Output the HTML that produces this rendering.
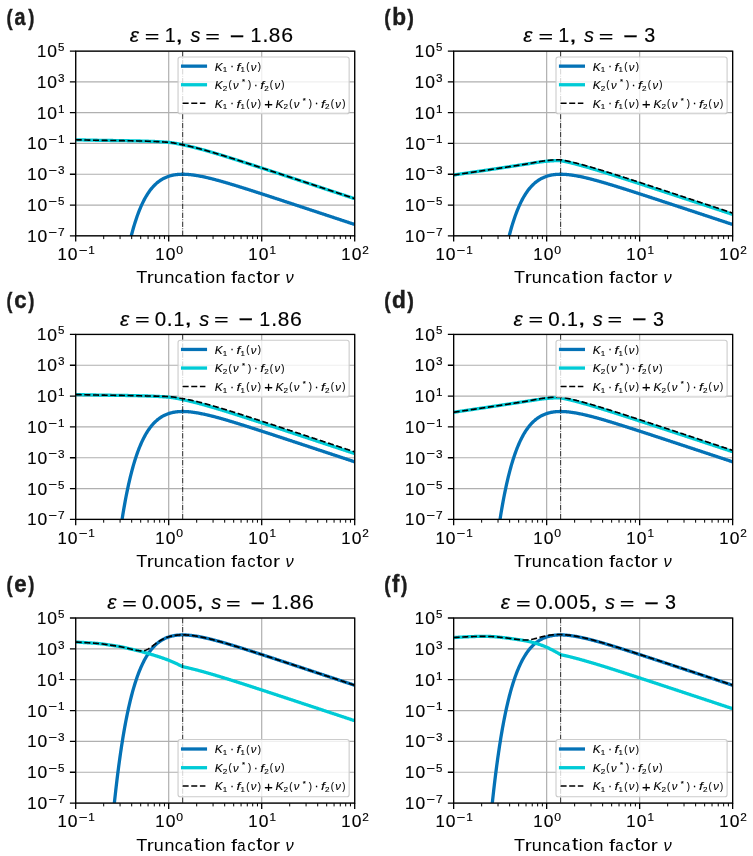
<!DOCTYPE html><html><head><meta charset="utf-8"><title>Truncation factor plots</title><style>html,body{margin:0;padding:0;background:#fff;}svg{display:block;will-change:transform;}text{font-family:"Liberation Sans",sans-serif;font-kerning:none;}</style></head><body>
<svg width="753" height="856" viewBox="0 0 753 856" font-family="Liberation Sans, sans-serif">
<rect width="753" height="856" fill="#fff"/>
<clipPath id="clipa"><rect x="75.7" y="51.15" width="279.0" height="184.65"/></clipPath>
<path d="M75.70,51.15V235.80 M168.70,51.15V235.80 M261.70,51.15V235.80 M354.70,51.15V235.80 M75.70,235.80H354.70 M75.70,205.03H354.70 M75.70,174.25H354.70 M75.70,143.47H354.70 M75.70,112.70H354.70 M75.70,81.92H354.70 M75.70,51.15H354.70" stroke="#b0b0b0" stroke-width="1.2" fill="none"/>
<g clip-path="url(#clipa)" fill="none">
<path d="M126.27,258.16 L126.85,255.25 L127.43,252.43 L128.01,249.70 L128.59,247.05 L129.18,244.48 L129.76,241.98 L130.34,239.57 L130.92,237.23 L131.50,234.96 L132.08,232.75 L132.66,230.62 L133.24,228.56 L133.82,226.55 L134.41,224.61 L134.99,222.73 L135.57,220.91 L136.15,219.15 L136.73,217.44 L137.31,215.79 L137.89,214.19 L138.47,212.63 L139.06,211.13 L139.64,209.68 L140.22,208.27 L140.80,206.91 L141.38,205.59 L141.96,204.32 L142.54,203.09 L143.12,201.89 L143.71,200.74 L144.29,199.63 L144.87,198.55 L145.45,197.51 L146.03,196.50 L146.61,195.53 L147.19,194.59 L147.78,193.68 L148.36,192.80 L148.94,191.96 L149.52,191.14 L150.10,190.35 L150.68,189.59 L151.26,188.86 L151.84,188.15 L152.43,187.47 L153.01,186.81 L153.59,186.18 L154.17,185.57 L154.75,184.99 L155.33,184.42 L155.91,183.88 L156.49,183.36 L157.07,182.86 L157.66,182.37 L158.24,181.91 L158.82,181.47 L159.40,181.04 L159.98,180.63 L160.56,180.24 L161.14,179.87 L161.73,179.51 L162.31,179.16 L162.89,178.83 L163.47,178.52 L164.05,178.22 L164.63,177.94 L165.21,177.67 L165.79,177.41 L166.38,177.16 L166.96,176.93 L167.54,176.71 L168.12,176.50 L168.70,176.30 L169.28,176.11 L169.86,175.94 L170.44,175.77 L171.03,175.62 L171.61,175.47 L172.19,175.33 L172.77,175.21 L173.35,175.09 L173.93,174.98 L174.51,174.88 L175.09,174.79 L175.68,174.71 L176.26,174.63 L176.84,174.56 L177.42,174.50 L178.00,174.45 L178.58,174.40 L179.16,174.36 L179.74,174.33 L180.32,174.30 L180.91,174.28 L181.49,174.26 L182.07,174.25 L182.65,174.25 L182.70,174.25 L183.23,174.25 L183.81,174.26 L184.39,174.27 L184.98,174.29 L185.56,174.31 L186.14,174.34 L186.72,174.37 L187.30,174.41 L187.88,174.45 L188.46,174.50 L189.04,174.55 L189.62,174.60 L190.21,174.66 L190.79,174.72 L191.37,174.79 L191.95,174.86 L192.53,174.93 L193.11,175.00 L193.69,175.08 L194.28,175.17 L194.86,175.25 L195.44,175.34 L196.02,175.43 L196.60,175.52 L197.18,175.62 L197.76,175.72 L198.34,175.82 L198.93,175.93 L199.51,176.04 L200.09,176.15 L200.67,176.26 L201.25,176.37 L201.83,176.49 L202.41,176.61 L202.99,176.73 L203.57,176.85 L204.16,176.98 L204.74,177.10 L205.32,177.23 L205.90,177.36 L206.48,177.50 L207.06,177.63 L207.64,177.77 L208.23,177.90 L208.81,178.04 L209.39,178.18 L209.97,178.32 L210.55,178.47 L211.13,178.61 L211.71,178.76 L212.29,178.90 L212.88,179.05 L213.46,179.20 L214.04,179.35 L214.62,179.51 L215.20,179.66 L215.78,179.81 L216.36,179.97 L216.94,180.13 L217.53,180.28 L218.11,180.44 L218.69,180.60 L219.27,180.76 L219.85,180.92 L220.43,181.09 L221.01,181.25 L221.59,181.41 L222.18,181.58 L222.76,181.74 L223.34,181.91 L223.92,182.08 L224.50,182.24 L225.08,182.41 L225.66,182.58 L226.24,182.75 L226.82,182.92 L227.41,183.09 L227.99,183.26 L228.57,183.44 L229.15,183.61 L229.73,183.78 L230.31,183.96 L230.89,184.13 L231.48,184.31 L232.06,184.48 L232.64,184.66 L233.22,184.83 L233.80,185.01 L234.38,185.19 L234.96,185.36 L235.54,185.54 L236.12,185.72 L236.71,185.90 L237.29,186.08 L237.87,186.26 L238.45,186.44 L239.03,186.62 L239.61,186.80 L240.19,186.98 L240.77,187.16 L241.36,187.34 L241.94,187.53 L242.52,187.71 L243.10,187.89 L243.68,188.07 L244.26,188.26 L244.84,188.44 L245.43,188.62 L246.01,188.81 L246.59,188.99 L247.17,189.18 L247.75,189.36 L248.33,189.55 L248.91,189.73 L249.49,189.92 L250.07,190.10 L250.66,190.29 L251.24,190.47 L251.82,190.66 L252.40,190.84 L252.98,191.03 L253.56,191.22 L254.14,191.40 L254.73,191.59 L255.31,191.78 L255.89,191.96 L256.47,192.15 L257.05,192.34 L257.63,192.53 L258.21,192.71 L258.79,192.90 L259.38,193.09 L259.96,193.28 L260.54,193.47 L261.12,193.66 L261.70,193.84 L262.28,194.03 L262.86,194.22 L263.44,194.41 L264.02,194.60 L264.61,194.79 L265.19,194.98 L265.77,195.17 L266.35,195.36 L266.93,195.54 L267.51,195.73 L268.09,195.92 L268.68,196.11 L269.26,196.30 L269.84,196.49 L270.42,196.68 L271.00,196.87 L271.58,197.06 L272.16,197.25 L272.74,197.44 L273.32,197.63 L273.91,197.82 L274.49,198.01 L275.07,198.20 L275.65,198.39 L276.23,198.58 L276.81,198.77 L277.39,198.96 L277.98,199.16 L278.56,199.35 L279.14,199.54 L279.72,199.73 L280.30,199.92 L280.88,200.11 L281.46,200.30 L282.04,200.49 L282.62,200.68 L283.21,200.87 L283.79,201.06 L284.37,201.26 L284.95,201.45 L285.53,201.64 L286.11,201.83 L286.69,202.02 L287.27,202.21 L287.86,202.40 L288.44,202.59 L289.02,202.78 L289.60,202.98 L290.18,203.17 L290.76,203.36 L291.34,203.55 L291.93,203.74 L292.51,203.93 L293.09,204.13 L293.67,204.32 L294.25,204.51 L294.83,204.70 L295.41,204.89 L295.99,205.08 L296.57,205.27 L297.16,205.47 L297.74,205.66 L298.32,205.85 L298.90,206.04 L299.48,206.23 L300.06,206.42 L300.64,206.62 L301.23,206.81 L301.81,207.00 L302.39,207.19 L302.97,207.38 L303.55,207.58 L304.13,207.77 L304.71,207.96 L305.29,208.15 L305.88,208.34 L306.46,208.54 L307.04,208.73 L307.62,208.92 L308.20,209.11 L308.78,209.30 L309.36,209.49 L309.94,209.69 L310.53,209.88 L311.11,210.07 L311.69,210.26 L312.27,210.46 L312.85,210.65 L313.43,210.84 L314.01,211.03 L314.59,211.22 L315.18,211.42 L315.76,211.61 L316.34,211.80 L316.92,211.99 L317.50,212.18 L318.08,212.38 L318.66,212.57 L319.24,212.76 L319.82,212.95 L320.41,213.14 L320.99,213.34 L321.57,213.53 L322.15,213.72 L322.73,213.91 L323.31,214.10 L323.89,214.30 L324.48,214.49 L325.06,214.68 L325.64,214.87 L326.22,215.07 L326.80,215.26 L327.38,215.45 L327.96,215.64 L328.54,215.83 L329.12,216.03 L329.71,216.22 L330.29,216.41 L330.87,216.60 L331.45,216.80 L332.03,216.99 L332.61,217.18 L333.19,217.37 L333.78,217.56 L334.36,217.76 L334.94,217.95 L335.52,218.14 L336.10,218.33 L336.68,218.53 L337.26,218.72 L337.84,218.91 L338.43,219.10 L339.01,219.29 L339.59,219.49 L340.17,219.68 L340.75,219.87 L341.33,220.06 L341.91,220.26 L342.49,220.45 L343.07,220.64 L343.66,220.83 L344.24,221.03 L344.82,221.22 L345.40,221.41 L345.98,221.60 L346.56,221.79 L347.14,221.99 L347.73,222.18 L348.31,222.37 L348.89,222.56 L349.47,222.76 L350.05,222.95 L350.63,223.14 L351.21,223.33 L351.79,223.53 L352.38,223.72 L352.96,223.91 L353.54,224.10 L354.12,224.29 L354.70,224.49" stroke="#0472b6" stroke-width="3.3" stroke-linejoin="round"/>
<path d="M75.70,139.78 L76.28,139.80 L76.86,139.81 L77.44,139.83 L78.03,139.84 L78.61,139.85 L79.19,139.87 L79.77,139.88 L80.35,139.90 L80.93,139.91 L81.51,139.93 L82.09,139.94 L82.67,139.95 L83.26,139.97 L83.84,139.98 L84.42,140.00 L85.00,140.01 L85.58,140.02 L86.16,140.04 L86.74,140.05 L87.33,140.06 L87.91,140.08 L88.49,140.09 L89.07,140.10 L89.65,140.11 L90.23,140.13 L90.81,140.14 L91.39,140.15 L91.98,140.16 L92.56,140.18 L93.14,140.19 L93.72,140.20 L94.30,140.21 L94.88,140.22 L95.46,140.24 L96.04,140.25 L96.62,140.26 L97.21,140.27 L97.79,140.28 L98.37,140.29 L98.95,140.30 L99.53,140.31 L100.11,140.32 L100.69,140.34 L101.28,140.35 L101.86,140.36 L102.44,140.37 L103.02,140.37 L103.60,140.38 L104.18,140.39 L104.76,140.40 L105.34,140.41 L105.92,140.42 L106.51,140.43 L107.09,140.44 L107.67,140.45 L108.25,140.45 L108.83,140.46 L109.41,140.47 L109.99,140.48 L110.58,140.49 L111.16,140.49 L111.74,140.50 L112.32,140.51 L112.90,140.52 L113.48,140.53 L114.06,140.53 L114.64,140.54 L115.23,140.55 L115.81,140.56 L116.39,140.57 L116.97,140.57 L117.55,140.58 L118.13,140.59 L118.71,140.60 L119.29,140.61 L119.88,140.61 L120.46,140.62 L121.04,140.63 L121.62,140.64 L122.20,140.65 L122.78,140.66 L123.36,140.67 L123.94,140.68 L124.53,140.69 L125.11,140.69 L125.69,140.70 L126.27,140.71 L126.85,140.72 L127.43,140.74 L128.01,140.75 L128.59,140.76 L129.18,140.77 L129.76,140.78 L130.34,140.79 L130.92,140.80 L131.50,140.81 L132.08,140.83 L132.66,140.84 L133.24,140.85 L133.82,140.86 L134.41,140.88 L134.99,140.89 L135.57,140.90 L136.15,140.91 L136.73,140.93 L137.31,140.94 L137.89,140.96 L138.47,140.97 L139.06,140.98 L139.64,141.00 L140.22,141.01 L140.80,141.03 L141.38,141.05 L141.96,141.06 L142.54,141.08 L143.12,141.09 L143.71,141.11 L144.29,141.13 L144.87,141.15 L145.45,141.16 L146.03,141.18 L146.61,141.20 L147.19,141.22 L147.78,141.24 L148.36,141.26 L148.94,141.28 L149.52,141.30 L150.10,141.32 L150.68,141.34 L151.26,141.36 L151.84,141.39 L152.43,141.41 L153.01,141.43 L153.59,141.46 L154.17,141.48 L154.75,141.51 L155.33,141.53 L155.91,141.56 L156.49,141.59 L157.07,141.62 L157.66,141.64 L158.24,141.67 L158.82,141.71 L159.40,141.74 L159.98,141.77 L160.56,141.80 L161.14,141.84 L161.73,141.87 L162.31,141.91 L162.89,141.95 L163.47,141.99 L164.05,142.03 L164.63,142.07 L165.21,142.11 L165.79,142.16 L166.38,142.20 L166.96,142.25 L167.54,142.30 L168.12,142.35 L168.70,142.40 L169.28,142.45 L169.86,142.51 L170.44,142.58 L171.03,142.65 L171.61,142.73 L172.19,142.81 L172.77,142.89 L173.35,142.98 L173.93,143.08 L174.51,143.18 L175.09,143.28 L175.68,143.38 L176.26,143.49 L176.84,143.61 L177.42,143.72 L178.00,143.84 L178.58,143.96 L179.16,144.08 L179.74,144.20 L180.32,144.33 L180.91,144.46 L181.49,144.59 L182.07,144.72 L182.65,144.85 L182.70,144.86 L183.23,144.97 L183.81,145.08 L184.39,145.20 L184.98,145.33 L185.56,145.45 L186.14,145.57 L186.72,145.70 L187.30,145.83 L187.88,145.96 L188.46,146.09 L189.04,146.22 L189.62,146.36 L190.21,146.50 L190.79,146.63 L191.37,146.77 L191.95,146.91 L192.53,147.05 L193.11,147.20 L193.69,147.34 L194.28,147.48 L194.86,147.63 L195.44,147.78 L196.02,147.93 L196.60,148.08 L197.18,148.23 L197.76,148.38 L198.34,148.53 L198.93,148.68 L199.51,148.84 L200.09,148.99 L200.67,149.15 L201.25,149.31 L201.83,149.47 L202.41,149.62 L202.99,149.78 L203.57,149.94 L204.16,150.11 L204.74,150.27 L205.32,150.43 L205.90,150.59 L206.48,150.76 L207.06,150.92 L207.64,151.09 L208.23,151.26 L208.81,151.42 L209.39,151.59 L209.97,151.76 L210.55,151.93 L211.13,152.10 L211.71,152.27 L212.29,152.44 L212.88,152.61 L213.46,152.78 L214.04,152.95 L214.62,153.13 L215.20,153.30 L215.78,153.47 L216.36,153.65 L216.94,153.82 L217.53,154.00 L218.11,154.17 L218.69,154.35 L219.27,154.52 L219.85,154.70 L220.43,154.88 L221.01,155.05 L221.59,155.23 L222.18,155.41 L222.76,155.59 L223.34,155.77 L223.92,155.95 L224.50,156.13 L225.08,156.30 L225.66,156.48 L226.24,156.67 L226.82,156.85 L227.41,157.03 L227.99,157.21 L228.57,157.39 L229.15,157.57 L229.73,157.75 L230.31,157.94 L230.89,158.12 L231.48,158.30 L232.06,158.48 L232.64,158.67 L233.22,158.85 L233.80,159.03 L234.38,159.22 L234.96,159.40 L235.54,159.59 L236.12,159.77 L236.71,159.96 L237.29,160.14 L237.87,160.33 L238.45,160.51 L239.03,160.70 L239.61,160.88 L240.19,161.07 L240.77,161.25 L241.36,161.44 L241.94,161.63 L242.52,161.81 L243.10,162.00 L243.68,162.19 L244.26,162.37 L244.84,162.56 L245.43,162.75 L246.01,162.93 L246.59,163.12 L247.17,163.31 L247.75,163.50 L248.33,163.68 L248.91,163.87 L249.49,164.06 L250.07,164.25 L250.66,164.44 L251.24,164.62 L251.82,164.81 L252.40,165.00 L252.98,165.19 L253.56,165.38 L254.14,165.57 L254.73,165.76 L255.31,165.94 L255.89,166.13 L256.47,166.32 L257.05,166.51 L257.63,166.70 L258.21,166.89 L258.79,167.08 L259.38,167.27 L259.96,167.46 L260.54,167.65 L261.12,167.84 L261.70,168.03 L262.28,168.22 L262.86,168.41 L263.44,168.60 L264.02,168.79 L264.61,168.98 L265.19,169.17 L265.77,169.36 L266.35,169.55 L266.93,169.74 L267.51,169.93 L268.09,170.12 L268.68,170.31 L269.26,170.50 L269.84,170.69 L270.42,170.88 L271.00,171.07 L271.58,171.26 L272.16,171.45 L272.74,171.64 L273.32,171.83 L273.91,172.03 L274.49,172.22 L275.07,172.41 L275.65,172.60 L276.23,172.79 L276.81,172.98 L277.39,173.17 L277.98,173.36 L278.56,173.55 L279.14,173.74 L279.72,173.94 L280.30,174.13 L280.88,174.32 L281.46,174.51 L282.04,174.70 L282.62,174.89 L283.21,175.08 L283.79,175.27 L284.37,175.47 L284.95,175.66 L285.53,175.85 L286.11,176.04 L286.69,176.23 L287.27,176.42 L287.86,176.61 L288.44,176.81 L289.02,177.00 L289.60,177.19 L290.18,177.38 L290.76,177.57 L291.34,177.76 L291.93,177.96 L292.51,178.15 L293.09,178.34 L293.67,178.53 L294.25,178.72 L294.83,178.91 L295.41,179.11 L295.99,179.30 L296.57,179.49 L297.16,179.68 L297.74,179.87 L298.32,180.06 L298.90,180.26 L299.48,180.45 L300.06,180.64 L300.64,180.83 L301.23,181.02 L301.81,181.22 L302.39,181.41 L302.97,181.60 L303.55,181.79 L304.13,181.98 L304.71,182.17 L305.29,182.37 L305.88,182.56 L306.46,182.75 L307.04,182.94 L307.62,183.13 L308.20,183.33 L308.78,183.52 L309.36,183.71 L309.94,183.90 L310.53,184.09 L311.11,184.29 L311.69,184.48 L312.27,184.67 L312.85,184.86 L313.43,185.05 L314.01,185.25 L314.59,185.44 L315.18,185.63 L315.76,185.82 L316.34,186.02 L316.92,186.21 L317.50,186.40 L318.08,186.59 L318.66,186.78 L319.24,186.98 L319.82,187.17 L320.41,187.36 L320.99,187.55 L321.57,187.74 L322.15,187.94 L322.73,188.13 L323.31,188.32 L323.89,188.51 L324.48,188.71 L325.06,188.90 L325.64,189.09 L326.22,189.28 L326.80,189.47 L327.38,189.67 L327.96,189.86 L328.54,190.05 L329.12,190.24 L329.71,190.44 L330.29,190.63 L330.87,190.82 L331.45,191.01 L332.03,191.20 L332.61,191.40 L333.19,191.59 L333.78,191.78 L334.36,191.97 L334.94,192.16 L335.52,192.36 L336.10,192.55 L336.68,192.74 L337.26,192.93 L337.84,193.13 L338.43,193.32 L339.01,193.51 L339.59,193.70 L340.17,193.90 L340.75,194.09 L341.33,194.28 L341.91,194.47 L342.49,194.66 L343.07,194.86 L343.66,195.05 L344.24,195.24 L344.82,195.43 L345.40,195.63 L345.98,195.82 L346.56,196.01 L347.14,196.20 L347.73,196.39 L348.31,196.59 L348.89,196.78 L349.47,196.97 L350.05,197.16 L350.63,197.36 L351.21,197.55 L351.79,197.74 L352.38,197.93 L352.96,198.13 L353.54,198.32 L354.12,198.51 L354.70,198.70" stroke="#00cbd6" stroke-width="3.3" stroke-linejoin="round"/>
<path d="M75.70,139.78 L76.28,139.80 L76.86,139.81 L77.44,139.83 L78.03,139.84 L78.61,139.85 L79.19,139.87 L79.77,139.88 L80.35,139.90 L80.93,139.91 L81.51,139.93 L82.09,139.94 L82.67,139.95 L83.26,139.97 L83.84,139.98 L84.42,140.00 L85.00,140.01 L85.58,140.02 L86.16,140.04 L86.74,140.05 L87.33,140.06 L87.91,140.08 L88.49,140.09 L89.07,140.10 L89.65,140.11 L90.23,140.13 L90.81,140.14 L91.39,140.15 L91.98,140.16 L92.56,140.18 L93.14,140.19 L93.72,140.20 L94.30,140.21 L94.88,140.22 L95.46,140.24 L96.04,140.25 L96.62,140.26 L97.21,140.27 L97.79,140.28 L98.37,140.29 L98.95,140.30 L99.53,140.31 L100.11,140.32 L100.69,140.34 L101.28,140.35 L101.86,140.36 L102.44,140.37 L103.02,140.37 L103.60,140.38 L104.18,140.39 L104.76,140.40 L105.34,140.41 L105.92,140.42 L106.51,140.43 L107.09,140.44 L107.67,140.45 L108.25,140.45 L108.83,140.46 L109.41,140.47 L109.99,140.48 L110.58,140.49 L111.16,140.49 L111.74,140.50 L112.32,140.51 L112.90,140.52 L113.48,140.53 L114.06,140.53 L114.64,140.54 L115.23,140.55 L115.81,140.56 L116.39,140.57 L116.97,140.57 L117.55,140.58 L118.13,140.59 L118.71,140.60 L119.29,140.61 L119.88,140.61 L120.46,140.62 L121.04,140.63 L121.62,140.64 L122.20,140.65 L122.78,140.66 L123.36,140.67 L123.94,140.68 L124.53,140.69 L125.11,140.69 L125.69,140.70 L126.27,140.71 L126.85,140.72 L127.43,140.74 L128.01,140.75 L128.59,140.76 L129.18,140.77 L129.76,140.78 L130.34,140.79 L130.92,140.80 L131.50,140.81 L132.08,140.83 L132.66,140.84 L133.24,140.85 L133.82,140.86 L134.41,140.88 L134.99,140.89 L135.57,140.90 L136.15,140.91 L136.73,140.93 L137.31,140.94 L137.89,140.96 L138.47,140.97 L139.06,140.98 L139.64,141.00 L140.22,141.01 L140.80,141.03 L141.38,141.04 L141.96,141.06 L142.54,141.08 L143.12,141.09 L143.71,141.11 L144.29,141.13 L144.87,141.14 L145.45,141.16 L146.03,141.18 L146.61,141.20 L147.19,141.22 L147.78,141.24 L148.36,141.26 L148.94,141.28 L149.52,141.30 L150.10,141.32 L150.68,141.34 L151.26,141.36 L151.84,141.38 L152.43,141.40 L153.01,141.43 L153.59,141.45 L154.17,141.47 L154.75,141.50 L155.33,141.52 L155.91,141.55 L156.49,141.57 L157.07,141.60 L157.66,141.63 L158.24,141.66 L158.82,141.69 L159.40,141.72 L159.98,141.75 L160.56,141.78 L161.14,141.82 L161.73,141.85 L162.31,141.89 L162.89,141.92 L163.47,141.96 L164.05,142.00 L164.63,142.04 L165.21,142.08 L165.79,142.12 L166.38,142.17 L166.96,142.21 L167.54,142.26 L168.12,142.31 L168.70,142.36 L169.28,142.41 L169.86,142.47 L170.44,142.53 L171.03,142.60 L171.61,142.68 L172.19,142.76 L172.77,142.84 L173.35,142.93 L173.93,143.02 L174.51,143.12 L175.09,143.22 L175.68,143.32 L176.26,143.43 L176.84,143.54 L177.42,143.65 L178.00,143.77 L178.58,143.89 L179.16,144.01 L179.74,144.13 L180.32,144.26 L180.91,144.38 L181.49,144.51 L182.07,144.64 L182.65,144.77 L182.70,144.78 L183.23,144.88 L183.81,145.00 L184.39,145.12 L184.98,145.24 L185.56,145.36 L186.14,145.49 L186.72,145.61 L187.30,145.74 L187.88,145.87 L188.46,146.00 L189.04,146.13 L189.62,146.26 L190.21,146.40 L190.79,146.53 L191.37,146.67 L191.95,146.81 L192.53,146.95 L193.11,147.09 L193.69,147.23 L194.28,147.38 L194.86,147.52 L195.44,147.67 L196.02,147.82 L196.60,147.97 L197.18,148.12 L197.76,148.27 L198.34,148.42 L198.93,148.57 L199.51,148.72 L200.09,148.88 L200.67,149.04 L201.25,149.19 L201.83,149.35 L202.41,149.51 L202.99,149.67 L203.57,149.83 L204.16,149.99 L204.74,150.15 L205.32,150.31 L205.90,150.47 L206.48,150.64 L207.06,150.80 L207.64,150.97 L208.23,151.13 L208.81,151.30 L209.39,151.47 L209.97,151.63 L210.55,151.80 L211.13,151.97 L211.71,152.14 L212.29,152.31 L212.88,152.48 L213.46,152.65 L214.04,152.83 L214.62,153.00 L215.20,153.17 L215.78,153.34 L216.36,153.52 L216.94,153.69 L217.53,153.87 L218.11,154.04 L218.69,154.22 L219.27,154.39 L219.85,154.57 L220.43,154.75 L221.01,154.92 L221.59,155.10 L222.18,155.28 L222.76,155.46 L223.34,155.63 L223.92,155.81 L224.50,155.99 L225.08,156.17 L225.66,156.35 L226.24,156.53 L226.82,156.71 L227.41,156.89 L227.99,157.07 L228.57,157.26 L229.15,157.44 L229.73,157.62 L230.31,157.80 L230.89,157.98 L231.48,158.17 L232.06,158.35 L232.64,158.53 L233.22,158.72 L233.80,158.90 L234.38,159.08 L234.96,159.27 L235.54,159.45 L236.12,159.64 L236.71,159.82 L237.29,160.00 L237.87,160.19 L238.45,160.37 L239.03,160.56 L239.61,160.75 L240.19,160.93 L240.77,161.12 L241.36,161.30 L241.94,161.49 L242.52,161.68 L243.10,161.86 L243.68,162.05 L244.26,162.24 L244.84,162.42 L245.43,162.61 L246.01,162.80 L246.59,162.98 L247.17,163.17 L247.75,163.36 L248.33,163.55 L248.91,163.73 L249.49,163.92 L250.07,164.11 L250.66,164.30 L251.24,164.49 L251.82,164.67 L252.40,164.86 L252.98,165.05 L253.56,165.24 L254.14,165.43 L254.73,165.62 L255.31,165.81 L255.89,166.00 L256.47,166.18 L257.05,166.37 L257.63,166.56 L258.21,166.75 L258.79,166.94 L259.38,167.13 L259.96,167.32 L260.54,167.51 L261.12,167.70 L261.70,167.89 L262.28,168.08 L262.86,168.27 L263.44,168.46 L264.02,168.65 L264.61,168.84 L265.19,169.03 L265.77,169.22 L266.35,169.41 L266.93,169.60 L267.51,169.79 L268.09,169.98 L268.68,170.17 L269.26,170.36 L269.84,170.55 L270.42,170.74 L271.00,170.93 L271.58,171.12 L272.16,171.31 L272.74,171.50 L273.32,171.70 L273.91,171.89 L274.49,172.08 L275.07,172.27 L275.65,172.46 L276.23,172.65 L276.81,172.84 L277.39,173.03 L277.98,173.22 L278.56,173.41 L279.14,173.60 L279.72,173.80 L280.30,173.99 L280.88,174.18 L281.46,174.37 L282.04,174.56 L282.62,174.75 L283.21,174.94 L283.79,175.13 L284.37,175.33 L284.95,175.52 L285.53,175.71 L286.11,175.90 L286.69,176.09 L287.27,176.28 L287.86,176.47 L288.44,176.67 L289.02,176.86 L289.60,177.05 L290.18,177.24 L290.76,177.43 L291.34,177.62 L291.93,177.82 L292.51,178.01 L293.09,178.20 L293.67,178.39 L294.25,178.58 L294.83,178.77 L295.41,178.97 L295.99,179.16 L296.57,179.35 L297.16,179.54 L297.74,179.73 L298.32,179.92 L298.90,180.12 L299.48,180.31 L300.06,180.50 L300.64,180.69 L301.23,180.88 L301.81,181.08 L302.39,181.27 L302.97,181.46 L303.55,181.65 L304.13,181.84 L304.71,182.04 L305.29,182.23 L305.88,182.42 L306.46,182.61 L307.04,182.80 L307.62,183.00 L308.20,183.19 L308.78,183.38 L309.36,183.57 L309.94,183.76 L310.53,183.96 L311.11,184.15 L311.69,184.34 L312.27,184.53 L312.85,184.72 L313.43,184.92 L314.01,185.11 L314.59,185.30 L315.18,185.49 L315.76,185.68 L316.34,185.88 L316.92,186.07 L317.50,186.26 L318.08,186.45 L318.66,186.64 L319.24,186.84 L319.82,187.03 L320.41,187.22 L320.99,187.41 L321.57,187.60 L322.15,187.80 L322.73,187.99 L323.31,188.18 L323.89,188.37 L324.48,188.57 L325.06,188.76 L325.64,188.95 L326.22,189.14 L326.80,189.33 L327.38,189.53 L327.96,189.72 L328.54,189.91 L329.12,190.10 L329.71,190.30 L330.29,190.49 L330.87,190.68 L331.45,190.87 L332.03,191.06 L332.61,191.26 L333.19,191.45 L333.78,191.64 L334.36,191.83 L334.94,192.03 L335.52,192.22 L336.10,192.41 L336.68,192.60 L337.26,192.79 L337.84,192.99 L338.43,193.18 L339.01,193.37 L339.59,193.56 L340.17,193.76 L340.75,193.95 L341.33,194.14 L341.91,194.33 L342.49,194.52 L343.07,194.72 L343.66,194.91 L344.24,195.10 L344.82,195.29 L345.40,195.49 L345.98,195.68 L346.56,195.87 L347.14,196.06 L347.73,196.26 L348.31,196.45 L348.89,196.64 L349.47,196.83 L350.05,197.02 L350.63,197.22 L351.21,197.41 L351.79,197.60 L352.38,197.79 L352.96,197.99 L353.54,198.18 L354.12,198.37 L354.70,198.56" stroke="#000" stroke-width="1.63" stroke-dasharray="6.03 2.61"/>
<path d="M182.70,51.15V235.80" stroke="#000" stroke-width="0.85" stroke-dasharray="5.4 1.36 0.85 1.36"/>
</g>
<rect x="178.05" y="56.95" width="171.1" height="56.75" rx="2.3" fill="#fff" fill-opacity="0.8" stroke="#cccccc" stroke-width="1.1"/>
<path d="M182.61,66.15H205.41" stroke="#0472b6" stroke-width="3.3" stroke-linecap="square"/>
<path d="M182.61,84.75H205.41" stroke="#00cbd6" stroke-width="3.3" stroke-linecap="square"/>
<path d="M182.61,103.25H205.41" stroke="#000" stroke-width="1.63" stroke-dasharray="6.03 2.61"/>
<g fill="#000" stroke="#000" stroke-width="0.12"><text transform="translate(214.82,70.55) scale(1.033,1.007)" font-size="11.40" font-style="italic">K</text><text transform="translate(222.77,72.33) scale(1.007,1.007)" font-size="7.98">1</text><text transform="translate(230.02,70.18) scale(1.082,1.097)" font-size="11.40">·</text><text transform="translate(236.53,70.55) scale(1.241,0.996)" font-size="11.40" font-style="italic">f</text><text transform="translate(240.59,72.33) scale(1.007,1.007)" font-size="7.98">1</text><text transform="translate(246.20,69.83) scale(0.845,0.908)" font-size="11.40">(</text><text transform="translate(250.83,70.55) scale(0.988,0.983)" font-size="11.40" font-style="italic">ν</text><text transform="translate(257.71,69.83) scale(0.845,0.908)" font-size="11.40">)</text><text transform="translate(214.82,89.15) scale(1.033,1.007)" font-size="11.40" font-style="italic">K</text><text transform="translate(222.68,90.93) scale(1.016,1.010)" font-size="7.98">2</text><text transform="translate(228.38,88.43) scale(0.845,0.908)" font-size="11.40">(</text><text transform="translate(233.01,89.15) scale(0.988,0.983)" font-size="11.40" font-style="italic">ν</text><text transform="translate(242.00,84.29) scale(1.232,1.234)" font-size="6.38">*</text><text transform="translate(247.97,88.43) scale(0.845,0.908)" font-size="11.40">)</text><text transform="translate(253.67,88.78) scale(1.082,1.097)" font-size="11.40">·</text><text transform="translate(260.17,89.15) scale(1.241,0.996)" font-size="11.40" font-style="italic">f</text><text transform="translate(264.15,90.93) scale(1.016,1.010)" font-size="7.98">2</text><text transform="translate(269.85,88.43) scale(0.845,0.908)" font-size="11.40">(</text><text transform="translate(274.48,89.15) scale(0.988,0.983)" font-size="11.40" font-style="italic">ν</text><text transform="translate(281.35,88.43) scale(0.845,0.908)" font-size="11.40">)</text><text transform="translate(214.82,107.65) scale(1.033,1.007)" font-size="11.40" font-style="italic">K</text><text transform="translate(222.77,109.43) scale(1.007,1.007)" font-size="7.98">1</text><text transform="translate(230.02,107.28) scale(1.082,1.097)" font-size="11.40">·</text><text transform="translate(236.53,107.65) scale(1.241,0.996)" font-size="11.40" font-style="italic">f</text><text transform="translate(240.59,109.43) scale(1.007,1.007)" font-size="7.98">1</text><text transform="translate(246.20,106.93) scale(0.845,0.908)" font-size="11.40">(</text><text transform="translate(250.83,107.65) scale(0.988,0.983)" font-size="11.40" font-style="italic">ν</text><text transform="translate(257.71,106.93) scale(0.845,0.908)" font-size="11.40">)</text><text transform="translate(264.14,108.87) scale(1.288,1.217)" font-size="11.40">+</text><text transform="translate(275.61,107.65) scale(1.033,1.007)" font-size="11.40" font-style="italic">K</text><text transform="translate(283.46,109.43) scale(1.016,1.010)" font-size="7.98">2</text><text transform="translate(289.17,106.93) scale(0.845,0.908)" font-size="11.40">(</text><text transform="translate(293.79,107.65) scale(0.988,0.983)" font-size="11.40" font-style="italic">ν</text><text transform="translate(302.78,102.79) scale(1.232,1.234)" font-size="6.38">*</text><text transform="translate(308.75,106.93) scale(0.845,0.908)" font-size="11.40">)</text><text transform="translate(314.45,107.28) scale(1.082,1.097)" font-size="11.40">·</text><text transform="translate(320.95,107.65) scale(1.241,0.996)" font-size="11.40" font-style="italic">f</text><text transform="translate(324.93,109.43) scale(1.016,1.010)" font-size="7.98">2</text><text transform="translate(330.63,106.93) scale(0.845,0.908)" font-size="11.40">(</text><text transform="translate(335.26,107.65) scale(0.988,0.983)" font-size="11.40" font-style="italic">ν</text><text transform="translate(342.14,106.93) scale(0.845,0.908)" font-size="11.40">)</text></g>
<rect x="75.7" y="51.15" width="279.0" height="184.65" fill="none" stroke="#000" stroke-width="1.3"/>
<path d="M75.70,235.80v5.8 M168.70,235.80v5.8 M261.70,235.80v5.8 M354.70,235.80v5.8 M75.70,235.80h-5.8 M75.70,205.03h-5.8 M75.70,174.25h-5.8 M75.70,143.47h-5.8 M75.70,112.70h-5.8 M75.70,81.92h-5.8 M75.70,51.15h-5.8" stroke="#000" stroke-width="1.3" fill="none"/>
<path d="M103.70,235.80v3.3 M120.07,235.80v3.3 M131.69,235.80v3.3 M140.70,235.80v3.3 M148.07,235.80v3.3 M154.29,235.80v3.3 M159.69,235.80v3.3 M164.44,235.80v3.3 M196.70,235.80v3.3 M213.07,235.80v3.3 M224.69,235.80v3.3 M233.70,235.80v3.3 M241.07,235.80v3.3 M247.29,235.80v3.3 M252.69,235.80v3.3 M257.44,235.80v3.3 M289.70,235.80v3.3 M306.07,235.80v3.3 M317.69,235.80v3.3 M326.70,235.80v3.3 M334.07,235.80v3.3 M340.29,235.80v3.3 M345.69,235.80v3.3 M350.44,235.80v3.3" stroke="#000" stroke-width="1.0" fill="none"/>
<g fill="#000" stroke="#000" stroke-width="0.15"><text transform="translate(27.14,241.80) scale(1.007,1.007)" font-size="16.60">1</text><text transform="translate(37.56,241.86) scale(1.054,1.015)" font-size="16.60">0</text><text transform="translate(48.36,236.51) scale(1.288,1.106)" font-size="11.62">−</text><text transform="translate(57.95,235.70) scale(1.031,1.007)" font-size="11.62">7</text><text transform="translate(27.14,211.03) scale(1.007,1.007)" font-size="16.60">1</text><text transform="translate(37.56,211.08) scale(1.054,1.015)" font-size="16.60">0</text><text transform="translate(48.36,205.74) scale(1.288,1.106)" font-size="11.62">−</text><text transform="translate(58.04,204.97) scale(0.995,1.012)" font-size="11.62">5</text><text transform="translate(27.14,180.25) scale(1.007,1.007)" font-size="16.60">1</text><text transform="translate(37.56,180.31) scale(1.054,1.015)" font-size="16.60">0</text><text transform="translate(48.36,174.96) scale(1.288,1.106)" font-size="11.62">−</text><text transform="translate(58.04,174.19) scale(1.012,1.015)" font-size="11.62">3</text><text transform="translate(27.14,149.47) scale(1.007,1.007)" font-size="16.60">1</text><text transform="translate(37.56,149.53) scale(1.054,1.015)" font-size="16.60">0</text><text transform="translate(48.36,144.19) scale(1.288,1.106)" font-size="11.62">−</text><text transform="translate(57.99,143.38) scale(1.007,1.007)" font-size="11.62">1</text><text transform="translate(36.88,118.70) scale(1.007,1.007)" font-size="16.60">1</text><text transform="translate(47.29,118.76) scale(1.054,1.015)" font-size="16.60">0</text><text transform="translate(57.99,112.60) scale(1.007,1.007)" font-size="11.62">1</text><text transform="translate(36.88,87.92) scale(1.007,1.007)" font-size="16.60">1</text><text transform="translate(47.29,87.98) scale(1.054,1.015)" font-size="16.60">0</text><text transform="translate(58.04,81.87) scale(1.012,1.015)" font-size="11.62">3</text><text transform="translate(36.88,57.15) scale(1.007,1.007)" font-size="16.60">1</text><text transform="translate(47.29,57.21) scale(1.054,1.015)" font-size="16.60">0</text><text transform="translate(58.04,51.09) scale(0.995,1.012)" font-size="11.62">5</text><text transform="translate(57.45,259.90) scale(1.007,1.007)" font-size="16.60">1</text><text transform="translate(67.86,259.96) scale(1.054,1.015)" font-size="16.60">0</text><text transform="translate(78.67,254.61) scale(1.288,1.106)" font-size="11.62">−</text><text transform="translate(88.30,253.80) scale(1.007,1.007)" font-size="11.62">1</text><text transform="translate(155.31,259.90) scale(1.007,1.007)" font-size="16.60">1</text><text transform="translate(165.73,259.96) scale(1.054,1.015)" font-size="16.60">0</text><text transform="translate(176.33,253.84) scale(1.054,1.015)" font-size="11.62">0</text><text transform="translate(248.31,259.90) scale(1.007,1.007)" font-size="16.60">1</text><text transform="translate(258.73,259.96) scale(1.054,1.015)" font-size="16.60">0</text><text transform="translate(269.43,253.80) scale(1.007,1.007)" font-size="11.62">1</text><text transform="translate(341.31,259.90) scale(1.007,1.007)" font-size="16.60">1</text><text transform="translate(351.73,259.96) scale(1.054,1.015)" font-size="16.60">0</text><text transform="translate(362.30,253.80) scale(1.016,1.010)" font-size="11.62">2</text><text transform="translate(129.75,42.38) scale(1.073,1.050)" font-size="19.50" font-style="italic">ε</text><text transform="translate(144.81,41.82) scale(1.288,0.876)" font-size="19.50">=</text><text transform="translate(164.66,42.30) scale(1.007,1.060)" font-size="19.50">1</text><text transform="translate(175.37,42.01) scale(1.458,1.023)" font-size="19.50">,</text><text transform="translate(190.40,42.38) scale(1.025,1.051)" font-size="19.50" font-style="italic">s</text><text transform="translate(205.13,41.82) scale(1.288,0.876)" font-size="19.50">=</text><text transform="translate(229.64,43.74) scale(1.288,1.164)" font-size="19.50">−</text><text transform="translate(250.48,42.30) scale(1.007,1.060)" font-size="19.50">1</text><text transform="translate(262.40,42.30) scale(1.082,1.160)" font-size="19.50">.</text><text transform="translate(268.86,42.37) scale(1.066,1.068)" font-size="19.50">8</text><text transform="translate(281.13,42.37) scale(1.091,1.068)" font-size="19.50">6</text></g>
<g fill="#000"><text transform="translate(136.14,283.20) scale(1.091,1.038)" font-size="16.60">T</text><text transform="translate(146.84,283.20) scale(1.281,1.020)" font-size="16.60">r</text><text transform="translate(153.81,283.26) scale(1.078,1.046)" font-size="16.60">u</text><text transform="translate(164.40,283.20) scale(1.078,1.020)" font-size="16.60">n</text><text transform="translate(174.81,283.26) scale(1.003,1.027)" font-size="16.60">c</text><text transform="translate(184.10,283.26) scale(0.899,1.027)" font-size="16.60">a</text><text transform="translate(194.02,283.06) scale(1.337,1.052)" font-size="16.60">t</text><text transform="translate(200.84,283.20) scale(1.022,1.028)" font-size="16.60">i</text><text transform="translate(205.20,283.26) scale(1.063,1.027)" font-size="16.60">o</text><text transform="translate(215.50,283.20) scale(1.078,1.020)" font-size="16.60">n</text><text transform="translate(231.05,283.20) scale(1.313,1.029)" font-size="16.60">f</text><text transform="translate(237.19,283.26) scale(0.899,1.027)" font-size="16.60">a</text><text transform="translate(247.20,283.26) scale(1.003,1.027)" font-size="16.60">c</text><text transform="translate(256.23,283.06) scale(1.337,1.052)" font-size="16.60">t</text><text transform="translate(262.81,283.26) scale(1.063,1.027)" font-size="16.60">o</text><text transform="translate(272.88,283.20) scale(1.281,1.020)" font-size="16.60">r</text><text transform="translate(285.58,283.20) scale(0.988,1.014)" font-size="16.60" font-style="italic">ν</text></g>
<g fill="#1c1c1c" stroke="#1c1c1c" stroke-width="0.45"><text transform="translate(6.38,24.52) scale(0.796,0.94)" font-size="23.15" font-weight="bold">(</text><text transform="translate(14.62,24.88) scale(0.851,1.0)" font-size="23.15" font-weight="bold">a</text><text transform="translate(28.18,24.52) scale(0.796,0.94)" font-size="23.15" font-weight="bold">)</text></g>
<clipPath id="clipb"><rect x="453.65" y="51.15" width="279.0" height="184.65"/></clipPath>
<path d="M453.65,51.15V235.80 M546.65,51.15V235.80 M639.65,51.15V235.80 M732.65,51.15V235.80 M453.65,235.80H732.65 M453.65,205.03H732.65 M453.65,174.25H732.65 M453.65,143.47H732.65 M453.65,112.70H732.65 M453.65,81.92H732.65 M453.65,51.15H732.65" stroke="#b0b0b0" stroke-width="1.2" fill="none"/>
<g clip-path="url(#clipb)" fill="none">
<path d="M504.22,258.16 L504.80,255.25 L505.38,252.43 L505.96,249.70 L506.54,247.05 L507.12,244.48 L507.71,241.98 L508.29,239.57 L508.87,237.23 L509.45,234.96 L510.03,232.75 L510.61,230.62 L511.19,228.56 L511.77,226.55 L512.36,224.61 L512.94,222.73 L513.52,220.91 L514.10,219.15 L514.68,217.44 L515.26,215.79 L515.84,214.19 L516.42,212.63 L517.01,211.13 L517.59,209.68 L518.17,208.27 L518.75,206.91 L519.33,205.59 L519.91,204.32 L520.49,203.09 L521.08,201.89 L521.66,200.74 L522.24,199.63 L522.82,198.55 L523.40,197.51 L523.98,196.50 L524.56,195.53 L525.14,194.59 L525.73,193.68 L526.31,192.80 L526.89,191.96 L527.47,191.14 L528.05,190.35 L528.63,189.59 L529.21,188.86 L529.79,188.15 L530.38,187.47 L530.96,186.81 L531.54,186.18 L532.12,185.57 L532.70,184.99 L533.28,184.42 L533.86,183.88 L534.44,183.36 L535.02,182.86 L535.61,182.37 L536.19,181.91 L536.77,181.47 L537.35,181.04 L537.93,180.63 L538.51,180.24 L539.09,179.87 L539.67,179.51 L540.26,179.16 L540.84,178.83 L541.42,178.52 L542.00,178.22 L542.58,177.94 L543.16,177.67 L543.74,177.41 L544.32,177.16 L544.91,176.93 L545.49,176.71 L546.07,176.50 L546.65,176.30 L547.23,176.11 L547.81,175.94 L548.39,175.77 L548.98,175.62 L549.56,175.47 L550.14,175.33 L550.72,175.21 L551.30,175.09 L551.88,174.98 L552.46,174.88 L553.04,174.79 L553.62,174.71 L554.21,174.63 L554.79,174.56 L555.37,174.50 L555.95,174.45 L556.53,174.40 L557.11,174.36 L557.69,174.33 L558.27,174.30 L558.86,174.28 L559.44,174.26 L560.02,174.25 L560.60,174.25 L560.65,174.25 L561.18,174.25 L561.76,174.26 L562.34,174.27 L562.92,174.29 L563.51,174.31 L564.09,174.34 L564.67,174.37 L565.25,174.41 L565.83,174.45 L566.41,174.50 L566.99,174.55 L567.58,174.60 L568.16,174.66 L568.74,174.72 L569.32,174.79 L569.90,174.86 L570.48,174.93 L571.06,175.00 L571.64,175.08 L572.23,175.17 L572.81,175.25 L573.39,175.34 L573.97,175.43 L574.55,175.52 L575.13,175.62 L575.71,175.72 L576.29,175.82 L576.88,175.93 L577.46,176.04 L578.04,176.15 L578.62,176.26 L579.20,176.37 L579.78,176.49 L580.36,176.61 L580.94,176.73 L581.52,176.85 L582.11,176.98 L582.69,177.10 L583.27,177.23 L583.85,177.36 L584.43,177.50 L585.01,177.63 L585.59,177.77 L586.17,177.90 L586.76,178.04 L587.34,178.18 L587.92,178.32 L588.50,178.47 L589.08,178.61 L589.66,178.76 L590.24,178.90 L590.83,179.05 L591.41,179.20 L591.99,179.35 L592.57,179.51 L593.15,179.66 L593.73,179.81 L594.31,179.97 L594.89,180.13 L595.48,180.28 L596.06,180.44 L596.64,180.60 L597.22,180.76 L597.80,180.92 L598.38,181.09 L598.96,181.25 L599.54,181.41 L600.12,181.58 L600.71,181.74 L601.29,181.91 L601.87,182.08 L602.45,182.24 L603.03,182.41 L603.61,182.58 L604.19,182.75 L604.77,182.92 L605.36,183.09 L605.94,183.26 L606.52,183.44 L607.10,183.61 L607.68,183.78 L608.26,183.96 L608.84,184.13 L609.42,184.31 L610.01,184.48 L610.59,184.66 L611.17,184.83 L611.75,185.01 L612.33,185.19 L612.91,185.36 L613.49,185.54 L614.08,185.72 L614.66,185.90 L615.24,186.08 L615.82,186.26 L616.40,186.44 L616.98,186.62 L617.56,186.80 L618.14,186.98 L618.72,187.16 L619.31,187.34 L619.89,187.53 L620.47,187.71 L621.05,187.89 L621.63,188.07 L622.21,188.26 L622.79,188.44 L623.38,188.62 L623.96,188.81 L624.54,188.99 L625.12,189.18 L625.70,189.36 L626.28,189.55 L626.86,189.73 L627.44,189.92 L628.02,190.10 L628.61,190.29 L629.19,190.47 L629.77,190.66 L630.35,190.84 L630.93,191.03 L631.51,191.22 L632.09,191.40 L632.67,191.59 L633.26,191.78 L633.84,191.96 L634.42,192.15 L635.00,192.34 L635.58,192.53 L636.16,192.71 L636.74,192.90 L637.33,193.09 L637.91,193.28 L638.49,193.47 L639.07,193.66 L639.65,193.84 L640.23,194.03 L640.81,194.22 L641.39,194.41 L641.97,194.60 L642.56,194.79 L643.14,194.98 L643.72,195.17 L644.30,195.36 L644.88,195.54 L645.46,195.73 L646.04,195.92 L646.62,196.11 L647.21,196.30 L647.79,196.49 L648.37,196.68 L648.95,196.87 L649.53,197.06 L650.11,197.25 L650.69,197.44 L651.27,197.63 L651.86,197.82 L652.44,198.01 L653.02,198.20 L653.60,198.39 L654.18,198.58 L654.76,198.77 L655.34,198.96 L655.92,199.16 L656.51,199.35 L657.09,199.54 L657.67,199.73 L658.25,199.92 L658.83,200.11 L659.41,200.30 L659.99,200.49 L660.58,200.68 L661.16,200.87 L661.74,201.06 L662.32,201.26 L662.90,201.45 L663.48,201.64 L664.06,201.83 L664.64,202.02 L665.22,202.21 L665.81,202.40 L666.39,202.59 L666.97,202.78 L667.55,202.98 L668.13,203.17 L668.71,203.36 L669.29,203.55 L669.88,203.74 L670.46,203.93 L671.04,204.13 L671.62,204.32 L672.20,204.51 L672.78,204.70 L673.36,204.89 L673.94,205.08 L674.52,205.27 L675.11,205.47 L675.69,205.66 L676.27,205.85 L676.85,206.04 L677.43,206.23 L678.01,206.42 L678.59,206.62 L679.17,206.81 L679.76,207.00 L680.34,207.19 L680.92,207.38 L681.50,207.58 L682.08,207.77 L682.66,207.96 L683.24,208.15 L683.83,208.34 L684.41,208.54 L684.99,208.73 L685.57,208.92 L686.15,209.11 L686.73,209.30 L687.31,209.49 L687.89,209.69 L688.48,209.88 L689.06,210.07 L689.64,210.26 L690.22,210.46 L690.80,210.65 L691.38,210.84 L691.96,211.03 L692.54,211.22 L693.12,211.42 L693.71,211.61 L694.29,211.80 L694.87,211.99 L695.45,212.18 L696.03,212.38 L696.61,212.57 L697.19,212.76 L697.77,212.95 L698.36,213.14 L698.94,213.34 L699.52,213.53 L700.10,213.72 L700.68,213.91 L701.26,214.10 L701.84,214.30 L702.42,214.49 L703.01,214.68 L703.59,214.87 L704.17,215.07 L704.75,215.26 L705.33,215.45 L705.91,215.64 L706.49,215.83 L707.08,216.03 L707.66,216.22 L708.24,216.41 L708.82,216.60 L709.40,216.80 L709.98,216.99 L710.56,217.18 L711.14,217.37 L711.73,217.56 L712.31,217.76 L712.89,217.95 L713.47,218.14 L714.05,218.33 L714.63,218.53 L715.21,218.72 L715.79,218.91 L716.38,219.10 L716.96,219.29 L717.54,219.49 L718.12,219.68 L718.70,219.87 L719.28,220.06 L719.86,220.26 L720.44,220.45 L721.02,220.64 L721.61,220.83 L722.19,221.03 L722.77,221.22 L723.35,221.41 L723.93,221.60 L724.51,221.79 L725.09,221.99 L725.67,222.18 L726.26,222.37 L726.84,222.56 L727.42,222.76 L728.00,222.95 L728.58,223.14 L729.16,223.33 L729.74,223.53 L730.33,223.72 L730.91,223.91 L731.49,224.10 L732.07,224.29 L732.65,224.49" stroke="#0472b6" stroke-width="3.3" stroke-linejoin="round"/>
<path d="M453.65,175.00 L454.23,174.92 L454.81,174.83 L455.39,174.75 L455.97,174.66 L456.56,174.57 L457.14,174.49 L457.72,174.40 L458.30,174.32 L458.88,174.23 L459.46,174.14 L460.04,174.06 L460.62,173.97 L461.21,173.89 L461.79,173.80 L462.37,173.71 L462.95,173.63 L463.53,173.54 L464.11,173.46 L464.69,173.37 L465.27,173.28 L465.86,173.20 L466.44,173.11 L467.02,173.03 L467.60,172.94 L468.18,172.85 L468.76,172.77 L469.34,172.68 L469.92,172.59 L470.51,172.51 L471.09,172.42 L471.67,172.34 L472.25,172.25 L472.83,172.16 L473.41,172.08 L473.99,171.99 L474.57,171.90 L475.16,171.82 L475.74,171.73 L476.32,171.65 L476.90,171.56 L477.48,171.47 L478.06,171.39 L478.64,171.30 L479.22,171.21 L479.81,171.13 L480.39,171.04 L480.97,170.96 L481.55,170.87 L482.13,170.78 L482.71,170.70 L483.29,170.61 L483.88,170.53 L484.46,170.44 L485.04,170.35 L485.62,170.27 L486.20,170.18 L486.78,170.09 L487.36,170.01 L487.94,169.92 L488.52,169.83 L489.11,169.75 L489.69,169.66 L490.27,169.57 L490.85,169.49 L491.43,169.40 L492.01,169.31 L492.59,169.23 L493.17,169.14 L493.76,169.05 L494.34,168.97 L494.92,168.88 L495.50,168.79 L496.08,168.71 L496.66,168.62 L497.24,168.53 L497.82,168.44 L498.41,168.36 L498.99,168.27 L499.57,168.18 L500.15,168.09 L500.73,168.01 L501.31,167.92 L501.89,167.83 L502.47,167.74 L503.06,167.65 L503.64,167.57 L504.22,167.48 L504.80,167.39 L505.38,167.30 L505.96,167.21 L506.54,167.12 L507.12,167.03 L507.71,166.94 L508.29,166.85 L508.87,166.76 L509.45,166.67 L510.03,166.58 L510.61,166.49 L511.19,166.40 L511.77,166.32 L512.36,166.23 L512.94,166.14 L513.52,166.05 L514.10,165.96 L514.68,165.87 L515.26,165.78 L515.84,165.69 L516.42,165.60 L517.01,165.51 L517.59,165.43 L518.17,165.34 L518.75,165.25 L519.33,165.16 L519.91,165.07 L520.49,164.99 L521.08,164.90 L521.66,164.81 L522.24,164.73 L522.82,164.64 L523.40,164.56 L523.98,164.47 L524.56,164.38 L525.14,164.29 L525.73,164.21 L526.31,164.12 L526.89,164.02 L527.47,163.93 L528.05,163.84 L528.63,163.75 L529.21,163.66 L529.79,163.56 L530.38,163.47 L530.96,163.38 L531.54,163.29 L532.12,163.19 L532.70,163.10 L533.28,163.01 L533.86,162.92 L534.44,162.83 L535.02,162.74 L535.61,162.65 L536.19,162.56 L536.77,162.47 L537.35,162.39 L537.93,162.30 L538.51,162.22 L539.09,162.14 L539.67,162.06 L540.26,161.98 L540.84,161.90 L541.42,161.83 L542.00,161.75 L542.58,161.68 L543.16,161.61 L543.74,161.55 L544.32,161.48 L544.91,161.42 L545.49,161.36 L546.07,161.30 L546.65,161.25 L547.23,161.19 L547.81,161.14 L548.39,161.09 L548.98,161.04 L549.56,160.99 L550.14,160.94 L550.72,160.90 L551.30,160.86 L551.88,160.82 L552.46,160.78 L553.04,160.75 L553.62,160.73 L554.21,160.70 L554.79,160.68 L555.37,160.66 L555.95,160.65 L556.53,160.63 L557.11,160.61 L557.69,160.60 L558.27,160.58 L558.86,160.57 L559.44,160.56 L560.02,160.56 L560.60,160.56 L560.65,160.56 L561.18,160.66 L561.76,160.78 L562.34,160.90 L562.92,161.02 L563.51,161.14 L564.09,161.27 L564.67,161.40 L565.25,161.53 L565.83,161.66 L566.41,161.79 L566.99,161.92 L567.58,162.05 L568.16,162.19 L568.74,162.33 L569.32,162.47 L569.90,162.61 L570.48,162.75 L571.06,162.89 L571.64,163.03 L572.23,163.18 L572.81,163.33 L573.39,163.47 L573.97,163.62 L574.55,163.77 L575.13,163.92 L575.71,164.07 L576.29,164.23 L576.88,164.38 L577.46,164.53 L578.04,164.69 L578.62,164.85 L579.20,165.00 L579.78,165.16 L580.36,165.32 L580.94,165.48 L581.52,165.64 L582.11,165.80 L582.69,165.96 L583.27,166.13 L583.85,166.29 L584.43,166.45 L585.01,166.62 L585.59,166.79 L586.17,166.95 L586.76,167.12 L587.34,167.29 L587.92,167.45 L588.50,167.62 L589.08,167.79 L589.66,167.96 L590.24,168.13 L590.83,168.30 L591.41,168.48 L591.99,168.65 L592.57,168.82 L593.15,168.99 L593.73,169.17 L594.31,169.34 L594.89,169.52 L595.48,169.69 L596.06,169.87 L596.64,170.04 L597.22,170.22 L597.80,170.39 L598.38,170.57 L598.96,170.75 L599.54,170.93 L600.12,171.10 L600.71,171.28 L601.29,171.46 L601.87,171.64 L602.45,171.82 L603.03,172.00 L603.61,172.18 L604.19,172.36 L604.77,172.54 L605.36,172.72 L605.94,172.90 L606.52,173.08 L607.10,173.27 L607.68,173.45 L608.26,173.63 L608.84,173.81 L609.42,174.00 L610.01,174.18 L610.59,174.36 L611.17,174.55 L611.75,174.73 L612.33,174.91 L612.91,175.10 L613.49,175.28 L614.08,175.47 L614.66,175.65 L615.24,175.84 L615.82,176.02 L616.40,176.21 L616.98,176.39 L617.56,176.58 L618.14,176.76 L618.72,176.95 L619.31,177.14 L619.89,177.32 L620.47,177.51 L621.05,177.69 L621.63,177.88 L622.21,178.07 L622.79,178.26 L623.38,178.44 L623.96,178.63 L624.54,178.82 L625.12,179.00 L625.70,179.19 L626.28,179.38 L626.86,179.57 L627.44,179.76 L628.02,179.94 L628.61,180.13 L629.19,180.32 L629.77,180.51 L630.35,180.70 L630.93,180.89 L631.51,181.07 L632.09,181.26 L632.67,181.45 L633.26,181.64 L633.84,181.83 L634.42,182.02 L635.00,182.21 L635.58,182.40 L636.16,182.59 L636.74,182.78 L637.33,182.96 L637.91,183.15 L638.49,183.34 L639.07,183.53 L639.65,183.72 L640.23,183.91 L640.81,184.10 L641.39,184.29 L641.97,184.48 L642.56,184.67 L643.14,184.86 L643.72,185.05 L644.30,185.24 L644.88,185.43 L645.46,185.62 L646.04,185.81 L646.62,186.00 L647.21,186.20 L647.79,186.39 L648.37,186.58 L648.95,186.77 L649.53,186.96 L650.11,187.15 L650.69,187.34 L651.27,187.53 L651.86,187.72 L652.44,187.91 L653.02,188.10 L653.60,188.29 L654.18,188.48 L654.76,188.68 L655.34,188.87 L655.92,189.06 L656.51,189.25 L657.09,189.44 L657.67,189.63 L658.25,189.82 L658.83,190.01 L659.41,190.20 L659.99,190.40 L660.58,190.59 L661.16,190.78 L661.74,190.97 L662.32,191.16 L662.90,191.35 L663.48,191.54 L664.06,191.73 L664.64,191.93 L665.22,192.12 L665.81,192.31 L666.39,192.50 L666.97,192.69 L667.55,192.88 L668.13,193.08 L668.71,193.27 L669.29,193.46 L669.88,193.65 L670.46,193.84 L671.04,194.03 L671.62,194.23 L672.20,194.42 L672.78,194.61 L673.36,194.80 L673.94,194.99 L674.52,195.18 L675.11,195.38 L675.69,195.57 L676.27,195.76 L676.85,195.95 L677.43,196.14 L678.01,196.33 L678.59,196.53 L679.17,196.72 L679.76,196.91 L680.34,197.10 L680.92,197.29 L681.50,197.49 L682.08,197.68 L682.66,197.87 L683.24,198.06 L683.83,198.25 L684.41,198.45 L684.99,198.64 L685.57,198.83 L686.15,199.02 L686.73,199.21 L687.31,199.41 L687.89,199.60 L688.48,199.79 L689.06,199.98 L689.64,200.17 L690.22,200.37 L690.80,200.56 L691.38,200.75 L691.96,200.94 L692.54,201.13 L693.12,201.33 L693.71,201.52 L694.29,201.71 L694.87,201.90 L695.45,202.09 L696.03,202.29 L696.61,202.48 L697.19,202.67 L697.77,202.86 L698.36,203.06 L698.94,203.25 L699.52,203.44 L700.10,203.63 L700.68,203.82 L701.26,204.02 L701.84,204.21 L702.42,204.40 L703.01,204.59 L703.59,204.78 L704.17,204.98 L704.75,205.17 L705.33,205.36 L705.91,205.55 L706.49,205.75 L707.08,205.94 L707.66,206.13 L708.24,206.32 L708.82,206.51 L709.40,206.71 L709.98,206.90 L710.56,207.09 L711.14,207.28 L711.73,207.48 L712.31,207.67 L712.89,207.86 L713.47,208.05 L714.05,208.24 L714.63,208.44 L715.21,208.63 L715.79,208.82 L716.38,209.01 L716.96,209.21 L717.54,209.40 L718.12,209.59 L718.70,209.78 L719.28,209.97 L719.86,210.17 L720.44,210.36 L721.02,210.55 L721.61,210.74 L722.19,210.94 L722.77,211.13 L723.35,211.32 L723.93,211.51 L724.51,211.71 L725.09,211.90 L725.67,212.09 L726.26,212.28 L726.84,212.47 L727.42,212.67 L728.00,212.86 L728.58,213.05 L729.16,213.24 L729.74,213.44 L730.33,213.63 L730.91,213.82 L731.49,214.01 L732.07,214.21 L732.65,214.40" stroke="#00cbd6" stroke-width="3.3" stroke-linejoin="round"/>
<path d="M453.65,175.00 L454.23,174.92 L454.81,174.83 L455.39,174.75 L455.97,174.66 L456.56,174.57 L457.14,174.49 L457.72,174.40 L458.30,174.32 L458.88,174.23 L459.46,174.14 L460.04,174.06 L460.62,173.97 L461.21,173.89 L461.79,173.80 L462.37,173.71 L462.95,173.63 L463.53,173.54 L464.11,173.46 L464.69,173.37 L465.27,173.28 L465.86,173.20 L466.44,173.11 L467.02,173.03 L467.60,172.94 L468.18,172.85 L468.76,172.77 L469.34,172.68 L469.92,172.59 L470.51,172.51 L471.09,172.42 L471.67,172.34 L472.25,172.25 L472.83,172.16 L473.41,172.08 L473.99,171.99 L474.57,171.90 L475.16,171.82 L475.74,171.73 L476.32,171.65 L476.90,171.56 L477.48,171.47 L478.06,171.39 L478.64,171.30 L479.22,171.21 L479.81,171.13 L480.39,171.04 L480.97,170.96 L481.55,170.87 L482.13,170.78 L482.71,170.70 L483.29,170.61 L483.88,170.53 L484.46,170.44 L485.04,170.35 L485.62,170.27 L486.20,170.18 L486.78,170.09 L487.36,170.01 L487.94,169.92 L488.52,169.83 L489.11,169.75 L489.69,169.66 L490.27,169.57 L490.85,169.49 L491.43,169.40 L492.01,169.31 L492.59,169.23 L493.17,169.14 L493.76,169.05 L494.34,168.97 L494.92,168.88 L495.50,168.79 L496.08,168.71 L496.66,168.62 L497.24,168.53 L497.82,168.44 L498.41,168.36 L498.99,168.27 L499.57,168.18 L500.15,168.09 L500.73,168.01 L501.31,167.92 L501.89,167.83 L502.47,167.74 L503.06,167.65 L503.64,167.57 L504.22,167.48 L504.80,167.39 L505.38,167.30 L505.96,167.21 L506.54,167.12 L507.12,167.03 L507.71,166.94 L508.29,166.85 L508.87,166.76 L509.45,166.67 L510.03,166.58 L510.61,166.49 L511.19,166.40 L511.77,166.31 L512.36,166.22 L512.94,166.14 L513.52,166.05 L514.10,165.96 L514.68,165.87 L515.26,165.78 L515.84,165.69 L516.42,165.60 L517.01,165.51 L517.59,165.42 L518.17,165.33 L518.75,165.24 L519.33,165.15 L519.91,165.06 L520.49,164.97 L521.08,164.87 L521.66,164.78 L522.24,164.69 L522.82,164.60 L523.40,164.51 L523.98,164.41 L524.56,164.32 L525.14,164.22 L525.73,164.12 L526.31,164.02 L526.89,163.92 L527.47,163.82 L528.05,163.72 L528.63,163.61 L529.21,163.50 L529.79,163.40 L530.38,163.29 L530.96,163.18 L531.54,163.07 L532.12,162.96 L532.70,162.85 L533.28,162.74 L533.86,162.63 L534.44,162.53 L535.02,162.42 L535.61,162.31 L536.19,162.20 L536.77,162.10 L537.35,161.99 L537.93,161.89 L538.51,161.78 L539.09,161.68 L539.67,161.58 L540.26,161.49 L540.84,161.39 L541.42,161.30 L542.00,161.21 L542.58,161.12 L543.16,161.03 L543.74,160.95 L544.32,160.87 L544.91,160.79 L545.49,160.72 L546.07,160.65 L546.65,160.58 L547.23,160.51 L547.81,160.45 L548.39,160.39 L548.98,160.33 L549.56,160.27 L550.14,160.21 L550.72,160.16 L551.30,160.11 L551.88,160.06 L552.46,160.02 L553.04,159.98 L553.62,159.95 L554.21,159.92 L554.79,159.90 L555.37,159.87 L555.95,159.85 L556.53,159.83 L557.11,159.81 L557.69,159.79 L558.27,159.77 L558.86,159.76 L559.44,159.75 L560.02,159.75 L560.60,159.75 L560.65,159.75 L561.18,159.84 L561.76,159.95 L562.34,160.05 L562.92,160.16 L563.51,160.27 L564.09,160.39 L564.67,160.50 L565.25,160.62 L565.83,160.74 L566.41,160.86 L566.99,160.98 L567.58,161.10 L568.16,161.23 L568.74,161.36 L569.32,161.48 L569.90,161.61 L570.48,161.75 L571.06,161.88 L571.64,162.01 L572.23,162.15 L572.81,162.29 L573.39,162.43 L573.97,162.57 L574.55,162.71 L575.13,162.85 L575.71,163.00 L576.29,163.14 L576.88,163.29 L577.46,163.43 L578.04,163.58 L578.62,163.73 L579.20,163.88 L579.78,164.03 L580.36,164.19 L580.94,164.34 L581.52,164.50 L582.11,164.65 L582.69,164.81 L583.27,164.97 L583.85,165.12 L584.43,165.28 L585.01,165.44 L585.59,165.60 L586.17,165.77 L586.76,165.93 L587.34,166.09 L587.92,166.25 L588.50,166.42 L589.08,166.58 L589.66,166.75 L590.24,166.92 L590.83,167.08 L591.41,167.25 L591.99,167.42 L592.57,167.59 L593.15,167.76 L593.73,167.93 L594.31,168.10 L594.89,168.27 L595.48,168.44 L596.06,168.62 L596.64,168.79 L597.22,168.96 L597.80,169.14 L598.38,169.31 L598.96,169.49 L599.54,169.66 L600.12,169.84 L600.71,170.01 L601.29,170.19 L601.87,170.37 L602.45,170.55 L603.03,170.72 L603.61,170.90 L604.19,171.08 L604.77,171.26 L605.36,171.44 L605.94,171.62 L606.52,171.80 L607.10,171.98 L607.68,172.16 L608.26,172.34 L608.84,172.52 L609.42,172.70 L610.01,172.88 L610.59,173.07 L611.17,173.25 L611.75,173.43 L612.33,173.61 L612.91,173.80 L613.49,173.98 L614.08,174.16 L614.66,174.35 L615.24,174.53 L615.82,174.71 L616.40,174.90 L616.98,175.08 L617.56,175.27 L618.14,175.45 L618.72,175.64 L619.31,175.82 L619.89,176.01 L620.47,176.19 L621.05,176.38 L621.63,176.57 L622.21,176.75 L622.79,176.94 L623.38,177.12 L623.96,177.31 L624.54,177.50 L625.12,177.68 L625.70,177.87 L626.28,178.06 L626.86,178.25 L627.44,178.43 L628.02,178.62 L628.61,178.81 L629.19,179.00 L629.77,179.18 L630.35,179.37 L630.93,179.56 L631.51,179.75 L632.09,179.94 L632.67,180.13 L633.26,180.31 L633.84,180.50 L634.42,180.69 L635.00,180.88 L635.58,181.07 L636.16,181.26 L636.74,181.45 L637.33,181.64 L637.91,181.83 L638.49,182.02 L639.07,182.21 L639.65,182.39 L640.23,182.58 L640.81,182.77 L641.39,182.96 L641.97,183.15 L642.56,183.34 L643.14,183.53 L643.72,183.72 L644.30,183.91 L644.88,184.10 L645.46,184.29 L646.04,184.48 L646.62,184.67 L647.21,184.86 L647.79,185.05 L648.37,185.25 L648.95,185.44 L649.53,185.63 L650.11,185.82 L650.69,186.01 L651.27,186.20 L651.86,186.39 L652.44,186.58 L653.02,186.77 L653.60,186.96 L654.18,187.15 L654.76,187.34 L655.34,187.53 L655.92,187.72 L656.51,187.92 L657.09,188.11 L657.67,188.30 L658.25,188.49 L658.83,188.68 L659.41,188.87 L659.99,189.06 L660.58,189.25 L661.16,189.44 L661.74,189.64 L662.32,189.83 L662.90,190.02 L663.48,190.21 L664.06,190.40 L664.64,190.59 L665.22,190.78 L665.81,190.98 L666.39,191.17 L666.97,191.36 L667.55,191.55 L668.13,191.74 L668.71,191.93 L669.29,192.13 L669.88,192.32 L670.46,192.51 L671.04,192.70 L671.62,192.89 L672.20,193.08 L672.78,193.28 L673.36,193.47 L673.94,193.66 L674.52,193.85 L675.11,194.04 L675.69,194.23 L676.27,194.43 L676.85,194.62 L677.43,194.81 L678.01,195.00 L678.59,195.19 L679.17,195.38 L679.76,195.58 L680.34,195.77 L680.92,195.96 L681.50,196.15 L682.08,196.34 L682.66,196.54 L683.24,196.73 L683.83,196.92 L684.41,197.11 L684.99,197.30 L685.57,197.50 L686.15,197.69 L686.73,197.88 L687.31,198.07 L687.89,198.26 L688.48,198.46 L689.06,198.65 L689.64,198.84 L690.22,199.03 L690.80,199.22 L691.38,199.42 L691.96,199.61 L692.54,199.80 L693.12,199.99 L693.71,200.18 L694.29,200.38 L694.87,200.57 L695.45,200.76 L696.03,200.95 L696.61,201.14 L697.19,201.34 L697.77,201.53 L698.36,201.72 L698.94,201.91 L699.52,202.11 L700.10,202.30 L700.68,202.49 L701.26,202.68 L701.84,202.87 L702.42,203.07 L703.01,203.26 L703.59,203.45 L704.17,203.64 L704.75,203.84 L705.33,204.03 L705.91,204.22 L706.49,204.41 L707.08,204.60 L707.66,204.80 L708.24,204.99 L708.82,205.18 L709.40,205.37 L709.98,205.56 L710.56,205.76 L711.14,205.95 L711.73,206.14 L712.31,206.33 L712.89,206.53 L713.47,206.72 L714.05,206.91 L714.63,207.10 L715.21,207.29 L715.79,207.49 L716.38,207.68 L716.96,207.87 L717.54,208.06 L718.12,208.26 L718.70,208.45 L719.28,208.64 L719.86,208.83 L720.44,209.03 L721.02,209.22 L721.61,209.41 L722.19,209.60 L722.77,209.79 L723.35,209.99 L723.93,210.18 L724.51,210.37 L725.09,210.56 L725.67,210.76 L726.26,210.95 L726.84,211.14 L727.42,211.33 L728.00,211.52 L728.58,211.72 L729.16,211.91 L729.74,212.10 L730.33,212.29 L730.91,212.49 L731.49,212.68 L732.07,212.87 L732.65,213.06" stroke="#000" stroke-width="1.63" stroke-dasharray="6.03 2.61"/>
<path d="M560.65,51.15V235.80" stroke="#000" stroke-width="0.85" stroke-dasharray="5.4 1.36 0.85 1.36"/>
</g>
<rect x="556.00" y="56.95" width="171.1" height="56.75" rx="2.3" fill="#fff" fill-opacity="0.8" stroke="#cccccc" stroke-width="1.1"/>
<path d="M560.56,66.15H583.36" stroke="#0472b6" stroke-width="3.3" stroke-linecap="square"/>
<path d="M560.56,84.75H583.36" stroke="#00cbd6" stroke-width="3.3" stroke-linecap="square"/>
<path d="M560.56,103.25H583.36" stroke="#000" stroke-width="1.63" stroke-dasharray="6.03 2.61"/>
<g fill="#000" stroke="#000" stroke-width="0.12"><text transform="translate(592.77,70.55) scale(1.033,1.007)" font-size="11.40" font-style="italic">K</text><text transform="translate(600.72,72.33) scale(1.007,1.007)" font-size="7.98">1</text><text transform="translate(607.97,70.18) scale(1.082,1.097)" font-size="11.40">·</text><text transform="translate(614.48,70.55) scale(1.241,0.996)" font-size="11.40" font-style="italic">f</text><text transform="translate(618.54,72.33) scale(1.007,1.007)" font-size="7.98">1</text><text transform="translate(624.15,69.83) scale(0.845,0.908)" font-size="11.40">(</text><text transform="translate(628.78,70.55) scale(0.988,0.983)" font-size="11.40" font-style="italic">ν</text><text transform="translate(635.66,69.83) scale(0.845,0.908)" font-size="11.40">)</text><text transform="translate(592.77,89.15) scale(1.033,1.007)" font-size="11.40" font-style="italic">K</text><text transform="translate(600.63,90.93) scale(1.016,1.010)" font-size="7.98">2</text><text transform="translate(606.33,88.43) scale(0.845,0.908)" font-size="11.40">(</text><text transform="translate(610.96,89.15) scale(0.988,0.983)" font-size="11.40" font-style="italic">ν</text><text transform="translate(619.95,84.29) scale(1.232,1.234)" font-size="6.38">*</text><text transform="translate(625.92,88.43) scale(0.845,0.908)" font-size="11.40">)</text><text transform="translate(631.62,88.78) scale(1.082,1.097)" font-size="11.40">·</text><text transform="translate(638.12,89.15) scale(1.241,0.996)" font-size="11.40" font-style="italic">f</text><text transform="translate(642.10,90.93) scale(1.016,1.010)" font-size="7.98">2</text><text transform="translate(647.80,88.43) scale(0.845,0.908)" font-size="11.40">(</text><text transform="translate(652.43,89.15) scale(0.988,0.983)" font-size="11.40" font-style="italic">ν</text><text transform="translate(659.30,88.43) scale(0.845,0.908)" font-size="11.40">)</text><text transform="translate(592.77,107.65) scale(1.033,1.007)" font-size="11.40" font-style="italic">K</text><text transform="translate(600.72,109.43) scale(1.007,1.007)" font-size="7.98">1</text><text transform="translate(607.97,107.28) scale(1.082,1.097)" font-size="11.40">·</text><text transform="translate(614.48,107.65) scale(1.241,0.996)" font-size="11.40" font-style="italic">f</text><text transform="translate(618.54,109.43) scale(1.007,1.007)" font-size="7.98">1</text><text transform="translate(624.15,106.93) scale(0.845,0.908)" font-size="11.40">(</text><text transform="translate(628.78,107.65) scale(0.988,0.983)" font-size="11.40" font-style="italic">ν</text><text transform="translate(635.66,106.93) scale(0.845,0.908)" font-size="11.40">)</text><text transform="translate(642.09,108.87) scale(1.288,1.217)" font-size="11.40">+</text><text transform="translate(653.56,107.65) scale(1.033,1.007)" font-size="11.40" font-style="italic">K</text><text transform="translate(661.41,109.43) scale(1.016,1.010)" font-size="7.98">2</text><text transform="translate(667.12,106.93) scale(0.845,0.908)" font-size="11.40">(</text><text transform="translate(671.74,107.65) scale(0.988,0.983)" font-size="11.40" font-style="italic">ν</text><text transform="translate(680.73,102.79) scale(1.232,1.234)" font-size="6.38">*</text><text transform="translate(686.70,106.93) scale(0.845,0.908)" font-size="11.40">)</text><text transform="translate(692.40,107.28) scale(1.082,1.097)" font-size="11.40">·</text><text transform="translate(698.90,107.65) scale(1.241,0.996)" font-size="11.40" font-style="italic">f</text><text transform="translate(702.88,109.43) scale(1.016,1.010)" font-size="7.98">2</text><text transform="translate(708.58,106.93) scale(0.845,0.908)" font-size="11.40">(</text><text transform="translate(713.21,107.65) scale(0.988,0.983)" font-size="11.40" font-style="italic">ν</text><text transform="translate(720.09,106.93) scale(0.845,0.908)" font-size="11.40">)</text></g>
<rect x="453.65" y="51.15" width="279.0" height="184.65" fill="none" stroke="#000" stroke-width="1.3"/>
<path d="M453.65,235.80v5.8 M546.65,235.80v5.8 M639.65,235.80v5.8 M732.65,235.80v5.8 M453.65,235.80h-5.8 M453.65,205.03h-5.8 M453.65,174.25h-5.8 M453.65,143.47h-5.8 M453.65,112.70h-5.8 M453.65,81.92h-5.8 M453.65,51.15h-5.8" stroke="#000" stroke-width="1.3" fill="none"/>
<path d="M481.65,235.80v3.3 M498.02,235.80v3.3 M509.64,235.80v3.3 M518.65,235.80v3.3 M526.02,235.80v3.3 M532.24,235.80v3.3 M537.64,235.80v3.3 M542.39,235.80v3.3 M574.65,235.80v3.3 M591.02,235.80v3.3 M602.64,235.80v3.3 M611.65,235.80v3.3 M619.02,235.80v3.3 M625.24,235.80v3.3 M630.64,235.80v3.3 M635.39,235.80v3.3 M667.65,235.80v3.3 M684.02,235.80v3.3 M695.64,235.80v3.3 M704.65,235.80v3.3 M712.02,235.80v3.3 M718.24,235.80v3.3 M723.64,235.80v3.3 M728.39,235.80v3.3" stroke="#000" stroke-width="1.0" fill="none"/>
<g fill="#000" stroke="#000" stroke-width="0.15"><text transform="translate(405.09,241.80) scale(1.007,1.007)" font-size="16.60">1</text><text transform="translate(415.51,241.86) scale(1.054,1.015)" font-size="16.60">0</text><text transform="translate(426.31,236.51) scale(1.288,1.106)" font-size="11.62">−</text><text transform="translate(435.90,235.70) scale(1.031,1.007)" font-size="11.62">7</text><text transform="translate(405.09,211.03) scale(1.007,1.007)" font-size="16.60">1</text><text transform="translate(415.51,211.08) scale(1.054,1.015)" font-size="16.60">0</text><text transform="translate(426.31,205.74) scale(1.288,1.106)" font-size="11.62">−</text><text transform="translate(435.99,204.97) scale(0.995,1.012)" font-size="11.62">5</text><text transform="translate(405.09,180.25) scale(1.007,1.007)" font-size="16.60">1</text><text transform="translate(415.51,180.31) scale(1.054,1.015)" font-size="16.60">0</text><text transform="translate(426.31,174.96) scale(1.288,1.106)" font-size="11.62">−</text><text transform="translate(435.99,174.19) scale(1.012,1.015)" font-size="11.62">3</text><text transform="translate(405.09,149.47) scale(1.007,1.007)" font-size="16.60">1</text><text transform="translate(415.51,149.53) scale(1.054,1.015)" font-size="16.60">0</text><text transform="translate(426.31,144.19) scale(1.288,1.106)" font-size="11.62">−</text><text transform="translate(435.94,143.38) scale(1.007,1.007)" font-size="11.62">1</text><text transform="translate(414.83,118.70) scale(1.007,1.007)" font-size="16.60">1</text><text transform="translate(425.24,118.76) scale(1.054,1.015)" font-size="16.60">0</text><text transform="translate(435.94,112.60) scale(1.007,1.007)" font-size="11.62">1</text><text transform="translate(414.83,87.92) scale(1.007,1.007)" font-size="16.60">1</text><text transform="translate(425.24,87.98) scale(1.054,1.015)" font-size="16.60">0</text><text transform="translate(435.99,81.87) scale(1.012,1.015)" font-size="11.62">3</text><text transform="translate(414.83,57.15) scale(1.007,1.007)" font-size="16.60">1</text><text transform="translate(425.24,57.21) scale(1.054,1.015)" font-size="16.60">0</text><text transform="translate(435.99,51.09) scale(0.995,1.012)" font-size="11.62">5</text><text transform="translate(435.40,259.90) scale(1.007,1.007)" font-size="16.60">1</text><text transform="translate(445.81,259.96) scale(1.054,1.015)" font-size="16.60">0</text><text transform="translate(456.62,254.61) scale(1.288,1.106)" font-size="11.62">−</text><text transform="translate(466.25,253.80) scale(1.007,1.007)" font-size="11.62">1</text><text transform="translate(533.26,259.90) scale(1.007,1.007)" font-size="16.60">1</text><text transform="translate(543.68,259.96) scale(1.054,1.015)" font-size="16.60">0</text><text transform="translate(554.28,253.84) scale(1.054,1.015)" font-size="11.62">0</text><text transform="translate(626.26,259.90) scale(1.007,1.007)" font-size="16.60">1</text><text transform="translate(636.68,259.96) scale(1.054,1.015)" font-size="16.60">0</text><text transform="translate(647.38,253.80) scale(1.007,1.007)" font-size="11.62">1</text><text transform="translate(719.26,259.90) scale(1.007,1.007)" font-size="16.60">1</text><text transform="translate(729.68,259.96) scale(1.054,1.015)" font-size="16.60">0</text><text transform="translate(740.25,253.80) scale(1.016,1.010)" font-size="11.62">2</text><text transform="translate(523.35,42.38) scale(1.073,1.050)" font-size="19.50" font-style="italic">ε</text><text transform="translate(538.41,41.82) scale(1.288,0.876)" font-size="19.50">=</text><text transform="translate(558.26,42.30) scale(1.007,1.060)" font-size="19.50">1</text><text transform="translate(568.97,42.01) scale(1.458,1.023)" font-size="19.50">,</text><text transform="translate(584.00,42.38) scale(1.025,1.051)" font-size="19.50" font-style="italic">s</text><text transform="translate(598.73,41.82) scale(1.288,0.876)" font-size="19.50">=</text><text transform="translate(623.24,43.74) scale(1.288,1.164)" font-size="19.50">−</text><text transform="translate(644.17,42.37) scale(1.012,1.068)" font-size="19.50">3</text></g>
<g fill="#000"><text transform="translate(514.09,283.20) scale(1.091,1.038)" font-size="16.60">T</text><text transform="translate(524.79,283.20) scale(1.281,1.020)" font-size="16.60">r</text><text transform="translate(531.76,283.26) scale(1.078,1.046)" font-size="16.60">u</text><text transform="translate(542.35,283.20) scale(1.078,1.020)" font-size="16.60">n</text><text transform="translate(552.76,283.26) scale(1.003,1.027)" font-size="16.60">c</text><text transform="translate(562.05,283.26) scale(0.899,1.027)" font-size="16.60">a</text><text transform="translate(571.97,283.06) scale(1.337,1.052)" font-size="16.60">t</text><text transform="translate(578.79,283.20) scale(1.022,1.028)" font-size="16.60">i</text><text transform="translate(583.15,283.26) scale(1.063,1.027)" font-size="16.60">o</text><text transform="translate(593.45,283.20) scale(1.078,1.020)" font-size="16.60">n</text><text transform="translate(609.00,283.20) scale(1.313,1.029)" font-size="16.60">f</text><text transform="translate(615.14,283.26) scale(0.899,1.027)" font-size="16.60">a</text><text transform="translate(625.15,283.26) scale(1.003,1.027)" font-size="16.60">c</text><text transform="translate(634.18,283.06) scale(1.337,1.052)" font-size="16.60">t</text><text transform="translate(640.76,283.26) scale(1.063,1.027)" font-size="16.60">o</text><text transform="translate(650.83,283.20) scale(1.281,1.020)" font-size="16.60">r</text><text transform="translate(663.53,283.20) scale(0.988,1.014)" font-size="16.60" font-style="italic">ν</text></g>
<g fill="#1c1c1c" stroke="#1c1c1c" stroke-width="0.45"><text transform="translate(384.35,24.52) scale(0.827,0.94)" font-size="23.15" font-weight="bold">(</text><text transform="translate(392.21,24.88) scale(0.977,1.0)" font-size="23.15" font-weight="bold">b</text><text transform="translate(407.18,24.52) scale(0.857,0.94)" font-size="23.15" font-weight="bold">)</text></g>
<clipPath id="clipc"><rect x="75.7" y="334.45" width="279.0" height="184.95"/></clipPath>
<path d="M75.70,334.45V519.40 M168.70,334.45V519.40 M261.70,334.45V519.40 M354.70,334.45V519.40 M75.70,519.40H354.70 M75.70,488.57H354.70 M75.70,457.75H354.70 M75.70,426.92H354.70 M75.70,396.10H354.70 M75.70,365.27H354.70 M75.70,334.45H354.70" stroke="#b0b0b0" stroke-width="1.2" fill="none"/>
<g clip-path="url(#clipc)" fill="none">
<path d="M119.29,538.40 L119.88,534.20 L120.46,530.13 L121.04,526.19 L121.62,522.35 L122.20,518.64 L122.78,515.03 L123.36,511.53 L123.94,508.14 L124.53,504.85 L125.11,501.66 L125.69,498.56 L126.27,495.56 L126.85,492.65 L127.43,489.82 L128.01,487.08 L128.59,484.43 L129.18,481.85 L129.76,479.36 L130.34,476.94 L130.92,474.59 L131.50,472.32 L132.08,470.11 L132.66,467.98 L133.24,465.91 L133.82,463.90 L134.41,461.96 L134.99,460.08 L135.57,458.25 L136.15,456.49 L136.73,454.77 L137.31,453.12 L137.89,451.51 L138.47,449.96 L139.06,448.46 L139.64,447.00 L140.22,445.59 L140.80,444.23 L141.38,442.91 L141.96,441.63 L142.54,440.40 L143.12,439.20 L143.71,438.05 L144.29,436.93 L144.87,435.85 L145.45,434.81 L146.03,433.80 L146.61,432.82 L147.19,431.88 L147.78,430.97 L148.36,430.10 L148.94,429.25 L149.52,428.43 L150.10,427.64 L150.68,426.88 L151.26,426.15 L151.84,425.44 L152.43,424.75 L153.01,424.10 L153.59,423.46 L154.17,422.85 L154.75,422.27 L155.33,421.70 L155.91,421.16 L156.49,420.63 L157.07,420.13 L157.66,419.65 L158.24,419.19 L158.82,418.74 L159.40,418.31 L159.98,417.90 L160.56,417.51 L161.14,417.14 L161.73,416.78 L162.31,416.43 L162.89,416.10 L163.47,415.79 L164.05,415.49 L164.63,415.21 L165.21,414.93 L165.79,414.68 L166.38,414.43 L166.96,414.20 L167.54,413.97 L168.12,413.76 L168.70,413.57 L169.28,413.38 L169.86,413.20 L170.44,413.04 L171.03,412.88 L171.61,412.74 L172.19,412.60 L172.77,412.47 L173.35,412.35 L173.93,412.25 L174.51,412.14 L175.09,412.05 L175.68,411.97 L176.26,411.89 L176.84,411.82 L177.42,411.76 L178.00,411.71 L178.58,411.66 L179.16,411.62 L179.74,411.59 L180.32,411.56 L180.91,411.54 L181.49,411.52 L182.07,411.52 L182.65,411.51 L182.70,411.51 L183.23,411.51 L183.81,411.52 L184.39,411.54 L184.98,411.55 L185.56,411.58 L186.14,411.60 L186.72,411.64 L187.30,411.67 L187.88,411.72 L188.46,411.76 L189.04,411.81 L189.62,411.86 L190.21,411.92 L190.79,411.98 L191.37,412.05 L191.95,412.12 L192.53,412.19 L193.11,412.27 L193.69,412.35 L194.28,412.43 L194.86,412.51 L195.44,412.60 L196.02,412.70 L196.60,412.79 L197.18,412.89 L197.76,412.99 L198.34,413.09 L198.93,413.19 L199.51,413.30 L200.09,413.41 L200.67,413.52 L201.25,413.64 L201.83,413.76 L202.41,413.88 L202.99,414.00 L203.57,414.12 L204.16,414.24 L204.74,414.37 L205.32,414.50 L205.90,414.63 L206.48,414.76 L207.06,414.90 L207.64,415.03 L208.23,415.17 L208.81,415.31 L209.39,415.45 L209.97,415.59 L210.55,415.74 L211.13,415.88 L211.71,416.03 L212.29,416.17 L212.88,416.32 L213.46,416.47 L214.04,416.62 L214.62,416.78 L215.20,416.93 L215.78,417.09 L216.36,417.24 L216.94,417.40 L217.53,417.56 L218.11,417.71 L218.69,417.87 L219.27,418.03 L219.85,418.20 L220.43,418.36 L221.01,418.52 L221.59,418.69 L222.18,418.85 L222.76,419.02 L223.34,419.18 L223.92,419.35 L224.50,419.52 L225.08,419.69 L225.66,419.86 L226.24,420.03 L226.82,420.20 L227.41,420.37 L227.99,420.54 L228.57,420.71 L229.15,420.89 L229.73,421.06 L230.31,421.23 L230.89,421.41 L231.48,421.58 L232.06,421.76 L232.64,421.94 L233.22,422.11 L233.80,422.29 L234.38,422.47 L234.96,422.65 L235.54,422.82 L236.12,423.00 L236.71,423.18 L237.29,423.36 L237.87,423.54 L238.45,423.72 L239.03,423.90 L239.61,424.08 L240.19,424.26 L240.77,424.45 L241.36,424.63 L241.94,424.81 L242.52,424.99 L243.10,425.18 L243.68,425.36 L244.26,425.54 L244.84,425.73 L245.43,425.91 L246.01,426.09 L246.59,426.28 L247.17,426.46 L247.75,426.65 L248.33,426.83 L248.91,427.02 L249.49,427.20 L250.07,427.39 L250.66,427.58 L251.24,427.76 L251.82,427.95 L252.40,428.13 L252.98,428.32 L253.56,428.51 L254.14,428.69 L254.73,428.88 L255.31,429.07 L255.89,429.26 L256.47,429.44 L257.05,429.63 L257.63,429.82 L258.21,430.01 L258.79,430.20 L259.38,430.38 L259.96,430.57 L260.54,430.76 L261.12,430.95 L261.70,431.14 L262.28,431.33 L262.86,431.52 L263.44,431.71 L264.02,431.89 L264.61,432.08 L265.19,432.27 L265.77,432.46 L266.35,432.65 L266.93,432.84 L267.51,433.03 L268.09,433.22 L268.68,433.41 L269.26,433.60 L269.84,433.79 L270.42,433.98 L271.00,434.17 L271.58,434.36 L272.16,434.55 L272.74,434.74 L273.32,434.93 L273.91,435.12 L274.49,435.31 L275.07,435.50 L275.65,435.70 L276.23,435.89 L276.81,436.08 L277.39,436.27 L277.98,436.46 L278.56,436.65 L279.14,436.84 L279.72,437.03 L280.30,437.22 L280.88,437.41 L281.46,437.60 L282.04,437.80 L282.62,437.99 L283.21,438.18 L283.79,438.37 L284.37,438.56 L284.95,438.75 L285.53,438.94 L286.11,439.14 L286.69,439.33 L287.27,439.52 L287.86,439.71 L288.44,439.90 L289.02,440.09 L289.60,440.29 L290.18,440.48 L290.76,440.67 L291.34,440.86 L291.93,441.05 L292.51,441.24 L293.09,441.44 L293.67,441.63 L294.25,441.82 L294.83,442.01 L295.41,442.20 L295.99,442.40 L296.57,442.59 L297.16,442.78 L297.74,442.97 L298.32,443.16 L298.90,443.36 L299.48,443.55 L300.06,443.74 L300.64,443.93 L301.23,444.12 L301.81,444.32 L302.39,444.51 L302.97,444.70 L303.55,444.89 L304.13,445.08 L304.71,445.28 L305.29,445.47 L305.88,445.66 L306.46,445.85 L307.04,446.05 L307.62,446.24 L308.20,446.43 L308.78,446.62 L309.36,446.81 L309.94,447.01 L310.53,447.20 L311.11,447.39 L311.69,447.58 L312.27,447.78 L312.85,447.97 L313.43,448.16 L314.01,448.35 L314.59,448.55 L315.18,448.74 L315.76,448.93 L316.34,449.12 L316.92,449.32 L317.50,449.51 L318.08,449.70 L318.66,449.89 L319.24,450.09 L319.82,450.28 L320.41,450.47 L320.99,450.66 L321.57,450.85 L322.15,451.05 L322.73,451.24 L323.31,451.43 L323.89,451.62 L324.48,451.82 L325.06,452.01 L325.64,452.20 L326.22,452.39 L326.80,452.59 L327.38,452.78 L327.96,452.97 L328.54,453.16 L329.12,453.36 L329.71,453.55 L330.29,453.74 L330.87,453.93 L331.45,454.13 L332.03,454.32 L332.61,454.51 L333.19,454.70 L333.78,454.90 L334.36,455.09 L334.94,455.28 L335.52,455.48 L336.10,455.67 L336.68,455.86 L337.26,456.05 L337.84,456.25 L338.43,456.44 L339.01,456.63 L339.59,456.82 L340.17,457.02 L340.75,457.21 L341.33,457.40 L341.91,457.59 L342.49,457.79 L343.07,457.98 L343.66,458.17 L344.24,458.36 L344.82,458.56 L345.40,458.75 L345.98,458.94 L346.56,459.13 L347.14,459.33 L347.73,459.52 L348.31,459.71 L348.89,459.90 L349.47,460.10 L350.05,460.29 L350.63,460.48 L351.21,460.67 L351.79,460.87 L352.38,461.06 L352.96,461.25 L353.54,461.45 L354.12,461.64 L354.70,461.83" stroke="#0472b6" stroke-width="3.3" stroke-linejoin="round"/>
<path d="M75.70,394.56 L76.28,394.57 L76.86,394.59 L77.44,394.60 L78.03,394.62 L78.61,394.63 L79.19,394.65 L79.77,394.66 L80.35,394.67 L80.93,394.69 L81.51,394.70 L82.09,394.72 L82.67,394.73 L83.26,394.74 L83.84,394.76 L84.42,394.77 L85.00,394.79 L85.58,394.80 L86.16,394.81 L86.74,394.83 L87.33,394.84 L87.91,394.85 L88.49,394.87 L89.07,394.88 L89.65,394.89 L90.23,394.90 L90.81,394.92 L91.39,394.93 L91.98,394.94 L92.56,394.95 L93.14,394.97 L93.72,394.98 L94.30,394.99 L94.88,395.00 L95.46,395.01 L96.04,395.02 L96.62,395.04 L97.21,395.05 L97.79,395.06 L98.37,395.07 L98.95,395.08 L99.53,395.09 L100.11,395.10 L100.69,395.11 L101.28,395.12 L101.86,395.13 L102.44,395.14 L103.02,395.15 L103.60,395.16 L104.18,395.17 L104.76,395.18 L105.34,395.19 L105.92,395.20 L106.51,395.21 L107.09,395.22 L107.67,395.22 L108.25,395.23 L108.83,395.24 L109.41,395.25 L109.99,395.26 L110.58,395.26 L111.16,395.27 L111.74,395.28 L112.32,395.29 L112.90,395.30 L113.48,395.30 L114.06,395.31 L114.64,395.32 L115.23,395.33 L115.81,395.34 L116.39,395.34 L116.97,395.35 L117.55,395.36 L118.13,395.37 L118.71,395.38 L119.29,395.38 L119.88,395.39 L120.46,395.40 L121.04,395.41 L121.62,395.42 L122.20,395.43 L122.78,395.44 L123.36,395.44 L123.94,395.45 L124.53,395.46 L125.11,395.47 L125.69,395.48 L126.27,395.49 L126.85,395.50 L127.43,395.51 L128.01,395.52 L128.59,395.53 L129.18,395.55 L129.76,395.56 L130.34,395.57 L130.92,395.58 L131.50,395.59 L132.08,395.60 L132.66,395.62 L133.24,395.63 L133.82,395.64 L134.41,395.65 L134.99,395.67 L135.57,395.68 L136.15,395.69 L136.73,395.71 L137.31,395.72 L137.89,395.73 L138.47,395.75 L139.06,395.76 L139.64,395.78 L140.22,395.79 L140.80,395.81 L141.38,395.82 L141.96,395.84 L142.54,395.86 L143.12,395.87 L143.71,395.89 L144.29,395.91 L144.87,395.92 L145.45,395.94 L146.03,395.96 L146.61,395.98 L147.19,396.00 L147.78,396.02 L148.36,396.04 L148.94,396.06 L149.52,396.08 L150.10,396.10 L150.68,396.12 L151.26,396.14 L151.84,396.17 L152.43,396.19 L153.01,396.21 L153.59,396.24 L154.17,396.26 L154.75,396.29 L155.33,396.31 L155.91,396.34 L156.49,396.37 L157.07,396.40 L157.66,396.42 L158.24,396.45 L158.82,396.49 L159.40,396.52 L159.98,396.55 L160.56,396.58 L161.14,396.62 L161.73,396.65 L162.31,396.69 L162.89,396.73 L163.47,396.77 L164.05,396.81 L164.63,396.85 L165.21,396.89 L165.79,396.94 L166.38,396.98 L166.96,397.03 L167.54,397.08 L168.12,397.13 L168.70,397.18 L169.28,397.23 L169.86,397.29 L170.44,397.36 L171.03,397.43 L171.61,397.51 L172.19,397.59 L172.77,397.68 L173.35,397.77 L173.93,397.86 L174.51,397.96 L175.09,398.06 L175.68,398.17 L176.26,398.28 L176.84,398.39 L177.42,398.50 L178.00,398.62 L178.58,398.74 L179.16,398.86 L179.74,398.99 L180.32,399.11 L180.91,399.24 L181.49,399.37 L182.07,399.50 L182.65,399.63 L182.70,399.64 L183.23,399.75 L183.81,399.87 L184.39,399.99 L184.98,400.11 L185.56,400.24 L186.14,400.36 L186.72,400.49 L187.30,400.62 L187.88,400.75 L188.46,400.88 L189.04,401.01 L189.62,401.15 L190.21,401.28 L190.79,401.42 L191.37,401.56 L191.95,401.70 L192.53,401.84 L193.11,401.98 L193.69,402.13 L194.28,402.27 L194.86,402.42 L195.44,402.57 L196.02,402.72 L196.60,402.87 L197.18,403.02 L197.76,403.17 L198.34,403.32 L198.93,403.47 L199.51,403.63 L200.09,403.79 L200.67,403.94 L201.25,404.10 L201.83,404.26 L202.41,404.42 L202.99,404.58 L203.57,404.74 L204.16,404.90 L204.74,405.06 L205.32,405.23 L205.90,405.39 L206.48,405.55 L207.06,405.72 L207.64,405.88 L208.23,406.05 L208.81,406.22 L209.39,406.39 L209.97,406.56 L210.55,406.72 L211.13,406.89 L211.71,407.06 L212.29,407.24 L212.88,407.41 L213.46,407.58 L214.04,407.75 L214.62,407.92 L215.20,408.10 L215.78,408.27 L216.36,408.45 L216.94,408.62 L217.53,408.80 L218.11,408.97 L218.69,409.15 L219.27,409.32 L219.85,409.50 L220.43,409.68 L221.01,409.86 L221.59,410.03 L222.18,410.21 L222.76,410.39 L223.34,410.57 L223.92,410.75 L224.50,410.93 L225.08,411.11 L225.66,411.29 L226.24,411.47 L226.82,411.65 L227.41,411.83 L227.99,412.01 L228.57,412.19 L229.15,412.38 L229.73,412.56 L230.31,412.74 L230.89,412.92 L231.48,413.11 L232.06,413.29 L232.64,413.47 L233.22,413.66 L233.80,413.84 L234.38,414.03 L234.96,414.21 L235.54,414.40 L236.12,414.58 L236.71,414.77 L237.29,414.95 L237.87,415.14 L238.45,415.32 L239.03,415.51 L239.61,415.69 L240.19,415.88 L240.77,416.07 L241.36,416.25 L241.94,416.44 L242.52,416.63 L243.10,416.81 L243.68,417.00 L244.26,417.19 L244.84,417.37 L245.43,417.56 L246.01,417.75 L246.59,417.94 L247.17,418.12 L247.75,418.31 L248.33,418.50 L248.91,418.69 L249.49,418.88 L250.07,419.06 L250.66,419.25 L251.24,419.44 L251.82,419.63 L252.40,419.82 L252.98,420.01 L253.56,420.20 L254.14,420.39 L254.73,420.58 L255.31,420.76 L255.89,420.95 L256.47,421.14 L257.05,421.33 L257.63,421.52 L258.21,421.71 L258.79,421.90 L259.38,422.09 L259.96,422.28 L260.54,422.47 L261.12,422.66 L261.70,422.85 L262.28,423.04 L262.86,423.23 L263.44,423.42 L264.02,423.61 L264.61,423.80 L265.19,423.99 L265.77,424.18 L266.35,424.37 L266.93,424.56 L267.51,424.75 L268.09,424.95 L268.68,425.14 L269.26,425.33 L269.84,425.52 L270.42,425.71 L271.00,425.90 L271.58,426.09 L272.16,426.28 L272.74,426.47 L273.32,426.66 L273.91,426.85 L274.49,427.05 L275.07,427.24 L275.65,427.43 L276.23,427.62 L276.81,427.81 L277.39,428.00 L277.98,428.19 L278.56,428.38 L279.14,428.58 L279.72,428.77 L280.30,428.96 L280.88,429.15 L281.46,429.34 L282.04,429.53 L282.62,429.73 L283.21,429.92 L283.79,430.11 L284.37,430.30 L284.95,430.49 L285.53,430.68 L286.11,430.88 L286.69,431.07 L287.27,431.26 L287.86,431.45 L288.44,431.64 L289.02,431.83 L289.60,432.03 L290.18,432.22 L290.76,432.41 L291.34,432.60 L291.93,432.79 L292.51,432.99 L293.09,433.18 L293.67,433.37 L294.25,433.56 L294.83,433.75 L295.41,433.95 L295.99,434.14 L296.57,434.33 L297.16,434.52 L297.74,434.71 L298.32,434.91 L298.90,435.10 L299.48,435.29 L300.06,435.48 L300.64,435.68 L301.23,435.87 L301.81,436.06 L302.39,436.25 L302.97,436.44 L303.55,436.64 L304.13,436.83 L304.71,437.02 L305.29,437.21 L305.88,437.41 L306.46,437.60 L307.04,437.79 L307.62,437.98 L308.20,438.17 L308.78,438.37 L309.36,438.56 L309.94,438.75 L310.53,438.94 L311.11,439.14 L311.69,439.33 L312.27,439.52 L312.85,439.71 L313.43,439.91 L314.01,440.10 L314.59,440.29 L315.18,440.48 L315.76,440.67 L316.34,440.87 L316.92,441.06 L317.50,441.25 L318.08,441.44 L318.66,441.64 L319.24,441.83 L319.82,442.02 L320.41,442.21 L320.99,442.41 L321.57,442.60 L322.15,442.79 L322.73,442.98 L323.31,443.18 L323.89,443.37 L324.48,443.56 L325.06,443.75 L325.64,443.95 L326.22,444.14 L326.80,444.33 L327.38,444.52 L327.96,444.72 L328.54,444.91 L329.12,445.10 L329.71,445.29 L330.29,445.49 L330.87,445.68 L331.45,445.87 L332.03,446.06 L332.61,446.26 L333.19,446.45 L333.78,446.64 L334.36,446.83 L334.94,447.03 L335.52,447.22 L336.10,447.41 L336.68,447.60 L337.26,447.80 L337.84,447.99 L338.43,448.18 L339.01,448.37 L339.59,448.57 L340.17,448.76 L340.75,448.95 L341.33,449.15 L341.91,449.34 L342.49,449.53 L343.07,449.72 L343.66,449.92 L344.24,450.11 L344.82,450.30 L345.40,450.49 L345.98,450.69 L346.56,450.88 L347.14,451.07 L347.73,451.26 L348.31,451.46 L348.89,451.65 L349.47,451.84 L350.05,452.03 L350.63,452.23 L351.21,452.42 L351.79,452.61 L352.38,452.80 L352.96,453.00 L353.54,453.19 L354.12,453.38 L354.70,453.57" stroke="#00cbd6" stroke-width="3.3" stroke-linejoin="round"/>
<path d="M75.70,394.56 L76.28,394.57 L76.86,394.59 L77.44,394.60 L78.03,394.62 L78.61,394.63 L79.19,394.65 L79.77,394.66 L80.35,394.67 L80.93,394.69 L81.51,394.70 L82.09,394.72 L82.67,394.73 L83.26,394.74 L83.84,394.76 L84.42,394.77 L85.00,394.79 L85.58,394.80 L86.16,394.81 L86.74,394.83 L87.33,394.84 L87.91,394.85 L88.49,394.87 L89.07,394.88 L89.65,394.89 L90.23,394.90 L90.81,394.92 L91.39,394.93 L91.98,394.94 L92.56,394.95 L93.14,394.97 L93.72,394.98 L94.30,394.99 L94.88,395.00 L95.46,395.01 L96.04,395.02 L96.62,395.04 L97.21,395.05 L97.79,395.06 L98.37,395.07 L98.95,395.08 L99.53,395.09 L100.11,395.10 L100.69,395.11 L101.28,395.12 L101.86,395.13 L102.44,395.14 L103.02,395.15 L103.60,395.16 L104.18,395.17 L104.76,395.18 L105.34,395.19 L105.92,395.20 L106.51,395.21 L107.09,395.22 L107.67,395.22 L108.25,395.23 L108.83,395.24 L109.41,395.25 L109.99,395.26 L110.58,395.26 L111.16,395.27 L111.74,395.28 L112.32,395.29 L112.90,395.30 L113.48,395.30 L114.06,395.31 L114.64,395.32 L115.23,395.33 L115.81,395.34 L116.39,395.34 L116.97,395.35 L117.55,395.36 L118.13,395.37 L118.71,395.38 L119.29,395.38 L119.88,395.39 L120.46,395.40 L121.04,395.41 L121.62,395.42 L122.20,395.43 L122.78,395.44 L123.36,395.44 L123.94,395.45 L124.53,395.46 L125.11,395.47 L125.69,395.48 L126.27,395.49 L126.85,395.50 L127.43,395.51 L128.01,395.52 L128.59,395.53 L129.18,395.55 L129.76,395.56 L130.34,395.57 L130.92,395.58 L131.50,395.59 L132.08,395.60 L132.66,395.62 L133.24,395.63 L133.82,395.64 L134.41,395.65 L134.99,395.67 L135.57,395.68 L136.15,395.69 L136.73,395.71 L137.31,395.72 L137.89,395.73 L138.47,395.75 L139.06,395.76 L139.64,395.77 L140.22,395.79 L140.80,395.80 L141.38,395.82 L141.96,395.83 L142.54,395.85 L143.12,395.86 L143.71,395.88 L144.29,395.89 L144.87,395.91 L145.45,395.92 L146.03,395.94 L146.61,395.95 L147.19,395.97 L147.78,395.98 L148.36,396.00 L148.94,396.01 L149.52,396.03 L150.10,396.04 L150.68,396.05 L151.26,396.07 L151.84,396.08 L152.43,396.10 L153.01,396.11 L153.59,396.12 L154.17,396.14 L154.75,396.15 L155.33,396.16 L155.91,396.18 L156.49,396.19 L157.07,396.21 L157.66,396.22 L158.24,396.23 L158.82,396.25 L159.40,396.26 L159.98,396.28 L160.56,396.30 L161.14,396.31 L161.73,396.33 L162.31,396.35 L162.89,396.37 L163.47,396.39 L164.05,396.41 L164.63,396.43 L165.21,396.46 L165.79,396.48 L166.38,396.51 L166.96,396.53 L167.54,396.56 L168.12,396.59 L168.70,396.62 L169.28,396.66 L169.86,396.70 L170.44,396.75 L171.03,396.80 L171.61,396.85 L172.19,396.91 L172.77,396.98 L173.35,397.05 L173.93,397.12 L174.51,397.20 L175.09,397.28 L175.68,397.37 L176.26,397.45 L176.84,397.54 L177.42,397.64 L178.00,397.74 L178.58,397.83 L179.16,397.94 L179.74,398.04 L180.32,398.15 L180.91,398.25 L181.49,398.36 L182.07,398.47 L182.65,398.59 L182.70,398.59 L183.23,398.69 L183.81,398.79 L184.39,398.89 L184.98,399.00 L185.56,399.11 L186.14,399.22 L186.72,399.33 L187.30,399.44 L187.88,399.56 L188.46,399.68 L189.04,399.80 L189.62,399.92 L190.21,400.04 L190.79,400.16 L191.37,400.29 L191.95,400.42 L192.53,400.55 L193.11,400.68 L193.69,400.81 L194.28,400.95 L194.86,401.08 L195.44,401.22 L196.02,401.36 L196.60,401.50 L197.18,401.64 L197.76,401.78 L198.34,401.92 L198.93,402.07 L199.51,402.21 L200.09,402.36 L200.67,402.51 L201.25,402.66 L201.83,402.81 L202.41,402.96 L202.99,403.11 L203.57,403.26 L204.16,403.42 L204.74,403.57 L205.32,403.73 L205.90,403.89 L206.48,404.05 L207.06,404.21 L207.64,404.36 L208.23,404.53 L208.81,404.69 L209.39,404.85 L209.97,405.01 L210.55,405.18 L211.13,405.34 L211.71,405.51 L212.29,405.67 L212.88,405.84 L213.46,406.01 L214.04,406.17 L214.62,406.34 L215.20,406.51 L215.78,406.68 L216.36,406.85 L216.94,407.02 L217.53,407.19 L218.11,407.37 L218.69,407.54 L219.27,407.71 L219.85,407.89 L220.43,408.06 L221.01,408.23 L221.59,408.41 L222.18,408.58 L222.76,408.76 L223.34,408.94 L223.92,409.11 L224.50,409.29 L225.08,409.47 L225.66,409.65 L226.24,409.83 L226.82,410.00 L227.41,410.18 L227.99,410.36 L228.57,410.54 L229.15,410.72 L229.73,410.90 L230.31,411.08 L230.89,411.26 L231.48,411.45 L232.06,411.63 L232.64,411.81 L233.22,411.99 L233.80,412.17 L234.38,412.36 L234.96,412.54 L235.54,412.72 L236.12,412.91 L236.71,413.09 L237.29,413.27 L237.87,413.46 L238.45,413.64 L239.03,413.83 L239.61,414.01 L240.19,414.20 L240.77,414.38 L241.36,414.57 L241.94,414.75 L242.52,414.94 L243.10,415.13 L243.68,415.31 L244.26,415.50 L244.84,415.68 L245.43,415.87 L246.01,416.06 L246.59,416.24 L247.17,416.43 L247.75,416.62 L248.33,416.81 L248.91,416.99 L249.49,417.18 L250.07,417.37 L250.66,417.56 L251.24,417.74 L251.82,417.93 L252.40,418.12 L252.98,418.31 L253.56,418.50 L254.14,418.69 L254.73,418.88 L255.31,419.06 L255.89,419.25 L256.47,419.44 L257.05,419.63 L257.63,419.82 L258.21,420.01 L258.79,420.20 L259.38,420.39 L259.96,420.58 L260.54,420.77 L261.12,420.96 L261.70,421.15 L262.28,421.34 L262.86,421.53 L263.44,421.72 L264.02,421.91 L264.61,422.10 L265.19,422.29 L265.77,422.48 L266.35,422.67 L266.93,422.86 L267.51,423.05 L268.09,423.24 L268.68,423.43 L269.26,423.62 L269.84,423.81 L270.42,424.00 L271.00,424.19 L271.58,424.38 L272.16,424.57 L272.74,424.76 L273.32,424.96 L273.91,425.15 L274.49,425.34 L275.07,425.53 L275.65,425.72 L276.23,425.91 L276.81,426.10 L277.39,426.29 L277.98,426.48 L278.56,426.68 L279.14,426.87 L279.72,427.06 L280.30,427.25 L280.88,427.44 L281.46,427.63 L282.04,427.82 L282.62,428.02 L283.21,428.21 L283.79,428.40 L284.37,428.59 L284.95,428.78 L285.53,428.97 L286.11,429.17 L286.69,429.36 L287.27,429.55 L287.86,429.74 L288.44,429.93 L289.02,430.12 L289.60,430.32 L290.18,430.51 L290.76,430.70 L291.34,430.89 L291.93,431.08 L292.51,431.28 L293.09,431.47 L293.67,431.66 L294.25,431.85 L294.83,432.04 L295.41,432.24 L295.99,432.43 L296.57,432.62 L297.16,432.81 L297.74,433.00 L298.32,433.20 L298.90,433.39 L299.48,433.58 L300.06,433.77 L300.64,433.96 L301.23,434.16 L301.81,434.35 L302.39,434.54 L302.97,434.73 L303.55,434.92 L304.13,435.12 L304.71,435.31 L305.29,435.50 L305.88,435.69 L306.46,435.89 L307.04,436.08 L307.62,436.27 L308.20,436.46 L308.78,436.66 L309.36,436.85 L309.94,437.04 L310.53,437.23 L311.11,437.42 L311.69,437.62 L312.27,437.81 L312.85,438.00 L313.43,438.19 L314.01,438.39 L314.59,438.58 L315.18,438.77 L315.76,438.96 L316.34,439.16 L316.92,439.35 L317.50,439.54 L318.08,439.73 L318.66,439.93 L319.24,440.12 L319.82,440.31 L320.41,440.50 L320.99,440.70 L321.57,440.89 L322.15,441.08 L322.73,441.27 L323.31,441.47 L323.89,441.66 L324.48,441.85 L325.06,442.04 L325.64,442.24 L326.22,442.43 L326.80,442.62 L327.38,442.81 L327.96,443.01 L328.54,443.20 L329.12,443.39 L329.71,443.58 L330.29,443.78 L330.87,443.97 L331.45,444.16 L332.03,444.35 L332.61,444.55 L333.19,444.74 L333.78,444.93 L334.36,445.12 L334.94,445.32 L335.52,445.51 L336.10,445.70 L336.68,445.89 L337.26,446.09 L337.84,446.28 L338.43,446.47 L339.01,446.66 L339.59,446.86 L340.17,447.05 L340.75,447.24 L341.33,447.43 L341.91,447.63 L342.49,447.82 L343.07,448.01 L343.66,448.20 L344.24,448.40 L344.82,448.59 L345.40,448.78 L345.98,448.97 L346.56,449.17 L347.14,449.36 L347.73,449.55 L348.31,449.74 L348.89,449.94 L349.47,450.13 L350.05,450.32 L350.63,450.52 L351.21,450.71 L351.79,450.90 L352.38,451.09 L352.96,451.29 L353.54,451.48 L354.12,451.67 L354.70,451.86" stroke="#000" stroke-width="1.63" stroke-dasharray="6.03 2.61"/>
<path d="M182.70,334.45V519.40" stroke="#000" stroke-width="0.85" stroke-dasharray="5.4 1.36 0.85 1.36"/>
</g>
<rect x="178.05" y="340.25" width="171.1" height="56.75" rx="2.3" fill="#fff" fill-opacity="0.8" stroke="#cccccc" stroke-width="1.1"/>
<path d="M182.61,349.45H205.41" stroke="#0472b6" stroke-width="3.3" stroke-linecap="square"/>
<path d="M182.61,368.05H205.41" stroke="#00cbd6" stroke-width="3.3" stroke-linecap="square"/>
<path d="M182.61,386.55H205.41" stroke="#000" stroke-width="1.63" stroke-dasharray="6.03 2.61"/>
<g fill="#000" stroke="#000" stroke-width="0.12"><text transform="translate(214.82,353.85) scale(1.033,1.007)" font-size="11.40" font-style="italic">K</text><text transform="translate(222.77,355.63) scale(1.007,1.007)" font-size="7.98">1</text><text transform="translate(230.02,353.48) scale(1.082,1.097)" font-size="11.40">·</text><text transform="translate(236.53,353.85) scale(1.241,0.996)" font-size="11.40" font-style="italic">f</text><text transform="translate(240.59,355.63) scale(1.007,1.007)" font-size="7.98">1</text><text transform="translate(246.20,353.13) scale(0.845,0.908)" font-size="11.40">(</text><text transform="translate(250.83,353.85) scale(0.988,0.983)" font-size="11.40" font-style="italic">ν</text><text transform="translate(257.71,353.13) scale(0.845,0.908)" font-size="11.40">)</text><text transform="translate(214.82,372.45) scale(1.033,1.007)" font-size="11.40" font-style="italic">K</text><text transform="translate(222.68,374.23) scale(1.016,1.010)" font-size="7.98">2</text><text transform="translate(228.38,371.73) scale(0.845,0.908)" font-size="11.40">(</text><text transform="translate(233.01,372.45) scale(0.988,0.983)" font-size="11.40" font-style="italic">ν</text><text transform="translate(242.00,367.59) scale(1.232,1.234)" font-size="6.38">*</text><text transform="translate(247.97,371.73) scale(0.845,0.908)" font-size="11.40">)</text><text transform="translate(253.67,372.08) scale(1.082,1.097)" font-size="11.40">·</text><text transform="translate(260.17,372.45) scale(1.241,0.996)" font-size="11.40" font-style="italic">f</text><text transform="translate(264.15,374.23) scale(1.016,1.010)" font-size="7.98">2</text><text transform="translate(269.85,371.73) scale(0.845,0.908)" font-size="11.40">(</text><text transform="translate(274.48,372.45) scale(0.988,0.983)" font-size="11.40" font-style="italic">ν</text><text transform="translate(281.35,371.73) scale(0.845,0.908)" font-size="11.40">)</text><text transform="translate(214.82,390.95) scale(1.033,1.007)" font-size="11.40" font-style="italic">K</text><text transform="translate(222.77,392.73) scale(1.007,1.007)" font-size="7.98">1</text><text transform="translate(230.02,390.58) scale(1.082,1.097)" font-size="11.40">·</text><text transform="translate(236.53,390.95) scale(1.241,0.996)" font-size="11.40" font-style="italic">f</text><text transform="translate(240.59,392.73) scale(1.007,1.007)" font-size="7.98">1</text><text transform="translate(246.20,390.23) scale(0.845,0.908)" font-size="11.40">(</text><text transform="translate(250.83,390.95) scale(0.988,0.983)" font-size="11.40" font-style="italic">ν</text><text transform="translate(257.71,390.23) scale(0.845,0.908)" font-size="11.40">)</text><text transform="translate(264.14,392.17) scale(1.288,1.217)" font-size="11.40">+</text><text transform="translate(275.61,390.95) scale(1.033,1.007)" font-size="11.40" font-style="italic">K</text><text transform="translate(283.46,392.73) scale(1.016,1.010)" font-size="7.98">2</text><text transform="translate(289.17,390.23) scale(0.845,0.908)" font-size="11.40">(</text><text transform="translate(293.79,390.95) scale(0.988,0.983)" font-size="11.40" font-style="italic">ν</text><text transform="translate(302.78,386.09) scale(1.232,1.234)" font-size="6.38">*</text><text transform="translate(308.75,390.23) scale(0.845,0.908)" font-size="11.40">)</text><text transform="translate(314.45,390.58) scale(1.082,1.097)" font-size="11.40">·</text><text transform="translate(320.95,390.95) scale(1.241,0.996)" font-size="11.40" font-style="italic">f</text><text transform="translate(324.93,392.73) scale(1.016,1.010)" font-size="7.98">2</text><text transform="translate(330.63,390.23) scale(0.845,0.908)" font-size="11.40">(</text><text transform="translate(335.26,390.95) scale(0.988,0.983)" font-size="11.40" font-style="italic">ν</text><text transform="translate(342.14,390.23) scale(0.845,0.908)" font-size="11.40">)</text></g>
<rect x="75.7" y="334.45" width="279.0" height="184.95" fill="none" stroke="#000" stroke-width="1.3"/>
<path d="M75.70,519.40v5.8 M168.70,519.40v5.8 M261.70,519.40v5.8 M354.70,519.40v5.8 M75.70,519.40h-5.8 M75.70,488.57h-5.8 M75.70,457.75h-5.8 M75.70,426.92h-5.8 M75.70,396.10h-5.8 M75.70,365.27h-5.8 M75.70,334.45h-5.8" stroke="#000" stroke-width="1.3" fill="none"/>
<path d="M103.70,519.40v3.3 M120.07,519.40v3.3 M131.69,519.40v3.3 M140.70,519.40v3.3 M148.07,519.40v3.3 M154.29,519.40v3.3 M159.69,519.40v3.3 M164.44,519.40v3.3 M196.70,519.40v3.3 M213.07,519.40v3.3 M224.69,519.40v3.3 M233.70,519.40v3.3 M241.07,519.40v3.3 M247.29,519.40v3.3 M252.69,519.40v3.3 M257.44,519.40v3.3 M289.70,519.40v3.3 M306.07,519.40v3.3 M317.69,519.40v3.3 M326.70,519.40v3.3 M334.07,519.40v3.3 M340.29,519.40v3.3 M345.69,519.40v3.3 M350.44,519.40v3.3" stroke="#000" stroke-width="1.0" fill="none"/>
<g fill="#000" stroke="#000" stroke-width="0.15"><text transform="translate(27.14,525.40) scale(1.007,1.007)" font-size="16.60">1</text><text transform="translate(37.56,525.46) scale(1.054,1.015)" font-size="16.60">0</text><text transform="translate(48.36,520.11) scale(1.288,1.106)" font-size="11.62">−</text><text transform="translate(57.95,519.30) scale(1.031,1.007)" font-size="11.62">7</text><text transform="translate(27.14,494.57) scale(1.007,1.007)" font-size="16.60">1</text><text transform="translate(37.56,494.63) scale(1.054,1.015)" font-size="16.60">0</text><text transform="translate(48.36,489.29) scale(1.288,1.106)" font-size="11.62">−</text><text transform="translate(58.04,488.52) scale(0.995,1.012)" font-size="11.62">5</text><text transform="translate(27.14,463.75) scale(1.007,1.007)" font-size="16.60">1</text><text transform="translate(37.56,463.81) scale(1.054,1.015)" font-size="16.60">0</text><text transform="translate(48.36,458.46) scale(1.288,1.106)" font-size="11.62">−</text><text transform="translate(58.04,457.69) scale(1.012,1.015)" font-size="11.62">3</text><text transform="translate(27.14,432.92) scale(1.007,1.007)" font-size="16.60">1</text><text transform="translate(37.56,432.98) scale(1.054,1.015)" font-size="16.60">0</text><text transform="translate(48.36,427.64) scale(1.288,1.106)" font-size="11.62">−</text><text transform="translate(57.99,426.82) scale(1.007,1.007)" font-size="11.62">1</text><text transform="translate(36.88,402.10) scale(1.007,1.007)" font-size="16.60">1</text><text transform="translate(47.29,402.16) scale(1.054,1.015)" font-size="16.60">0</text><text transform="translate(57.99,396.00) scale(1.007,1.007)" font-size="11.62">1</text><text transform="translate(36.88,371.27) scale(1.007,1.007)" font-size="16.60">1</text><text transform="translate(47.29,371.33) scale(1.054,1.015)" font-size="16.60">0</text><text transform="translate(58.04,365.22) scale(1.012,1.015)" font-size="11.62">3</text><text transform="translate(36.88,340.45) scale(1.007,1.007)" font-size="16.60">1</text><text transform="translate(47.29,340.51) scale(1.054,1.015)" font-size="16.60">0</text><text transform="translate(58.04,334.39) scale(0.995,1.012)" font-size="11.62">5</text><text transform="translate(57.45,543.50) scale(1.007,1.007)" font-size="16.60">1</text><text transform="translate(67.86,543.56) scale(1.054,1.015)" font-size="16.60">0</text><text transform="translate(78.67,538.21) scale(1.288,1.106)" font-size="11.62">−</text><text transform="translate(88.30,537.40) scale(1.007,1.007)" font-size="11.62">1</text><text transform="translate(155.31,543.50) scale(1.007,1.007)" font-size="16.60">1</text><text transform="translate(165.73,543.56) scale(1.054,1.015)" font-size="16.60">0</text><text transform="translate(176.33,537.44) scale(1.054,1.015)" font-size="11.62">0</text><text transform="translate(248.31,543.50) scale(1.007,1.007)" font-size="16.60">1</text><text transform="translate(258.73,543.56) scale(1.054,1.015)" font-size="16.60">0</text><text transform="translate(269.43,537.40) scale(1.007,1.007)" font-size="11.62">1</text><text transform="translate(341.31,543.50) scale(1.007,1.007)" font-size="16.60">1</text><text transform="translate(351.73,543.56) scale(1.054,1.015)" font-size="16.60">0</text><text transform="translate(362.30,537.40) scale(1.016,1.010)" font-size="11.62">2</text><text transform="translate(119.95,325.68) scale(1.073,1.050)" font-size="19.50" font-style="italic">ε</text><text transform="translate(135.01,325.12) scale(1.288,0.876)" font-size="19.50">=</text><text transform="translate(154.70,325.67) scale(1.054,1.068)" font-size="19.50">0</text><text transform="translate(166.78,325.60) scale(1.082,1.160)" font-size="19.50">.</text><text transform="translate(173.47,325.60) scale(1.007,1.060)" font-size="19.50">1</text><text transform="translate(184.18,325.31) scale(1.458,1.023)" font-size="19.50">,</text><text transform="translate(199.20,325.68) scale(1.025,1.051)" font-size="19.50" font-style="italic">s</text><text transform="translate(213.93,325.12) scale(1.288,0.876)" font-size="19.50">=</text><text transform="translate(238.45,327.04) scale(1.288,1.164)" font-size="19.50">−</text><text transform="translate(259.29,325.60) scale(1.007,1.060)" font-size="19.50">1</text><text transform="translate(271.20,325.60) scale(1.082,1.160)" font-size="19.50">.</text><text transform="translate(277.67,325.67) scale(1.066,1.068)" font-size="19.50">8</text><text transform="translate(289.93,325.67) scale(1.091,1.068)" font-size="19.50">6</text></g>
<g fill="#000"><text transform="translate(136.14,566.80) scale(1.091,1.038)" font-size="16.60">T</text><text transform="translate(146.84,566.80) scale(1.281,1.020)" font-size="16.60">r</text><text transform="translate(153.81,566.86) scale(1.078,1.046)" font-size="16.60">u</text><text transform="translate(164.40,566.80) scale(1.078,1.020)" font-size="16.60">n</text><text transform="translate(174.81,566.86) scale(1.003,1.027)" font-size="16.60">c</text><text transform="translate(184.10,566.86) scale(0.899,1.027)" font-size="16.60">a</text><text transform="translate(194.02,566.66) scale(1.337,1.052)" font-size="16.60">t</text><text transform="translate(200.84,566.80) scale(1.022,1.028)" font-size="16.60">i</text><text transform="translate(205.20,566.86) scale(1.063,1.027)" font-size="16.60">o</text><text transform="translate(215.50,566.80) scale(1.078,1.020)" font-size="16.60">n</text><text transform="translate(231.05,566.80) scale(1.313,1.029)" font-size="16.60">f</text><text transform="translate(237.19,566.86) scale(0.899,1.027)" font-size="16.60">a</text><text transform="translate(247.20,566.86) scale(1.003,1.027)" font-size="16.60">c</text><text transform="translate(256.23,566.66) scale(1.337,1.052)" font-size="16.60">t</text><text transform="translate(262.81,566.86) scale(1.063,1.027)" font-size="16.60">o</text><text transform="translate(272.88,566.80) scale(1.281,1.020)" font-size="16.60">r</text><text transform="translate(285.58,566.80) scale(0.988,1.014)" font-size="16.60" font-style="italic">ν</text></g>
<g fill="#1c1c1c" stroke="#1c1c1c" stroke-width="0.45"><text transform="translate(6.62,307.72) scale(0.765,0.94)" font-size="23.15" font-weight="bold">(</text><text transform="translate(14.34,308.08) scale(0.956,1.0)" font-size="23.15" font-weight="bold">c</text><text transform="translate(28.18,307.72) scale(0.796,0.94)" font-size="23.15" font-weight="bold">)</text></g>
<clipPath id="clipd"><rect x="453.65" y="334.45" width="279.0" height="184.95"/></clipPath>
<path d="M453.65,334.45V519.40 M546.65,334.45V519.40 M639.65,334.45V519.40 M732.65,334.45V519.40 M453.65,519.40H732.65 M453.65,488.57H732.65 M453.65,457.75H732.65 M453.65,426.92H732.65 M453.65,396.10H732.65 M453.65,365.27H732.65 M453.65,334.45H732.65" stroke="#b0b0b0" stroke-width="1.2" fill="none"/>
<g clip-path="url(#clipd)" fill="none">
<path d="M497.24,538.40 L497.82,534.20 L498.41,530.13 L498.99,526.19 L499.57,522.35 L500.15,518.64 L500.73,515.03 L501.31,511.53 L501.89,508.14 L502.47,504.85 L503.06,501.66 L503.64,498.56 L504.22,495.56 L504.80,492.65 L505.38,489.82 L505.96,487.08 L506.54,484.43 L507.12,481.85 L507.71,479.36 L508.29,476.94 L508.87,474.59 L509.45,472.32 L510.03,470.11 L510.61,467.98 L511.19,465.91 L511.77,463.90 L512.36,461.96 L512.94,460.08 L513.52,458.25 L514.10,456.49 L514.68,454.77 L515.26,453.12 L515.84,451.51 L516.42,449.96 L517.01,448.46 L517.59,447.00 L518.17,445.59 L518.75,444.23 L519.33,442.91 L519.91,441.63 L520.49,440.40 L521.08,439.20 L521.66,438.05 L522.24,436.93 L522.82,435.85 L523.40,434.81 L523.98,433.80 L524.56,432.82 L525.14,431.88 L525.73,430.97 L526.31,430.10 L526.89,429.25 L527.47,428.43 L528.05,427.64 L528.63,426.88 L529.21,426.15 L529.79,425.44 L530.38,424.75 L530.96,424.10 L531.54,423.46 L532.12,422.85 L532.70,422.27 L533.28,421.70 L533.86,421.16 L534.44,420.63 L535.02,420.13 L535.61,419.65 L536.19,419.19 L536.77,418.74 L537.35,418.31 L537.93,417.90 L538.51,417.51 L539.09,417.14 L539.67,416.78 L540.26,416.43 L540.84,416.10 L541.42,415.79 L542.00,415.49 L542.58,415.21 L543.16,414.93 L543.74,414.68 L544.32,414.43 L544.91,414.20 L545.49,413.97 L546.07,413.76 L546.65,413.57 L547.23,413.38 L547.81,413.20 L548.39,413.04 L548.98,412.88 L549.56,412.74 L550.14,412.60 L550.72,412.47 L551.30,412.35 L551.88,412.25 L552.46,412.14 L553.04,412.05 L553.62,411.97 L554.21,411.89 L554.79,411.82 L555.37,411.76 L555.95,411.71 L556.53,411.66 L557.11,411.62 L557.69,411.59 L558.27,411.56 L558.86,411.54 L559.44,411.52 L560.02,411.52 L560.60,411.51 L560.65,411.51 L561.18,411.51 L561.76,411.52 L562.34,411.54 L562.92,411.55 L563.51,411.58 L564.09,411.60 L564.67,411.64 L565.25,411.67 L565.83,411.72 L566.41,411.76 L566.99,411.81 L567.58,411.86 L568.16,411.92 L568.74,411.98 L569.32,412.05 L569.90,412.12 L570.48,412.19 L571.06,412.27 L571.64,412.35 L572.23,412.43 L572.81,412.51 L573.39,412.60 L573.97,412.70 L574.55,412.79 L575.13,412.89 L575.71,412.99 L576.29,413.09 L576.88,413.19 L577.46,413.30 L578.04,413.41 L578.62,413.52 L579.20,413.64 L579.78,413.76 L580.36,413.88 L580.94,414.00 L581.52,414.12 L582.11,414.24 L582.69,414.37 L583.27,414.50 L583.85,414.63 L584.43,414.76 L585.01,414.90 L585.59,415.03 L586.17,415.17 L586.76,415.31 L587.34,415.45 L587.92,415.59 L588.50,415.74 L589.08,415.88 L589.66,416.03 L590.24,416.17 L590.83,416.32 L591.41,416.47 L591.99,416.62 L592.57,416.78 L593.15,416.93 L593.73,417.09 L594.31,417.24 L594.89,417.40 L595.48,417.56 L596.06,417.71 L596.64,417.87 L597.22,418.03 L597.80,418.20 L598.38,418.36 L598.96,418.52 L599.54,418.69 L600.12,418.85 L600.71,419.02 L601.29,419.18 L601.87,419.35 L602.45,419.52 L603.03,419.69 L603.61,419.86 L604.19,420.03 L604.77,420.20 L605.36,420.37 L605.94,420.54 L606.52,420.71 L607.10,420.89 L607.68,421.06 L608.26,421.23 L608.84,421.41 L609.42,421.58 L610.01,421.76 L610.59,421.94 L611.17,422.11 L611.75,422.29 L612.33,422.47 L612.91,422.65 L613.49,422.82 L614.08,423.00 L614.66,423.18 L615.24,423.36 L615.82,423.54 L616.40,423.72 L616.98,423.90 L617.56,424.08 L618.14,424.26 L618.72,424.45 L619.31,424.63 L619.89,424.81 L620.47,424.99 L621.05,425.18 L621.63,425.36 L622.21,425.54 L622.79,425.73 L623.38,425.91 L623.96,426.09 L624.54,426.28 L625.12,426.46 L625.70,426.65 L626.28,426.83 L626.86,427.02 L627.44,427.20 L628.02,427.39 L628.61,427.58 L629.19,427.76 L629.77,427.95 L630.35,428.13 L630.93,428.32 L631.51,428.51 L632.09,428.69 L632.67,428.88 L633.26,429.07 L633.84,429.26 L634.42,429.44 L635.00,429.63 L635.58,429.82 L636.16,430.01 L636.74,430.20 L637.33,430.38 L637.91,430.57 L638.49,430.76 L639.07,430.95 L639.65,431.14 L640.23,431.33 L640.81,431.52 L641.39,431.71 L641.97,431.89 L642.56,432.08 L643.14,432.27 L643.72,432.46 L644.30,432.65 L644.88,432.84 L645.46,433.03 L646.04,433.22 L646.62,433.41 L647.21,433.60 L647.79,433.79 L648.37,433.98 L648.95,434.17 L649.53,434.36 L650.11,434.55 L650.69,434.74 L651.27,434.93 L651.86,435.12 L652.44,435.31 L653.02,435.50 L653.60,435.70 L654.18,435.89 L654.76,436.08 L655.34,436.27 L655.92,436.46 L656.51,436.65 L657.09,436.84 L657.67,437.03 L658.25,437.22 L658.83,437.41 L659.41,437.60 L659.99,437.80 L660.58,437.99 L661.16,438.18 L661.74,438.37 L662.32,438.56 L662.90,438.75 L663.48,438.94 L664.06,439.14 L664.64,439.33 L665.22,439.52 L665.81,439.71 L666.39,439.90 L666.97,440.09 L667.55,440.29 L668.13,440.48 L668.71,440.67 L669.29,440.86 L669.88,441.05 L670.46,441.24 L671.04,441.44 L671.62,441.63 L672.20,441.82 L672.78,442.01 L673.36,442.20 L673.94,442.40 L674.52,442.59 L675.11,442.78 L675.69,442.97 L676.27,443.16 L676.85,443.36 L677.43,443.55 L678.01,443.74 L678.59,443.93 L679.17,444.12 L679.76,444.32 L680.34,444.51 L680.92,444.70 L681.50,444.89 L682.08,445.08 L682.66,445.28 L683.24,445.47 L683.83,445.66 L684.41,445.85 L684.99,446.05 L685.57,446.24 L686.15,446.43 L686.73,446.62 L687.31,446.81 L687.89,447.01 L688.48,447.20 L689.06,447.39 L689.64,447.58 L690.22,447.78 L690.80,447.97 L691.38,448.16 L691.96,448.35 L692.54,448.55 L693.12,448.74 L693.71,448.93 L694.29,449.12 L694.87,449.32 L695.45,449.51 L696.03,449.70 L696.61,449.89 L697.19,450.09 L697.77,450.28 L698.36,450.47 L698.94,450.66 L699.52,450.85 L700.10,451.05 L700.68,451.24 L701.26,451.43 L701.84,451.62 L702.42,451.82 L703.01,452.01 L703.59,452.20 L704.17,452.39 L704.75,452.59 L705.33,452.78 L705.91,452.97 L706.49,453.16 L707.08,453.36 L707.66,453.55 L708.24,453.74 L708.82,453.93 L709.40,454.13 L709.98,454.32 L710.56,454.51 L711.14,454.70 L711.73,454.90 L712.31,455.09 L712.89,455.28 L713.47,455.48 L714.05,455.67 L714.63,455.86 L715.21,456.05 L715.79,456.25 L716.38,456.44 L716.96,456.63 L717.54,456.82 L718.12,457.02 L718.70,457.21 L719.28,457.40 L719.86,457.59 L720.44,457.79 L721.02,457.98 L721.61,458.17 L722.19,458.36 L722.77,458.56 L723.35,458.75 L723.93,458.94 L724.51,459.13 L725.09,459.33 L725.67,459.52 L726.26,459.71 L726.84,459.90 L727.42,460.10 L728.00,460.29 L728.58,460.48 L729.16,460.67 L729.74,460.87 L730.33,461.06 L730.91,461.25 L731.49,461.45 L732.07,461.64 L732.65,461.83" stroke="#0472b6" stroke-width="3.3" stroke-linejoin="round"/>
<path d="M453.65,412.27 L454.23,412.18 L454.81,412.10 L455.39,412.01 L455.97,411.92 L456.56,411.84 L457.14,411.75 L457.72,411.67 L458.30,411.58 L458.88,411.49 L459.46,411.41 L460.04,411.32 L460.62,411.23 L461.21,411.15 L461.79,411.06 L462.37,410.98 L462.95,410.89 L463.53,410.80 L464.11,410.72 L464.69,410.63 L465.27,410.55 L465.86,410.46 L466.44,410.37 L467.02,410.29 L467.60,410.20 L468.18,410.11 L468.76,410.03 L469.34,409.94 L469.92,409.85 L470.51,409.77 L471.09,409.68 L471.67,409.60 L472.25,409.51 L472.83,409.42 L473.41,409.34 L473.99,409.25 L474.57,409.16 L475.16,409.08 L475.74,408.99 L476.32,408.90 L476.90,408.82 L477.48,408.73 L478.06,408.65 L478.64,408.56 L479.22,408.47 L479.81,408.39 L480.39,408.30 L480.97,408.21 L481.55,408.13 L482.13,408.04 L482.71,407.95 L483.29,407.87 L483.88,407.78 L484.46,407.70 L485.04,407.61 L485.62,407.52 L486.20,407.44 L486.78,407.35 L487.36,407.26 L487.94,407.18 L488.52,407.09 L489.11,407.00 L489.69,406.92 L490.27,406.83 L490.85,406.74 L491.43,406.66 L492.01,406.57 L492.59,406.48 L493.17,406.40 L493.76,406.31 L494.34,406.22 L494.92,406.13 L495.50,406.05 L496.08,405.96 L496.66,405.87 L497.24,405.79 L497.82,405.70 L498.41,405.61 L498.99,405.52 L499.57,405.44 L500.15,405.35 L500.73,405.26 L501.31,405.17 L501.89,405.08 L502.47,404.99 L503.06,404.91 L503.64,404.82 L504.22,404.73 L504.80,404.64 L505.38,404.55 L505.96,404.46 L506.54,404.37 L507.12,404.28 L507.71,404.19 L508.29,404.10 L508.87,404.01 L509.45,403.92 L510.03,403.83 L510.61,403.74 L511.19,403.65 L511.77,403.56 L512.36,403.48 L512.94,403.39 L513.52,403.30 L514.10,403.21 L514.68,403.12 L515.26,403.03 L515.84,402.94 L516.42,402.85 L517.01,402.76 L517.59,402.67 L518.17,402.59 L518.75,402.50 L519.33,402.41 L519.91,402.32 L520.49,402.23 L521.08,402.15 L521.66,402.06 L522.24,401.97 L522.82,401.89 L523.40,401.80 L523.98,401.72 L524.56,401.63 L525.14,401.54 L525.73,401.45 L526.31,401.36 L526.89,401.27 L527.47,401.18 L528.05,401.09 L528.63,400.99 L529.21,400.90 L529.79,400.81 L530.38,400.72 L530.96,400.62 L531.54,400.53 L532.12,400.44 L532.70,400.35 L533.28,400.25 L533.86,400.16 L534.44,400.07 L535.02,399.98 L535.61,399.89 L536.19,399.80 L536.77,399.72 L537.35,399.63 L537.93,399.55 L538.51,399.46 L539.09,399.38 L539.67,399.30 L540.26,399.22 L540.84,399.14 L541.42,399.07 L542.00,398.99 L542.58,398.92 L543.16,398.85 L543.74,398.79 L544.32,398.72 L544.91,398.66 L545.49,398.60 L546.07,398.54 L546.65,398.49 L547.23,398.44 L547.81,398.38 L548.39,398.33 L548.98,398.28 L549.56,398.23 L550.14,398.19 L550.72,398.14 L551.30,398.10 L551.88,398.06 L552.46,398.03 L553.04,397.99 L553.62,397.97 L554.21,397.95 L554.79,397.93 L555.37,397.91 L555.95,397.89 L556.53,397.87 L557.11,397.85 L557.69,397.84 L558.27,397.82 L558.86,397.81 L559.44,397.80 L560.02,397.80 L560.60,397.80 L560.65,397.80 L561.18,397.90 L561.76,398.02 L562.34,398.14 L562.92,398.26 L563.51,398.39 L564.09,398.51 L564.67,398.64 L565.25,398.77 L565.83,398.90 L566.41,399.03 L566.99,399.16 L567.58,399.30 L568.16,399.43 L568.74,399.57 L569.32,399.71 L569.90,399.85 L570.48,399.99 L571.06,400.13 L571.64,400.28 L572.23,400.42 L572.81,400.57 L573.39,400.72 L573.97,400.87 L574.55,401.02 L575.13,401.17 L575.71,401.32 L576.29,401.47 L576.88,401.63 L577.46,401.78 L578.04,401.94 L578.62,402.09 L579.20,402.25 L579.78,402.41 L580.36,402.57 L580.94,402.73 L581.52,402.89 L582.11,403.05 L582.69,403.21 L583.27,403.38 L583.85,403.54 L584.43,403.70 L585.01,403.87 L585.59,404.04 L586.17,404.20 L586.76,404.37 L587.34,404.54 L587.92,404.71 L588.50,404.87 L589.08,405.04 L589.66,405.21 L590.24,405.39 L590.83,405.56 L591.41,405.73 L591.99,405.90 L592.57,406.07 L593.15,406.25 L593.73,406.42 L594.31,406.60 L594.89,406.77 L595.48,406.95 L596.06,407.12 L596.64,407.30 L597.22,407.47 L597.80,407.65 L598.38,407.83 L598.96,408.01 L599.54,408.18 L600.12,408.36 L600.71,408.54 L601.29,408.72 L601.87,408.90 L602.45,409.08 L603.03,409.26 L603.61,409.44 L604.19,409.62 L604.77,409.80 L605.36,409.98 L605.94,410.16 L606.52,410.35 L607.10,410.53 L607.68,410.71 L608.26,410.89 L608.84,411.08 L609.42,411.26 L610.01,411.44 L610.59,411.63 L611.17,411.81 L611.75,411.99 L612.33,412.18 L612.91,412.36 L613.49,412.55 L614.08,412.73 L614.66,412.92 L615.24,413.10 L615.82,413.29 L616.40,413.47 L616.98,413.66 L617.56,413.84 L618.14,414.03 L618.72,414.22 L619.31,414.40 L619.89,414.59 L620.47,414.78 L621.05,414.96 L621.63,415.15 L622.21,415.34 L622.79,415.52 L623.38,415.71 L623.96,415.90 L624.54,416.09 L625.12,416.27 L625.70,416.46 L626.28,416.65 L626.86,416.84 L627.44,417.03 L628.02,417.22 L628.61,417.40 L629.19,417.59 L629.77,417.78 L630.35,417.97 L630.93,418.16 L631.51,418.35 L632.09,418.54 L632.67,418.73 L633.26,418.91 L633.84,419.10 L634.42,419.29 L635.00,419.48 L635.58,419.67 L636.16,419.86 L636.74,420.05 L637.33,420.24 L637.91,420.43 L638.49,420.62 L639.07,420.81 L639.65,421.00 L640.23,421.19 L640.81,421.38 L641.39,421.57 L641.97,421.76 L642.56,421.95 L643.14,422.14 L643.72,422.33 L644.30,422.52 L644.88,422.71 L645.46,422.91 L646.04,423.10 L646.62,423.29 L647.21,423.48 L647.79,423.67 L648.37,423.86 L648.95,424.05 L649.53,424.24 L650.11,424.43 L650.69,424.62 L651.27,424.81 L651.86,425.01 L652.44,425.20 L653.02,425.39 L653.60,425.58 L654.18,425.77 L654.76,425.96 L655.34,426.15 L655.92,426.34 L656.51,426.54 L657.09,426.73 L657.67,426.92 L658.25,427.11 L658.83,427.30 L659.41,427.49 L659.99,427.68 L660.58,427.88 L661.16,428.07 L661.74,428.26 L662.32,428.45 L662.90,428.64 L663.48,428.83 L664.06,429.03 L664.64,429.22 L665.22,429.41 L665.81,429.60 L666.39,429.79 L666.97,429.98 L667.55,430.18 L668.13,430.37 L668.71,430.56 L669.29,430.75 L669.88,430.94 L670.46,431.14 L671.04,431.33 L671.62,431.52 L672.20,431.71 L672.78,431.90 L673.36,432.10 L673.94,432.29 L674.52,432.48 L675.11,432.67 L675.69,432.86 L676.27,433.06 L676.85,433.25 L677.43,433.44 L678.01,433.63 L678.59,433.83 L679.17,434.02 L679.76,434.21 L680.34,434.40 L680.92,434.59 L681.50,434.79 L682.08,434.98 L682.66,435.17 L683.24,435.36 L683.83,435.56 L684.41,435.75 L684.99,435.94 L685.57,436.13 L686.15,436.32 L686.73,436.52 L687.31,436.71 L687.89,436.90 L688.48,437.09 L689.06,437.29 L689.64,437.48 L690.22,437.67 L690.80,437.86 L691.38,438.06 L691.96,438.25 L692.54,438.44 L693.12,438.63 L693.71,438.83 L694.29,439.02 L694.87,439.21 L695.45,439.40 L696.03,439.60 L696.61,439.79 L697.19,439.98 L697.77,440.17 L698.36,440.36 L698.94,440.56 L699.52,440.75 L700.10,440.94 L700.68,441.13 L701.26,441.33 L701.84,441.52 L702.42,441.71 L703.01,441.90 L703.59,442.10 L704.17,442.29 L704.75,442.48 L705.33,442.67 L705.91,442.87 L706.49,443.06 L707.08,443.25 L707.66,443.44 L708.24,443.64 L708.82,443.83 L709.40,444.02 L709.98,444.21 L710.56,444.41 L711.14,444.60 L711.73,444.79 L712.31,444.98 L712.89,445.18 L713.47,445.37 L714.05,445.56 L714.63,445.76 L715.21,445.95 L715.79,446.14 L716.38,446.33 L716.96,446.53 L717.54,446.72 L718.12,446.91 L718.70,447.10 L719.28,447.30 L719.86,447.49 L720.44,447.68 L721.02,447.87 L721.61,448.07 L722.19,448.26 L722.77,448.45 L723.35,448.64 L723.93,448.84 L724.51,449.03 L725.09,449.22 L725.67,449.41 L726.26,449.61 L726.84,449.80 L727.42,449.99 L728.00,450.18 L728.58,450.38 L729.16,450.57 L729.74,450.76 L730.33,450.95 L730.91,451.15 L731.49,451.34 L732.07,451.53 L732.65,451.73" stroke="#00cbd6" stroke-width="3.3" stroke-linejoin="round"/>
<path d="M453.65,412.27 L454.23,412.18 L454.81,412.10 L455.39,412.01 L455.97,411.92 L456.56,411.84 L457.14,411.75 L457.72,411.67 L458.30,411.58 L458.88,411.49 L459.46,411.41 L460.04,411.32 L460.62,411.23 L461.21,411.15 L461.79,411.06 L462.37,410.98 L462.95,410.89 L463.53,410.80 L464.11,410.72 L464.69,410.63 L465.27,410.55 L465.86,410.46 L466.44,410.37 L467.02,410.29 L467.60,410.20 L468.18,410.11 L468.76,410.03 L469.34,409.94 L469.92,409.85 L470.51,409.77 L471.09,409.68 L471.67,409.60 L472.25,409.51 L472.83,409.42 L473.41,409.34 L473.99,409.25 L474.57,409.16 L475.16,409.08 L475.74,408.99 L476.32,408.90 L476.90,408.82 L477.48,408.73 L478.06,408.65 L478.64,408.56 L479.22,408.47 L479.81,408.39 L480.39,408.30 L480.97,408.21 L481.55,408.13 L482.13,408.04 L482.71,407.95 L483.29,407.87 L483.88,407.78 L484.46,407.70 L485.04,407.61 L485.62,407.52 L486.20,407.44 L486.78,407.35 L487.36,407.26 L487.94,407.18 L488.52,407.09 L489.11,407.00 L489.69,406.92 L490.27,406.83 L490.85,406.74 L491.43,406.66 L492.01,406.57 L492.59,406.48 L493.17,406.40 L493.76,406.31 L494.34,406.22 L494.92,406.13 L495.50,406.05 L496.08,405.96 L496.66,405.87 L497.24,405.79 L497.82,405.70 L498.41,405.61 L498.99,405.52 L499.57,405.44 L500.15,405.35 L500.73,405.26 L501.31,405.17 L501.89,405.08 L502.47,404.99 L503.06,404.91 L503.64,404.82 L504.22,404.73 L504.80,404.64 L505.38,404.55 L505.96,404.46 L506.54,404.37 L507.12,404.28 L507.71,404.19 L508.29,404.10 L508.87,404.01 L509.45,403.92 L510.03,403.83 L510.61,403.74 L511.19,403.65 L511.77,403.56 L512.36,403.47 L512.94,403.38 L513.52,403.29 L514.10,403.20 L514.68,403.11 L515.26,403.02 L515.84,402.93 L516.42,402.85 L517.01,402.76 L517.59,402.66 L518.17,402.57 L518.75,402.48 L519.33,402.39 L519.91,402.30 L520.49,402.21 L521.08,402.12 L521.66,402.03 L522.24,401.94 L522.82,401.85 L523.40,401.75 L523.98,401.66 L524.56,401.57 L525.14,401.47 L525.73,401.37 L526.31,401.27 L526.89,401.17 L527.47,401.07 L528.05,400.96 L528.63,400.86 L529.21,400.75 L529.79,400.64 L530.38,400.53 L530.96,400.43 L531.54,400.32 L532.12,400.21 L532.70,400.10 L533.28,399.99 L533.86,399.88 L534.44,399.77 L535.02,399.66 L535.61,399.55 L536.19,399.44 L536.77,399.34 L537.35,399.23 L537.93,399.13 L538.51,399.03 L539.09,398.92 L539.67,398.83 L540.26,398.73 L540.84,398.63 L541.42,398.54 L542.00,398.45 L542.58,398.36 L543.16,398.27 L543.74,398.19 L544.32,398.11 L544.91,398.03 L545.49,397.96 L546.07,397.89 L546.65,397.82 L547.23,397.75 L547.81,397.69 L548.39,397.63 L548.98,397.57 L549.56,397.51 L550.14,397.45 L550.72,397.40 L551.30,397.35 L551.88,397.30 L552.46,397.26 L553.04,397.22 L553.62,397.19 L554.21,397.16 L554.79,397.13 L555.37,397.11 L555.95,397.09 L556.53,397.07 L557.11,397.05 L557.69,397.03 L558.27,397.01 L558.86,397.00 L559.44,396.99 L560.02,396.99 L560.60,396.98 L560.65,396.98 L561.18,397.08 L561.76,397.18 L562.34,397.29 L562.92,397.40 L563.51,397.51 L564.09,397.63 L564.67,397.74 L565.25,397.86 L565.83,397.98 L566.41,398.10 L566.99,398.22 L567.58,398.34 L568.16,398.47 L568.74,398.60 L569.32,398.73 L569.90,398.86 L570.48,398.99 L571.06,399.12 L571.64,399.26 L572.23,399.39 L572.81,399.53 L573.39,399.67 L573.97,399.81 L574.55,399.95 L575.13,400.10 L575.71,400.24 L576.29,400.38 L576.88,400.53 L577.46,400.68 L578.04,400.83 L578.62,400.98 L579.20,401.13 L579.78,401.28 L580.36,401.43 L580.94,401.59 L581.52,401.74 L582.11,401.90 L582.69,402.05 L583.27,402.21 L583.85,402.37 L584.43,402.53 L585.01,402.69 L585.59,402.85 L586.17,403.01 L586.76,403.18 L587.34,403.34 L587.92,403.50 L588.50,403.67 L589.08,403.83 L589.66,404.00 L590.24,404.17 L590.83,404.34 L591.41,404.50 L591.99,404.67 L592.57,404.84 L593.15,405.01 L593.73,405.18 L594.31,405.35 L594.89,405.53 L595.48,405.70 L596.06,405.87 L596.64,406.04 L597.22,406.22 L597.80,406.39 L598.38,406.57 L598.96,406.74 L599.54,406.92 L600.12,407.09 L600.71,407.27 L601.29,407.45 L601.87,407.62 L602.45,407.80 L603.03,407.98 L603.61,408.16 L604.19,408.34 L604.77,408.52 L605.36,408.70 L605.94,408.88 L606.52,409.06 L607.10,409.24 L607.68,409.42 L608.26,409.60 L608.84,409.78 L609.42,409.96 L610.01,410.14 L610.59,410.33 L611.17,410.51 L611.75,410.69 L612.33,410.87 L612.91,411.06 L613.49,411.24 L614.08,411.42 L614.66,411.61 L615.24,411.79 L615.82,411.98 L616.40,412.16 L616.98,412.35 L617.56,412.53 L618.14,412.72 L618.72,412.90 L619.31,413.09 L619.89,413.27 L620.47,413.46 L621.05,413.65 L621.63,413.83 L622.21,414.02 L622.79,414.21 L623.38,414.39 L623.96,414.58 L624.54,414.77 L625.12,414.95 L625.70,415.14 L626.28,415.33 L626.86,415.52 L627.44,415.70 L628.02,415.89 L628.61,416.08 L629.19,416.27 L629.77,416.46 L630.35,416.64 L630.93,416.83 L631.51,417.02 L632.09,417.21 L632.67,417.40 L633.26,417.59 L633.84,417.78 L634.42,417.97 L635.00,418.15 L635.58,418.34 L636.16,418.53 L636.74,418.72 L637.33,418.91 L637.91,419.10 L638.49,419.29 L639.07,419.48 L639.65,419.67 L640.23,419.86 L640.81,420.05 L641.39,420.24 L641.97,420.43 L642.56,420.62 L643.14,420.81 L643.72,421.00 L644.30,421.19 L644.88,421.38 L645.46,421.57 L646.04,421.76 L646.62,421.95 L647.21,422.14 L647.79,422.33 L648.37,422.53 L648.95,422.72 L649.53,422.91 L650.11,423.10 L650.69,423.29 L651.27,423.48 L651.86,423.67 L652.44,423.86 L653.02,424.05 L653.60,424.24 L654.18,424.44 L654.76,424.63 L655.34,424.82 L655.92,425.01 L656.51,425.20 L657.09,425.39 L657.67,425.58 L658.25,425.77 L658.83,425.97 L659.41,426.16 L659.99,426.35 L660.58,426.54 L661.16,426.73 L661.74,426.92 L662.32,427.12 L662.90,427.31 L663.48,427.50 L664.06,427.69 L664.64,427.88 L665.22,428.07 L665.81,428.27 L666.39,428.46 L666.97,428.65 L667.55,428.84 L668.13,429.03 L668.71,429.22 L669.29,429.42 L669.88,429.61 L670.46,429.80 L671.04,429.99 L671.62,430.18 L672.20,430.38 L672.78,430.57 L673.36,430.76 L673.94,430.95 L674.52,431.14 L675.11,431.34 L675.69,431.53 L676.27,431.72 L676.85,431.91 L677.43,432.11 L678.01,432.30 L678.59,432.49 L679.17,432.68 L679.76,432.87 L680.34,433.07 L680.92,433.26 L681.50,433.45 L682.08,433.64 L682.66,433.83 L683.24,434.03 L683.83,434.22 L684.41,434.41 L684.99,434.60 L685.57,434.80 L686.15,434.99 L686.73,435.18 L687.31,435.37 L687.89,435.57 L688.48,435.76 L689.06,435.95 L689.64,436.14 L690.22,436.33 L690.80,436.53 L691.38,436.72 L691.96,436.91 L692.54,437.10 L693.12,437.30 L693.71,437.49 L694.29,437.68 L694.87,437.87 L695.45,438.07 L696.03,438.26 L696.61,438.45 L697.19,438.64 L697.77,438.84 L698.36,439.03 L698.94,439.22 L699.52,439.41 L700.10,439.61 L700.68,439.80 L701.26,439.99 L701.84,440.18 L702.42,440.38 L703.01,440.57 L703.59,440.76 L704.17,440.95 L704.75,441.15 L705.33,441.34 L705.91,441.53 L706.49,441.72 L707.08,441.92 L707.66,442.11 L708.24,442.30 L708.82,442.49 L709.40,442.69 L709.98,442.88 L710.56,443.07 L711.14,443.26 L711.73,443.46 L712.31,443.65 L712.89,443.84 L713.47,444.03 L714.05,444.23 L714.63,444.42 L715.21,444.61 L715.79,444.80 L716.38,445.00 L716.96,445.19 L717.54,445.38 L718.12,445.57 L718.70,445.77 L719.28,445.96 L719.86,446.15 L720.44,446.34 L721.02,446.54 L721.61,446.73 L722.19,446.92 L722.77,447.11 L723.35,447.31 L723.93,447.50 L724.51,447.69 L725.09,447.88 L725.67,448.08 L726.26,448.27 L726.84,448.46 L727.42,448.66 L728.00,448.85 L728.58,449.04 L729.16,449.23 L729.74,449.43 L730.33,449.62 L730.91,449.81 L731.49,450.00 L732.07,450.20 L732.65,450.39" stroke="#000" stroke-width="1.63" stroke-dasharray="6.03 2.61"/>
<path d="M560.65,334.45V519.40" stroke="#000" stroke-width="0.85" stroke-dasharray="5.4 1.36 0.85 1.36"/>
</g>
<rect x="556.00" y="340.25" width="171.1" height="56.75" rx="2.3" fill="#fff" fill-opacity="0.8" stroke="#cccccc" stroke-width="1.1"/>
<path d="M560.56,349.45H583.36" stroke="#0472b6" stroke-width="3.3" stroke-linecap="square"/>
<path d="M560.56,368.05H583.36" stroke="#00cbd6" stroke-width="3.3" stroke-linecap="square"/>
<path d="M560.56,386.55H583.36" stroke="#000" stroke-width="1.63" stroke-dasharray="6.03 2.61"/>
<g fill="#000" stroke="#000" stroke-width="0.12"><text transform="translate(592.77,353.85) scale(1.033,1.007)" font-size="11.40" font-style="italic">K</text><text transform="translate(600.72,355.63) scale(1.007,1.007)" font-size="7.98">1</text><text transform="translate(607.97,353.48) scale(1.082,1.097)" font-size="11.40">·</text><text transform="translate(614.48,353.85) scale(1.241,0.996)" font-size="11.40" font-style="italic">f</text><text transform="translate(618.54,355.63) scale(1.007,1.007)" font-size="7.98">1</text><text transform="translate(624.15,353.13) scale(0.845,0.908)" font-size="11.40">(</text><text transform="translate(628.78,353.85) scale(0.988,0.983)" font-size="11.40" font-style="italic">ν</text><text transform="translate(635.66,353.13) scale(0.845,0.908)" font-size="11.40">)</text><text transform="translate(592.77,372.45) scale(1.033,1.007)" font-size="11.40" font-style="italic">K</text><text transform="translate(600.63,374.23) scale(1.016,1.010)" font-size="7.98">2</text><text transform="translate(606.33,371.73) scale(0.845,0.908)" font-size="11.40">(</text><text transform="translate(610.96,372.45) scale(0.988,0.983)" font-size="11.40" font-style="italic">ν</text><text transform="translate(619.95,367.59) scale(1.232,1.234)" font-size="6.38">*</text><text transform="translate(625.92,371.73) scale(0.845,0.908)" font-size="11.40">)</text><text transform="translate(631.62,372.08) scale(1.082,1.097)" font-size="11.40">·</text><text transform="translate(638.12,372.45) scale(1.241,0.996)" font-size="11.40" font-style="italic">f</text><text transform="translate(642.10,374.23) scale(1.016,1.010)" font-size="7.98">2</text><text transform="translate(647.80,371.73) scale(0.845,0.908)" font-size="11.40">(</text><text transform="translate(652.43,372.45) scale(0.988,0.983)" font-size="11.40" font-style="italic">ν</text><text transform="translate(659.30,371.73) scale(0.845,0.908)" font-size="11.40">)</text><text transform="translate(592.77,390.95) scale(1.033,1.007)" font-size="11.40" font-style="italic">K</text><text transform="translate(600.72,392.73) scale(1.007,1.007)" font-size="7.98">1</text><text transform="translate(607.97,390.58) scale(1.082,1.097)" font-size="11.40">·</text><text transform="translate(614.48,390.95) scale(1.241,0.996)" font-size="11.40" font-style="italic">f</text><text transform="translate(618.54,392.73) scale(1.007,1.007)" font-size="7.98">1</text><text transform="translate(624.15,390.23) scale(0.845,0.908)" font-size="11.40">(</text><text transform="translate(628.78,390.95) scale(0.988,0.983)" font-size="11.40" font-style="italic">ν</text><text transform="translate(635.66,390.23) scale(0.845,0.908)" font-size="11.40">)</text><text transform="translate(642.09,392.17) scale(1.288,1.217)" font-size="11.40">+</text><text transform="translate(653.56,390.95) scale(1.033,1.007)" font-size="11.40" font-style="italic">K</text><text transform="translate(661.41,392.73) scale(1.016,1.010)" font-size="7.98">2</text><text transform="translate(667.12,390.23) scale(0.845,0.908)" font-size="11.40">(</text><text transform="translate(671.74,390.95) scale(0.988,0.983)" font-size="11.40" font-style="italic">ν</text><text transform="translate(680.73,386.09) scale(1.232,1.234)" font-size="6.38">*</text><text transform="translate(686.70,390.23) scale(0.845,0.908)" font-size="11.40">)</text><text transform="translate(692.40,390.58) scale(1.082,1.097)" font-size="11.40">·</text><text transform="translate(698.90,390.95) scale(1.241,0.996)" font-size="11.40" font-style="italic">f</text><text transform="translate(702.88,392.73) scale(1.016,1.010)" font-size="7.98">2</text><text transform="translate(708.58,390.23) scale(0.845,0.908)" font-size="11.40">(</text><text transform="translate(713.21,390.95) scale(0.988,0.983)" font-size="11.40" font-style="italic">ν</text><text transform="translate(720.09,390.23) scale(0.845,0.908)" font-size="11.40">)</text></g>
<rect x="453.65" y="334.45" width="279.0" height="184.95" fill="none" stroke="#000" stroke-width="1.3"/>
<path d="M453.65,519.40v5.8 M546.65,519.40v5.8 M639.65,519.40v5.8 M732.65,519.40v5.8 M453.65,519.40h-5.8 M453.65,488.57h-5.8 M453.65,457.75h-5.8 M453.65,426.92h-5.8 M453.65,396.10h-5.8 M453.65,365.27h-5.8 M453.65,334.45h-5.8" stroke="#000" stroke-width="1.3" fill="none"/>
<path d="M481.65,519.40v3.3 M498.02,519.40v3.3 M509.64,519.40v3.3 M518.65,519.40v3.3 M526.02,519.40v3.3 M532.24,519.40v3.3 M537.64,519.40v3.3 M542.39,519.40v3.3 M574.65,519.40v3.3 M591.02,519.40v3.3 M602.64,519.40v3.3 M611.65,519.40v3.3 M619.02,519.40v3.3 M625.24,519.40v3.3 M630.64,519.40v3.3 M635.39,519.40v3.3 M667.65,519.40v3.3 M684.02,519.40v3.3 M695.64,519.40v3.3 M704.65,519.40v3.3 M712.02,519.40v3.3 M718.24,519.40v3.3 M723.64,519.40v3.3 M728.39,519.40v3.3" stroke="#000" stroke-width="1.0" fill="none"/>
<g fill="#000" stroke="#000" stroke-width="0.15"><text transform="translate(405.09,525.40) scale(1.007,1.007)" font-size="16.60">1</text><text transform="translate(415.51,525.46) scale(1.054,1.015)" font-size="16.60">0</text><text transform="translate(426.31,520.11) scale(1.288,1.106)" font-size="11.62">−</text><text transform="translate(435.90,519.30) scale(1.031,1.007)" font-size="11.62">7</text><text transform="translate(405.09,494.57) scale(1.007,1.007)" font-size="16.60">1</text><text transform="translate(415.51,494.63) scale(1.054,1.015)" font-size="16.60">0</text><text transform="translate(426.31,489.29) scale(1.288,1.106)" font-size="11.62">−</text><text transform="translate(435.99,488.52) scale(0.995,1.012)" font-size="11.62">5</text><text transform="translate(405.09,463.75) scale(1.007,1.007)" font-size="16.60">1</text><text transform="translate(415.51,463.81) scale(1.054,1.015)" font-size="16.60">0</text><text transform="translate(426.31,458.46) scale(1.288,1.106)" font-size="11.62">−</text><text transform="translate(435.99,457.69) scale(1.012,1.015)" font-size="11.62">3</text><text transform="translate(405.09,432.92) scale(1.007,1.007)" font-size="16.60">1</text><text transform="translate(415.51,432.98) scale(1.054,1.015)" font-size="16.60">0</text><text transform="translate(426.31,427.64) scale(1.288,1.106)" font-size="11.62">−</text><text transform="translate(435.94,426.82) scale(1.007,1.007)" font-size="11.62">1</text><text transform="translate(414.83,402.10) scale(1.007,1.007)" font-size="16.60">1</text><text transform="translate(425.24,402.16) scale(1.054,1.015)" font-size="16.60">0</text><text transform="translate(435.94,396.00) scale(1.007,1.007)" font-size="11.62">1</text><text transform="translate(414.83,371.27) scale(1.007,1.007)" font-size="16.60">1</text><text transform="translate(425.24,371.33) scale(1.054,1.015)" font-size="16.60">0</text><text transform="translate(435.99,365.22) scale(1.012,1.015)" font-size="11.62">3</text><text transform="translate(414.83,340.45) scale(1.007,1.007)" font-size="16.60">1</text><text transform="translate(425.24,340.51) scale(1.054,1.015)" font-size="16.60">0</text><text transform="translate(435.99,334.39) scale(0.995,1.012)" font-size="11.62">5</text><text transform="translate(435.40,543.50) scale(1.007,1.007)" font-size="16.60">1</text><text transform="translate(445.81,543.56) scale(1.054,1.015)" font-size="16.60">0</text><text transform="translate(456.62,538.21) scale(1.288,1.106)" font-size="11.62">−</text><text transform="translate(466.25,537.40) scale(1.007,1.007)" font-size="11.62">1</text><text transform="translate(533.26,543.50) scale(1.007,1.007)" font-size="16.60">1</text><text transform="translate(543.68,543.56) scale(1.054,1.015)" font-size="16.60">0</text><text transform="translate(554.28,537.44) scale(1.054,1.015)" font-size="11.62">0</text><text transform="translate(626.26,543.50) scale(1.007,1.007)" font-size="16.60">1</text><text transform="translate(636.68,543.56) scale(1.054,1.015)" font-size="16.60">0</text><text transform="translate(647.38,537.40) scale(1.007,1.007)" font-size="11.62">1</text><text transform="translate(719.26,543.50) scale(1.007,1.007)" font-size="16.60">1</text><text transform="translate(729.68,543.56) scale(1.054,1.015)" font-size="16.60">0</text><text transform="translate(740.25,537.40) scale(1.016,1.010)" font-size="11.62">2</text><text transform="translate(513.55,325.68) scale(1.073,1.050)" font-size="19.50" font-style="italic">ε</text><text transform="translate(528.61,325.12) scale(1.288,0.876)" font-size="19.50">=</text><text transform="translate(548.30,325.67) scale(1.054,1.068)" font-size="19.50">0</text><text transform="translate(560.38,325.60) scale(1.082,1.160)" font-size="19.50">.</text><text transform="translate(567.07,325.60) scale(1.007,1.060)" font-size="19.50">1</text><text transform="translate(577.78,325.31) scale(1.458,1.023)" font-size="19.50">,</text><text transform="translate(592.80,325.68) scale(1.025,1.051)" font-size="19.50" font-style="italic">s</text><text transform="translate(607.53,325.12) scale(1.288,0.876)" font-size="19.50">=</text><text transform="translate(632.05,327.04) scale(1.288,1.164)" font-size="19.50">−</text><text transform="translate(652.97,325.67) scale(1.012,1.068)" font-size="19.50">3</text></g>
<g fill="#000"><text transform="translate(514.09,566.80) scale(1.091,1.038)" font-size="16.60">T</text><text transform="translate(524.79,566.80) scale(1.281,1.020)" font-size="16.60">r</text><text transform="translate(531.76,566.86) scale(1.078,1.046)" font-size="16.60">u</text><text transform="translate(542.35,566.80) scale(1.078,1.020)" font-size="16.60">n</text><text transform="translate(552.76,566.86) scale(1.003,1.027)" font-size="16.60">c</text><text transform="translate(562.05,566.86) scale(0.899,1.027)" font-size="16.60">a</text><text transform="translate(571.97,566.66) scale(1.337,1.052)" font-size="16.60">t</text><text transform="translate(578.79,566.80) scale(1.022,1.028)" font-size="16.60">i</text><text transform="translate(583.15,566.86) scale(1.063,1.027)" font-size="16.60">o</text><text transform="translate(593.45,566.80) scale(1.078,1.020)" font-size="16.60">n</text><text transform="translate(609.00,566.80) scale(1.313,1.029)" font-size="16.60">f</text><text transform="translate(615.14,566.86) scale(0.899,1.027)" font-size="16.60">a</text><text transform="translate(625.15,566.86) scale(1.003,1.027)" font-size="16.60">c</text><text transform="translate(634.18,566.66) scale(1.337,1.052)" font-size="16.60">t</text><text transform="translate(640.76,566.86) scale(1.063,1.027)" font-size="16.60">o</text><text transform="translate(650.83,566.80) scale(1.281,1.020)" font-size="16.60">r</text><text transform="translate(663.53,566.80) scale(0.988,1.014)" font-size="16.60" font-style="italic">ν</text></g>
<g fill="#1c1c1c" stroke="#1c1c1c" stroke-width="0.45"><text transform="translate(384.35,307.72) scale(0.827,0.94)" font-size="23.15" font-weight="bold">(</text><text transform="translate(392.07,308.08) scale(0.977,1.0)" font-size="23.15" font-weight="bold">d</text><text transform="translate(407.18,307.72) scale(0.857,0.94)" font-size="23.15" font-weight="bold">)</text></g>
<clipPath id="clipe"><rect x="75.7" y="618.0" width="279.0" height="185.1"/></clipPath>
<path d="M75.70,618.00V803.10 M168.70,618.00V803.10 M261.70,618.00V803.10 M354.70,618.00V803.10 M75.70,803.10H354.70 M75.70,772.25H354.70 M75.70,741.40H354.70 M75.70,710.55H354.70 M75.70,679.70H354.70 M75.70,648.85H354.70 M75.70,618.00H354.70" stroke="#b0b0b0" stroke-width="1.2" fill="none"/>
<g clip-path="url(#clipe)" fill="none">
<path d="M112.32,823.42 L112.90,817.41 L113.48,811.58 L114.06,805.92 L114.64,800.43 L115.23,795.09 L115.81,789.92 L116.39,784.89 L116.97,780.01 L117.55,775.28 L118.13,770.69 L118.71,766.23 L119.29,761.91 L119.88,757.71 L120.46,753.64 L121.04,749.69 L121.62,745.85 L122.20,742.13 L122.78,738.53 L123.36,735.02 L123.94,731.63 L124.53,728.33 L125.11,725.14 L125.69,722.04 L126.27,719.04 L126.85,716.12 L127.43,713.29 L128.01,710.55 L128.59,707.89 L129.18,705.32 L129.76,702.82 L130.34,700.40 L130.92,698.05 L131.50,695.77 L132.08,693.57 L132.66,691.43 L133.24,689.36 L133.82,687.35 L134.41,685.41 L134.99,683.52 L135.57,681.70 L136.15,679.93 L136.73,678.22 L137.31,676.56 L137.89,674.95 L138.47,673.40 L139.06,671.89 L139.64,670.44 L140.22,669.03 L140.80,667.66 L141.38,666.34 L141.96,665.06 L142.54,663.83 L143.12,662.63 L143.71,661.48 L144.29,660.36 L144.87,659.28 L145.45,658.23 L146.03,657.23 L146.61,656.25 L147.19,655.31 L147.78,654.40 L148.36,653.52 L148.94,652.67 L149.52,651.85 L150.10,651.06 L150.68,650.30 L151.26,649.57 L151.84,648.86 L152.43,648.17 L153.01,647.52 L153.59,646.88 L154.17,646.27 L154.75,645.68 L155.33,645.12 L155.91,644.57 L156.49,644.05 L157.07,643.55 L157.66,643.06 L158.24,642.60 L158.82,642.16 L159.40,641.73 L159.98,641.32 L160.56,640.93 L161.14,640.55 L161.73,640.19 L162.31,639.85 L162.89,639.52 L163.47,639.20 L164.05,638.90 L164.63,638.62 L165.21,638.35 L165.79,638.09 L166.38,637.84 L166.96,637.61 L167.54,637.39 L168.12,637.18 L168.70,636.98 L169.28,636.79 L169.86,636.61 L170.44,636.45 L171.03,636.29 L171.61,636.15 L172.19,636.01 L172.77,635.88 L173.35,635.76 L173.93,635.65 L174.51,635.55 L175.09,635.46 L175.68,635.38 L176.26,635.30 L176.84,635.23 L177.42,635.17 L178.00,635.12 L178.58,635.07 L179.16,635.03 L179.74,635.00 L180.32,634.97 L180.91,634.95 L181.49,634.93 L182.07,634.92 L182.65,634.92 L182.70,634.92 L183.23,634.92 L183.81,634.93 L184.39,634.94 L184.98,634.96 L185.56,634.99 L186.14,635.01 L186.72,635.05 L187.30,635.08 L187.88,635.12 L188.46,635.17 L189.04,635.22 L189.62,635.27 L190.21,635.33 L190.79,635.39 L191.37,635.46 L191.95,635.53 L192.53,635.60 L193.11,635.68 L193.69,635.76 L194.28,635.84 L194.86,635.92 L195.44,636.01 L196.02,636.10 L196.60,636.20 L197.18,636.30 L197.76,636.40 L198.34,636.50 L198.93,636.60 L199.51,636.71 L200.09,636.82 L200.67,636.93 L201.25,637.05 L201.83,637.17 L202.41,637.29 L202.99,637.41 L203.57,637.53 L204.16,637.66 L204.74,637.78 L205.32,637.91 L205.90,638.04 L206.48,638.17 L207.06,638.31 L207.64,638.45 L208.23,638.58 L208.81,638.72 L209.39,638.86 L209.97,639.00 L210.55,639.15 L211.13,639.29 L211.71,639.44 L212.29,639.59 L212.88,639.74 L213.46,639.89 L214.04,640.04 L214.62,640.19 L215.20,640.34 L215.78,640.50 L216.36,640.65 L216.94,640.81 L217.53,640.97 L218.11,641.13 L218.69,641.29 L219.27,641.45 L219.85,641.61 L220.43,641.77 L221.01,641.94 L221.59,642.10 L222.18,642.27 L222.76,642.43 L223.34,642.60 L223.92,642.77 L224.50,642.93 L225.08,643.10 L225.66,643.27 L226.24,643.44 L226.82,643.61 L227.41,643.78 L227.99,643.96 L228.57,644.13 L229.15,644.30 L229.73,644.48 L230.31,644.65 L230.89,644.83 L231.48,645.00 L232.06,645.18 L232.64,645.35 L233.22,645.53 L233.80,645.71 L234.38,645.88 L234.96,646.06 L235.54,646.24 L236.12,646.42 L236.71,646.60 L237.29,646.78 L237.87,646.96 L238.45,647.14 L239.03,647.32 L239.61,647.50 L240.19,647.68 L240.77,647.87 L241.36,648.05 L241.94,648.23 L242.52,648.41 L243.10,648.60 L243.68,648.78 L244.26,648.96 L244.84,649.15 L245.43,649.33 L246.01,649.51 L246.59,649.70 L247.17,649.88 L247.75,650.07 L248.33,650.25 L248.91,650.44 L249.49,650.62 L250.07,650.81 L250.66,651.00 L251.24,651.18 L251.82,651.37 L252.40,651.56 L252.98,651.74 L253.56,651.93 L254.14,652.12 L254.73,652.30 L255.31,652.49 L255.89,652.68 L256.47,652.87 L257.05,653.06 L257.63,653.24 L258.21,653.43 L258.79,653.62 L259.38,653.81 L259.96,654.00 L260.54,654.19 L261.12,654.37 L261.70,654.56 L262.28,654.75 L262.86,654.94 L263.44,655.13 L264.02,655.32 L264.61,655.51 L265.19,655.70 L265.77,655.89 L266.35,656.08 L266.93,656.27 L267.51,656.46 L268.09,656.65 L268.68,656.84 L269.26,657.03 L269.84,657.22 L270.42,657.41 L271.00,657.60 L271.58,657.79 L272.16,657.98 L272.74,658.17 L273.32,658.36 L273.91,658.55 L274.49,658.74 L275.07,658.93 L275.65,659.12 L276.23,659.31 L276.81,659.51 L277.39,659.70 L277.98,659.89 L278.56,660.08 L279.14,660.27 L279.72,660.46 L280.30,660.65 L280.88,660.84 L281.46,661.03 L282.04,661.23 L282.62,661.42 L283.21,661.61 L283.79,661.80 L284.37,661.99 L284.95,662.18 L285.53,662.38 L286.11,662.57 L286.69,662.76 L287.27,662.95 L287.86,663.14 L288.44,663.33 L289.02,663.53 L289.60,663.72 L290.18,663.91 L290.76,664.10 L291.34,664.29 L291.93,664.49 L292.51,664.68 L293.09,664.87 L293.67,665.06 L294.25,665.25 L294.83,665.45 L295.41,665.64 L295.99,665.83 L296.57,666.02 L297.16,666.21 L297.74,666.41 L298.32,666.60 L298.90,666.79 L299.48,666.98 L300.06,667.17 L300.64,667.37 L301.23,667.56 L301.81,667.75 L302.39,667.94 L302.97,668.14 L303.55,668.33 L304.13,668.52 L304.71,668.71 L305.29,668.91 L305.88,669.10 L306.46,669.29 L307.04,669.48 L307.62,669.67 L308.20,669.87 L308.78,670.06 L309.36,670.25 L309.94,670.44 L310.53,670.64 L311.11,670.83 L311.69,671.02 L312.27,671.21 L312.85,671.41 L313.43,671.60 L314.01,671.79 L314.59,671.98 L315.18,672.18 L315.76,672.37 L316.34,672.56 L316.92,672.75 L317.50,672.95 L318.08,673.14 L318.66,673.33 L319.24,673.53 L319.82,673.72 L320.41,673.91 L320.99,674.10 L321.57,674.30 L322.15,674.49 L322.73,674.68 L323.31,674.87 L323.89,675.07 L324.48,675.26 L325.06,675.45 L325.64,675.64 L326.22,675.84 L326.80,676.03 L327.38,676.22 L327.96,676.41 L328.54,676.61 L329.12,676.80 L329.71,676.99 L330.29,677.19 L330.87,677.38 L331.45,677.57 L332.03,677.76 L332.61,677.96 L333.19,678.15 L333.78,678.34 L334.36,678.53 L334.94,678.73 L335.52,678.92 L336.10,679.11 L336.68,679.30 L337.26,679.50 L337.84,679.69 L338.43,679.88 L339.01,680.08 L339.59,680.27 L340.17,680.46 L340.75,680.65 L341.33,680.85 L341.91,681.04 L342.49,681.23 L343.07,681.42 L343.66,681.62 L344.24,681.81 L344.82,682.00 L345.40,682.20 L345.98,682.39 L346.56,682.58 L347.14,682.77 L347.73,682.97 L348.31,683.16 L348.89,683.35 L349.47,683.55 L350.05,683.74 L350.63,683.93 L351.21,684.12 L351.79,684.32 L352.38,684.51 L352.96,684.70 L353.54,684.89 L354.12,685.09 L354.70,685.28" stroke="#0472b6" stroke-width="3.3" stroke-linejoin="round"/>
<path d="M75.70,642.06 L76.28,642.09 L76.86,642.12 L77.44,642.15 L78.03,642.18 L78.61,642.21 L79.19,642.24 L79.77,642.28 L80.35,642.31 L80.93,642.34 L81.51,642.38 L82.09,642.41 L82.67,642.45 L83.26,642.48 L83.84,642.52 L84.42,642.55 L85.00,642.59 L85.58,642.63 L86.16,642.66 L86.74,642.70 L87.33,642.74 L87.91,642.78 L88.49,642.81 L89.07,642.85 L89.65,642.89 L90.23,642.93 L90.81,642.97 L91.39,643.01 L91.98,643.05 L92.56,643.09 L93.14,643.13 L93.72,643.17 L94.30,643.21 L94.88,643.26 L95.46,643.30 L96.04,643.35 L96.62,643.39 L97.21,643.44 L97.79,643.49 L98.37,643.54 L98.95,643.59 L99.53,643.65 L100.11,643.71 L100.69,643.77 L101.28,643.83 L101.86,643.90 L102.44,643.98 L103.02,644.05 L103.60,644.13 L104.18,644.21 L104.76,644.30 L105.34,644.38 L105.92,644.47 L106.51,644.56 L107.09,644.65 L107.67,644.73 L108.25,644.82 L108.83,644.91 L109.41,645.00 L109.99,645.08 L110.58,645.17 L111.16,645.25 L111.74,645.33 L112.32,645.41 L112.90,645.50 L113.48,645.58 L114.06,645.67 L114.64,645.75 L115.23,645.84 L115.81,645.92 L116.39,646.01 L116.97,646.10 L117.55,646.20 L118.13,646.29 L118.71,646.39 L119.29,646.49 L119.88,646.60 L120.46,646.70 L121.04,646.82 L121.62,646.93 L122.20,647.06 L122.78,647.18 L123.36,647.31 L123.94,647.44 L124.53,647.57 L125.11,647.71 L125.69,647.85 L126.27,647.98 L126.85,648.12 L127.43,648.26 L128.01,648.40 L128.59,648.54 L129.18,648.68 L129.76,648.81 L130.34,648.95 L130.92,649.08 L131.50,649.21 L132.08,649.35 L132.66,649.48 L133.24,649.62 L133.82,649.75 L134.41,649.89 L134.99,650.03 L135.57,650.16 L136.15,650.30 L136.73,650.44 L137.31,650.58 L137.89,650.72 L138.47,650.87 L139.06,651.01 L139.64,651.16 L140.22,651.31 L140.80,651.46 L141.38,651.61 L141.96,651.76 L142.54,651.91 L143.12,652.07 L143.71,652.22 L144.29,652.38 L144.87,652.54 L145.45,652.70 L146.03,652.86 L146.61,653.03 L147.19,653.19 L147.78,653.36 L148.36,653.53 L148.94,653.70 L149.52,653.87 L150.10,654.05 L150.68,654.22 L151.26,654.39 L151.84,654.57 L152.43,654.75 L153.01,654.92 L153.59,655.10 L154.17,655.28 L154.75,655.46 L155.33,655.64 L155.91,655.82 L156.49,656.01 L157.07,656.19 L157.66,656.38 L158.24,656.56 L158.82,656.75 L159.40,656.94 L159.98,657.13 L160.56,657.33 L161.14,657.52 L161.73,657.72 L162.31,657.92 L162.89,658.12 L163.47,658.33 L164.05,658.53 L164.63,658.74 L165.21,658.95 L165.79,659.16 L166.38,659.38 L166.96,659.60 L167.54,659.82 L168.12,660.04 L168.70,660.26 L169.28,660.49 L169.86,660.73 L170.44,660.97 L171.03,661.21 L171.61,661.45 L172.19,661.70 L172.77,661.95 L173.35,662.21 L173.93,662.47 L174.51,662.73 L175.09,663.00 L175.68,663.27 L176.26,663.54 L176.84,663.82 L177.42,664.10 L178.00,664.38 L178.58,664.66 L179.16,664.95 L179.74,665.24 L180.32,665.53 L180.91,665.82 L181.49,666.12 L182.07,666.42 L182.65,666.72 L182.70,666.74 L183.23,666.85 L183.81,666.97 L184.39,667.09 L184.98,667.21 L185.56,667.33 L186.14,667.46 L186.72,667.59 L187.30,667.72 L187.88,667.85 L188.46,667.98 L189.04,668.11 L189.62,668.25 L190.21,668.38 L190.79,668.52 L191.37,668.66 L191.95,668.80 L192.53,668.94 L193.11,669.08 L193.69,669.23 L194.28,669.37 L194.86,669.52 L195.44,669.67 L196.02,669.82 L196.60,669.97 L197.18,670.12 L197.76,670.27 L198.34,670.42 L198.93,670.58 L199.51,670.73 L200.09,670.89 L200.67,671.04 L201.25,671.20 L201.83,671.36 L202.41,671.52 L202.99,671.68 L203.57,671.84 L204.16,672.00 L204.74,672.16 L205.32,672.33 L205.90,672.49 L206.48,672.66 L207.06,672.82 L207.64,672.99 L208.23,673.15 L208.81,673.32 L209.39,673.49 L209.97,673.66 L210.55,673.83 L211.13,674.00 L211.71,674.17 L212.29,674.34 L212.88,674.51 L213.46,674.68 L214.04,674.86 L214.62,675.03 L215.20,675.20 L215.78,675.38 L216.36,675.55 L216.94,675.73 L217.53,675.90 L218.11,676.08 L218.69,676.25 L219.27,676.43 L219.85,676.61 L220.43,676.78 L221.01,676.96 L221.59,677.14 L222.18,677.32 L222.76,677.50 L223.34,677.68 L223.92,677.86 L224.50,678.04 L225.08,678.22 L225.66,678.40 L226.24,678.58 L226.82,678.76 L227.41,678.94 L227.99,679.12 L228.57,679.30 L229.15,679.49 L229.73,679.67 L230.31,679.85 L230.89,680.03 L231.48,680.22 L232.06,680.40 L232.64,680.58 L233.22,680.77 L233.80,680.95 L234.38,681.14 L234.96,681.32 L235.54,681.51 L236.12,681.69 L236.71,681.88 L237.29,682.06 L237.87,682.25 L238.45,682.43 L239.03,682.62 L239.61,682.80 L240.19,682.99 L240.77,683.18 L241.36,683.36 L241.94,683.55 L242.52,683.74 L243.10,683.92 L243.68,684.11 L244.26,684.30 L244.84,684.49 L245.43,684.67 L246.01,684.86 L246.59,685.05 L247.17,685.24 L247.75,685.43 L248.33,685.61 L248.91,685.80 L249.49,685.99 L250.07,686.18 L250.66,686.37 L251.24,686.56 L251.82,686.74 L252.40,686.93 L252.98,687.12 L253.56,687.31 L254.14,687.50 L254.73,687.69 L255.31,687.88 L255.89,688.07 L256.47,688.26 L257.05,688.45 L257.63,688.64 L258.21,688.83 L258.79,689.02 L259.38,689.21 L259.96,689.40 L260.54,689.59 L261.12,689.78 L261.70,689.97 L262.28,690.16 L262.86,690.35 L263.44,690.54 L264.02,690.73 L264.61,690.92 L265.19,691.11 L265.77,691.30 L266.35,691.49 L266.93,691.68 L267.51,691.87 L268.09,692.06 L268.68,692.25 L269.26,692.45 L269.84,692.64 L270.42,692.83 L271.00,693.02 L271.58,693.21 L272.16,693.40 L272.74,693.59 L273.32,693.78 L273.91,693.97 L274.49,694.17 L275.07,694.36 L275.65,694.55 L276.23,694.74 L276.81,694.93 L277.39,695.12 L277.98,695.31 L278.56,695.51 L279.14,695.70 L279.72,695.89 L280.30,696.08 L280.88,696.27 L281.46,696.46 L282.04,696.66 L282.62,696.85 L283.21,697.04 L283.79,697.23 L284.37,697.42 L284.95,697.62 L285.53,697.81 L286.11,698.00 L286.69,698.19 L287.27,698.38 L287.86,698.57 L288.44,698.77 L289.02,698.96 L289.60,699.15 L290.18,699.34 L290.76,699.53 L291.34,699.73 L291.93,699.92 L292.51,700.11 L293.09,700.30 L293.67,700.50 L294.25,700.69 L294.83,700.88 L295.41,701.07 L295.99,701.26 L296.57,701.46 L297.16,701.65 L297.74,701.84 L298.32,702.03 L298.90,702.23 L299.48,702.42 L300.06,702.61 L300.64,702.80 L301.23,702.99 L301.81,703.19 L302.39,703.38 L302.97,703.57 L303.55,703.76 L304.13,703.96 L304.71,704.15 L305.29,704.34 L305.88,704.53 L306.46,704.73 L307.04,704.92 L307.62,705.11 L308.20,705.30 L308.78,705.50 L309.36,705.69 L309.94,705.88 L310.53,706.07 L311.11,706.27 L311.69,706.46 L312.27,706.65 L312.85,706.84 L313.43,707.04 L314.01,707.23 L314.59,707.42 L315.18,707.61 L315.76,707.81 L316.34,708.00 L316.92,708.19 L317.50,708.38 L318.08,708.58 L318.66,708.77 L319.24,708.96 L319.82,709.15 L320.41,709.35 L320.99,709.54 L321.57,709.73 L322.15,709.92 L322.73,710.12 L323.31,710.31 L323.89,710.50 L324.48,710.70 L325.06,710.89 L325.64,711.08 L326.22,711.27 L326.80,711.47 L327.38,711.66 L327.96,711.85 L328.54,712.04 L329.12,712.24 L329.71,712.43 L330.29,712.62 L330.87,712.81 L331.45,713.01 L332.03,713.20 L332.61,713.39 L333.19,713.59 L333.78,713.78 L334.36,713.97 L334.94,714.16 L335.52,714.36 L336.10,714.55 L336.68,714.74 L337.26,714.93 L337.84,715.13 L338.43,715.32 L339.01,715.51 L339.59,715.71 L340.17,715.90 L340.75,716.09 L341.33,716.28 L341.91,716.48 L342.49,716.67 L343.07,716.86 L343.66,717.05 L344.24,717.25 L344.82,717.44 L345.40,717.63 L345.98,717.83 L346.56,718.02 L347.14,718.21 L347.73,718.40 L348.31,718.60 L348.89,718.79 L349.47,718.98 L350.05,719.17 L350.63,719.37 L351.21,719.56 L351.79,719.75 L352.38,719.95 L352.96,720.14 L353.54,720.33 L354.12,720.52 L354.70,720.72" stroke="#00cbd6" stroke-width="3.3" stroke-linejoin="round"/>
<path d="M75.70,642.06 L76.28,642.09 L76.86,642.12 L77.44,642.15 L78.03,642.18 L78.61,642.21 L79.19,642.24 L79.77,642.28 L80.35,642.31 L80.93,642.34 L81.51,642.38 L82.09,642.41 L82.67,642.45 L83.26,642.48 L83.84,642.52 L84.42,642.55 L85.00,642.59 L85.58,642.63 L86.16,642.66 L86.74,642.70 L87.33,642.74 L87.91,642.78 L88.49,642.81 L89.07,642.85 L89.65,642.89 L90.23,642.93 L90.81,642.97 L91.39,643.01 L91.98,643.05 L92.56,643.09 L93.14,643.13 L93.72,643.17 L94.30,643.21 L94.88,643.26 L95.46,643.30 L96.04,643.35 L96.62,643.39 L97.21,643.44 L97.79,643.49 L98.37,643.54 L98.95,643.59 L99.53,643.65 L100.11,643.71 L100.69,643.77 L101.28,643.83 L101.86,643.90 L102.44,643.98 L103.02,644.05 L103.60,644.13 L104.18,644.21 L104.76,644.30 L105.34,644.38 L105.92,644.47 L106.51,644.56 L107.09,644.65 L107.67,644.73 L108.25,644.82 L108.83,644.91 L109.41,645.00 L109.99,645.08 L110.58,645.17 L111.16,645.25 L111.74,645.33 L112.32,645.41 L112.90,645.50 L113.48,645.58 L114.06,645.67 L114.64,645.75 L115.23,645.84 L115.81,645.92 L116.39,646.01 L116.97,646.10 L117.55,646.20 L118.13,646.29 L118.71,646.39 L119.29,646.49 L119.88,646.60 L120.46,646.70 L121.04,646.82 L121.62,646.93 L122.20,647.06 L122.78,647.18 L123.36,647.31 L123.94,647.44 L124.53,647.57 L125.11,647.71 L125.69,647.85 L126.27,647.98 L126.85,648.12 L127.43,648.26 L128.01,648.40 L128.59,648.54 L129.18,648.68 L129.76,648.81 L130.34,648.94 L130.92,649.08 L131.50,649.21 L132.08,649.34 L132.66,649.47 L133.24,649.60 L133.82,649.73 L134.41,649.86 L134.99,649.98 L135.57,650.10 L136.15,650.22 L136.73,650.34 L137.31,650.44 L137.89,650.55 L138.47,650.64 L139.06,650.72 L139.64,650.79 L140.22,650.85 L140.80,650.89 L141.38,650.90 L141.96,650.90 L142.54,650.87 L143.12,650.81 L143.71,650.72 L144.29,650.60 L144.87,650.45 L145.45,650.27 L146.03,650.05 L146.61,649.80 L147.19,649.52 L147.78,649.22 L148.36,648.88 L148.94,648.52 L149.52,648.14 L150.10,647.75 L150.68,647.33 L151.26,646.91 L151.84,646.48 L152.43,646.04 L153.01,645.60 L153.59,645.16 L154.17,644.72 L154.75,644.28 L155.33,643.85 L155.91,643.43 L156.49,643.01 L157.07,642.60 L157.66,642.20 L158.24,641.82 L158.82,641.44 L159.40,641.07 L159.98,640.71 L160.56,640.37 L161.14,640.04 L161.73,639.72 L162.31,639.41 L162.89,639.11 L163.47,638.83 L164.05,638.55 L164.63,638.29 L165.21,638.04 L165.79,637.80 L166.38,637.58 L166.96,637.36 L167.54,637.15 L168.12,636.96 L168.70,636.77 L169.28,636.60 L169.86,636.43 L170.44,636.28 L171.03,636.13 L171.61,635.99 L172.19,635.87 L172.77,635.75 L173.35,635.64 L173.93,635.53 L174.51,635.44 L175.09,635.35 L175.68,635.27 L176.26,635.20 L176.84,635.14 L177.42,635.08 L178.00,635.03 L178.58,634.99 L179.16,634.95 L179.74,634.92 L180.32,634.90 L180.91,634.88 L181.49,634.87 L182.07,634.86 L182.65,634.86 L182.70,634.86 L183.23,634.87 L183.81,634.88 L184.39,634.89 L184.98,634.91 L185.56,634.93 L186.14,634.96 L186.72,634.99 L187.30,635.03 L187.88,635.07 L188.46,635.12 L189.04,635.17 L189.62,635.23 L190.21,635.28 L190.79,635.35 L191.37,635.41 L191.95,635.48 L192.53,635.55 L193.11,635.63 L193.69,635.71 L194.28,635.79 L194.86,635.88 L195.44,635.97 L196.02,636.06 L196.60,636.16 L197.18,636.25 L197.76,636.35 L198.34,636.46 L198.93,636.56 L199.51,636.67 L200.09,636.78 L200.67,636.89 L201.25,637.01 L201.83,637.13 L202.41,637.25 L202.99,637.37 L203.57,637.49 L204.16,637.62 L204.74,637.74 L205.32,637.87 L205.90,638.00 L206.48,638.14 L207.06,638.27 L207.64,638.41 L208.23,638.54 L208.81,638.68 L209.39,638.82 L209.97,638.97 L210.55,639.11 L211.13,639.26 L211.71,639.40 L212.29,639.55 L212.88,639.70 L213.46,639.85 L214.04,640.00 L214.62,640.15 L215.20,640.31 L215.78,640.46 L216.36,640.62 L216.94,640.77 L217.53,640.93 L218.11,641.09 L218.69,641.25 L219.27,641.41 L219.85,641.57 L220.43,641.74 L221.01,641.90 L221.59,642.07 L222.18,642.23 L222.76,642.40 L223.34,642.56 L223.92,642.73 L224.50,642.90 L225.08,643.07 L225.66,643.24 L226.24,643.41 L226.82,643.58 L227.41,643.75 L227.99,643.92 L228.57,644.09 L229.15,644.27 L229.73,644.44 L230.31,644.62 L230.89,644.79 L231.48,644.97 L232.06,645.14 L232.64,645.32 L233.22,645.50 L233.80,645.67 L234.38,645.85 L234.96,646.03 L235.54,646.21 L236.12,646.39 L236.71,646.57 L237.29,646.75 L237.87,646.93 L238.45,647.11 L239.03,647.29 L239.61,647.47 L240.19,647.65 L240.77,647.83 L241.36,648.01 L241.94,648.20 L242.52,648.38 L243.10,648.56 L243.68,648.74 L244.26,648.93 L244.84,649.11 L245.43,649.30 L246.01,649.48 L246.59,649.66 L247.17,649.85 L247.75,650.03 L248.33,650.22 L248.91,650.41 L249.49,650.59 L250.07,650.78 L250.66,650.96 L251.24,651.15 L251.82,651.34 L252.40,651.52 L252.98,651.71 L253.56,651.90 L254.14,652.08 L254.73,652.27 L255.31,652.46 L255.89,652.65 L256.47,652.83 L257.05,653.02 L257.63,653.21 L258.21,653.40 L258.79,653.59 L259.38,653.77 L259.96,653.96 L260.54,654.15 L261.12,654.34 L261.70,654.53 L262.28,654.72 L262.86,654.91 L263.44,655.10 L264.02,655.29 L264.61,655.48 L265.19,655.66 L265.77,655.85 L266.35,656.04 L266.93,656.23 L267.51,656.42 L268.09,656.61 L268.68,656.80 L269.26,656.99 L269.84,657.18 L270.42,657.37 L271.00,657.56 L271.58,657.76 L272.16,657.95 L272.74,658.14 L273.32,658.33 L273.91,658.52 L274.49,658.71 L275.07,658.90 L275.65,659.09 L276.23,659.28 L276.81,659.47 L277.39,659.66 L277.98,659.85 L278.56,660.04 L279.14,660.24 L279.72,660.43 L280.30,660.62 L280.88,660.81 L281.46,661.00 L282.04,661.19 L282.62,661.38 L283.21,661.58 L283.79,661.77 L284.37,661.96 L284.95,662.15 L285.53,662.34 L286.11,662.53 L286.69,662.72 L287.27,662.92 L287.86,663.11 L288.44,663.30 L289.02,663.49 L289.60,663.68 L290.18,663.88 L290.76,664.07 L291.34,664.26 L291.93,664.45 L292.51,664.64 L293.09,664.84 L293.67,665.03 L294.25,665.22 L294.83,665.41 L295.41,665.60 L295.99,665.80 L296.57,665.99 L297.16,666.18 L297.74,666.37 L298.32,666.56 L298.90,666.76 L299.48,666.95 L300.06,667.14 L300.64,667.33 L301.23,667.53 L301.81,667.72 L302.39,667.91 L302.97,668.10 L303.55,668.29 L304.13,668.49 L304.71,668.68 L305.29,668.87 L305.88,669.06 L306.46,669.26 L307.04,669.45 L307.62,669.64 L308.20,669.83 L308.78,670.03 L309.36,670.22 L309.94,670.41 L310.53,670.60 L311.11,670.80 L311.69,670.99 L312.27,671.18 L312.85,671.37 L313.43,671.57 L314.01,671.76 L314.59,671.95 L315.18,672.14 L315.76,672.34 L316.34,672.53 L316.92,672.72 L317.50,672.91 L318.08,673.11 L318.66,673.30 L319.24,673.49 L319.82,673.68 L320.41,673.88 L320.99,674.07 L321.57,674.26 L322.15,674.45 L322.73,674.65 L323.31,674.84 L323.89,675.03 L324.48,675.22 L325.06,675.42 L325.64,675.61 L326.22,675.80 L326.80,676.00 L327.38,676.19 L327.96,676.38 L328.54,676.57 L329.12,676.77 L329.71,676.96 L330.29,677.15 L330.87,677.34 L331.45,677.54 L332.03,677.73 L332.61,677.92 L333.19,678.11 L333.78,678.31 L334.36,678.50 L334.94,678.69 L335.52,678.89 L336.10,679.08 L336.68,679.27 L337.26,679.46 L337.84,679.66 L338.43,679.85 L339.01,680.04 L339.59,680.23 L340.17,680.43 L340.75,680.62 L341.33,680.81 L341.91,681.01 L342.49,681.20 L343.07,681.39 L343.66,681.58 L344.24,681.78 L344.82,681.97 L345.40,682.16 L345.98,682.36 L346.56,682.55 L347.14,682.74 L347.73,682.93 L348.31,683.13 L348.89,683.32 L349.47,683.51 L350.05,683.70 L350.63,683.90 L351.21,684.09 L351.79,684.28 L352.38,684.48 L352.96,684.67 L353.54,684.86 L354.12,685.05 L354.70,685.25" stroke="#000" stroke-width="1.63" stroke-dasharray="6.03 2.61"/>
<path d="M182.70,618.00V803.10" stroke="#000" stroke-width="0.85" stroke-dasharray="5.4 1.36 0.85 1.36"/>
</g>
<rect x="178.05" y="739.50" width="171.1" height="57.3" rx="2.3" fill="#fff" fill-opacity="0.8" stroke="#cccccc" stroke-width="1.1"/>
<path d="M182.61,749.00H205.41" stroke="#0472b6" stroke-width="3.3" stroke-linecap="square"/>
<path d="M182.61,767.70H205.41" stroke="#00cbd6" stroke-width="3.3" stroke-linecap="square"/>
<path d="M182.61,786.00H205.41" stroke="#000" stroke-width="1.63" stroke-dasharray="6.03 2.61"/>
<g fill="#000" stroke="#000" stroke-width="0.12"><text transform="translate(214.82,753.40) scale(1.033,1.007)" font-size="11.40" font-style="italic">K</text><text transform="translate(222.77,755.18) scale(1.007,1.007)" font-size="7.98">1</text><text transform="translate(230.02,753.03) scale(1.082,1.097)" font-size="11.40">·</text><text transform="translate(236.53,753.40) scale(1.241,0.996)" font-size="11.40" font-style="italic">f</text><text transform="translate(240.59,755.18) scale(1.007,1.007)" font-size="7.98">1</text><text transform="translate(246.20,752.68) scale(0.845,0.908)" font-size="11.40">(</text><text transform="translate(250.83,753.40) scale(0.988,0.983)" font-size="11.40" font-style="italic">ν</text><text transform="translate(257.71,752.68) scale(0.845,0.908)" font-size="11.40">)</text><text transform="translate(214.82,772.10) scale(1.033,1.007)" font-size="11.40" font-style="italic">K</text><text transform="translate(222.68,773.88) scale(1.016,1.010)" font-size="7.98">2</text><text transform="translate(228.38,771.38) scale(0.845,0.908)" font-size="11.40">(</text><text transform="translate(233.01,772.10) scale(0.988,0.983)" font-size="11.40" font-style="italic">ν</text><text transform="translate(242.00,767.24) scale(1.232,1.234)" font-size="6.38">*</text><text transform="translate(247.97,771.38) scale(0.845,0.908)" font-size="11.40">)</text><text transform="translate(253.67,771.73) scale(1.082,1.097)" font-size="11.40">·</text><text transform="translate(260.17,772.10) scale(1.241,0.996)" font-size="11.40" font-style="italic">f</text><text transform="translate(264.15,773.88) scale(1.016,1.010)" font-size="7.98">2</text><text transform="translate(269.85,771.38) scale(0.845,0.908)" font-size="11.40">(</text><text transform="translate(274.48,772.10) scale(0.988,0.983)" font-size="11.40" font-style="italic">ν</text><text transform="translate(281.35,771.38) scale(0.845,0.908)" font-size="11.40">)</text><text transform="translate(214.82,790.40) scale(1.033,1.007)" font-size="11.40" font-style="italic">K</text><text transform="translate(222.77,792.18) scale(1.007,1.007)" font-size="7.98">1</text><text transform="translate(230.02,790.03) scale(1.082,1.097)" font-size="11.40">·</text><text transform="translate(236.53,790.40) scale(1.241,0.996)" font-size="11.40" font-style="italic">f</text><text transform="translate(240.59,792.18) scale(1.007,1.007)" font-size="7.98">1</text><text transform="translate(246.20,789.68) scale(0.845,0.908)" font-size="11.40">(</text><text transform="translate(250.83,790.40) scale(0.988,0.983)" font-size="11.40" font-style="italic">ν</text><text transform="translate(257.71,789.68) scale(0.845,0.908)" font-size="11.40">)</text><text transform="translate(264.14,791.62) scale(1.288,1.217)" font-size="11.40">+</text><text transform="translate(275.61,790.40) scale(1.033,1.007)" font-size="11.40" font-style="italic">K</text><text transform="translate(283.46,792.18) scale(1.016,1.010)" font-size="7.98">2</text><text transform="translate(289.17,789.68) scale(0.845,0.908)" font-size="11.40">(</text><text transform="translate(293.79,790.40) scale(0.988,0.983)" font-size="11.40" font-style="italic">ν</text><text transform="translate(302.78,785.54) scale(1.232,1.234)" font-size="6.38">*</text><text transform="translate(308.75,789.68) scale(0.845,0.908)" font-size="11.40">)</text><text transform="translate(314.45,790.03) scale(1.082,1.097)" font-size="11.40">·</text><text transform="translate(320.95,790.40) scale(1.241,0.996)" font-size="11.40" font-style="italic">f</text><text transform="translate(324.93,792.18) scale(1.016,1.010)" font-size="7.98">2</text><text transform="translate(330.63,789.68) scale(0.845,0.908)" font-size="11.40">(</text><text transform="translate(335.26,790.40) scale(0.988,0.983)" font-size="11.40" font-style="italic">ν</text><text transform="translate(342.14,789.68) scale(0.845,0.908)" font-size="11.40">)</text></g>
<rect x="75.7" y="618.0" width="279.0" height="185.1" fill="none" stroke="#000" stroke-width="1.3"/>
<path d="M75.70,803.10v5.8 M168.70,803.10v5.8 M261.70,803.10v5.8 M354.70,803.10v5.8 M75.70,803.10h-5.8 M75.70,772.25h-5.8 M75.70,741.40h-5.8 M75.70,710.55h-5.8 M75.70,679.70h-5.8 M75.70,648.85h-5.8 M75.70,618.00h-5.8" stroke="#000" stroke-width="1.3" fill="none"/>
<path d="M103.70,803.10v3.3 M120.07,803.10v3.3 M131.69,803.10v3.3 M140.70,803.10v3.3 M148.07,803.10v3.3 M154.29,803.10v3.3 M159.69,803.10v3.3 M164.44,803.10v3.3 M196.70,803.10v3.3 M213.07,803.10v3.3 M224.69,803.10v3.3 M233.70,803.10v3.3 M241.07,803.10v3.3 M247.29,803.10v3.3 M252.69,803.10v3.3 M257.44,803.10v3.3 M289.70,803.10v3.3 M306.07,803.10v3.3 M317.69,803.10v3.3 M326.70,803.10v3.3 M334.07,803.10v3.3 M340.29,803.10v3.3 M345.69,803.10v3.3 M350.44,803.10v3.3" stroke="#000" stroke-width="1.0" fill="none"/>
<g fill="#000" stroke="#000" stroke-width="0.15"><text transform="translate(27.14,809.10) scale(1.007,1.007)" font-size="16.60">1</text><text transform="translate(37.56,809.16) scale(1.054,1.015)" font-size="16.60">0</text><text transform="translate(48.36,803.81) scale(1.288,1.106)" font-size="11.62">−</text><text transform="translate(57.95,803.00) scale(1.031,1.007)" font-size="11.62">7</text><text transform="translate(27.14,778.25) scale(1.007,1.007)" font-size="16.60">1</text><text transform="translate(37.56,778.31) scale(1.054,1.015)" font-size="16.60">0</text><text transform="translate(48.36,772.96) scale(1.288,1.106)" font-size="11.62">−</text><text transform="translate(58.04,772.19) scale(0.995,1.012)" font-size="11.62">5</text><text transform="translate(27.14,747.40) scale(1.007,1.007)" font-size="16.60">1</text><text transform="translate(37.56,747.46) scale(1.054,1.015)" font-size="16.60">0</text><text transform="translate(48.36,742.11) scale(1.288,1.106)" font-size="11.62">−</text><text transform="translate(58.04,741.34) scale(1.012,1.015)" font-size="11.62">3</text><text transform="translate(27.14,716.55) scale(1.007,1.007)" font-size="16.60">1</text><text transform="translate(37.56,716.61) scale(1.054,1.015)" font-size="16.60">0</text><text transform="translate(48.36,711.26) scale(1.288,1.106)" font-size="11.62">−</text><text transform="translate(57.99,710.45) scale(1.007,1.007)" font-size="11.62">1</text><text transform="translate(36.88,685.70) scale(1.007,1.007)" font-size="16.60">1</text><text transform="translate(47.29,685.76) scale(1.054,1.015)" font-size="16.60">0</text><text transform="translate(57.99,679.60) scale(1.007,1.007)" font-size="11.62">1</text><text transform="translate(36.88,654.85) scale(1.007,1.007)" font-size="16.60">1</text><text transform="translate(47.29,654.91) scale(1.054,1.015)" font-size="16.60">0</text><text transform="translate(58.04,648.79) scale(1.012,1.015)" font-size="11.62">3</text><text transform="translate(36.88,624.00) scale(1.007,1.007)" font-size="16.60">1</text><text transform="translate(47.29,624.06) scale(1.054,1.015)" font-size="16.60">0</text><text transform="translate(58.04,617.94) scale(0.995,1.012)" font-size="11.62">5</text><text transform="translate(57.45,827.20) scale(1.007,1.007)" font-size="16.60">1</text><text transform="translate(67.86,827.26) scale(1.054,1.015)" font-size="16.60">0</text><text transform="translate(78.67,821.91) scale(1.288,1.106)" font-size="11.62">−</text><text transform="translate(88.30,821.10) scale(1.007,1.007)" font-size="11.62">1</text><text transform="translate(155.31,827.20) scale(1.007,1.007)" font-size="16.60">1</text><text transform="translate(165.73,827.26) scale(1.054,1.015)" font-size="16.60">0</text><text transform="translate(176.33,821.14) scale(1.054,1.015)" font-size="11.62">0</text><text transform="translate(248.31,827.20) scale(1.007,1.007)" font-size="16.60">1</text><text transform="translate(258.73,827.26) scale(1.054,1.015)" font-size="16.60">0</text><text transform="translate(269.43,821.10) scale(1.007,1.007)" font-size="11.62">1</text><text transform="translate(341.31,827.20) scale(1.007,1.007)" font-size="16.60">1</text><text transform="translate(351.73,827.26) scale(1.054,1.015)" font-size="16.60">0</text><text transform="translate(362.30,821.10) scale(1.016,1.010)" font-size="11.62">2</text><text transform="translate(107.25,609.23) scale(1.073,1.050)" font-size="19.50" font-style="italic">ε</text><text transform="translate(122.31,608.67) scale(1.288,0.876)" font-size="19.50">=</text><text transform="translate(142.00,609.22) scale(1.054,1.068)" font-size="19.50">0</text><text transform="translate(154.08,609.15) scale(1.082,1.160)" font-size="19.50">.</text><text transform="translate(160.60,609.22) scale(1.054,1.068)" font-size="19.50">0</text><text transform="translate(173.01,609.22) scale(1.054,1.068)" font-size="19.50">0</text><text transform="translate(185.66,609.22) scale(0.995,1.065)" font-size="19.50">5</text><text transform="translate(196.29,608.86) scale(1.458,1.023)" font-size="19.50">,</text><text transform="translate(211.32,609.23) scale(1.025,1.051)" font-size="19.50" font-style="italic">s</text><text transform="translate(226.04,608.67) scale(1.288,0.876)" font-size="19.50">=</text><text transform="translate(250.56,610.59) scale(1.288,1.164)" font-size="19.50">−</text><text transform="translate(271.40,609.15) scale(1.007,1.060)" font-size="19.50">1</text><text transform="translate(283.32,609.15) scale(1.082,1.160)" font-size="19.50">.</text><text transform="translate(289.78,609.22) scale(1.066,1.068)" font-size="19.50">8</text><text transform="translate(302.05,609.22) scale(1.091,1.068)" font-size="19.50">6</text></g>
<g fill="#000"><text transform="translate(136.14,850.50) scale(1.091,1.038)" font-size="16.60">T</text><text transform="translate(146.84,850.50) scale(1.281,1.020)" font-size="16.60">r</text><text transform="translate(153.81,850.56) scale(1.078,1.046)" font-size="16.60">u</text><text transform="translate(164.40,850.50) scale(1.078,1.020)" font-size="16.60">n</text><text transform="translate(174.81,850.56) scale(1.003,1.027)" font-size="16.60">c</text><text transform="translate(184.10,850.56) scale(0.899,1.027)" font-size="16.60">a</text><text transform="translate(194.02,850.36) scale(1.337,1.052)" font-size="16.60">t</text><text transform="translate(200.84,850.50) scale(1.022,1.028)" font-size="16.60">i</text><text transform="translate(205.20,850.56) scale(1.063,1.027)" font-size="16.60">o</text><text transform="translate(215.50,850.50) scale(1.078,1.020)" font-size="16.60">n</text><text transform="translate(231.05,850.50) scale(1.313,1.029)" font-size="16.60">f</text><text transform="translate(237.19,850.56) scale(0.899,1.027)" font-size="16.60">a</text><text transform="translate(247.20,850.56) scale(1.003,1.027)" font-size="16.60">c</text><text transform="translate(256.23,850.36) scale(1.337,1.052)" font-size="16.60">t</text><text transform="translate(262.81,850.56) scale(1.063,1.027)" font-size="16.60">o</text><text transform="translate(272.88,850.50) scale(1.281,1.020)" font-size="16.60">r</text><text transform="translate(285.58,850.50) scale(0.988,1.014)" font-size="16.60" font-style="italic">ν</text></g>
<g fill="#1c1c1c" stroke="#1c1c1c" stroke-width="0.45"><text transform="translate(6.38,591.52) scale(0.796,0.94)" font-size="23.15" font-weight="bold">(</text><text transform="translate(14.13,591.88) scale(0.957,1.0)" font-size="23.15" font-weight="bold">e</text><text transform="translate(28.18,591.52) scale(0.796,0.94)" font-size="23.15" font-weight="bold">)</text></g>
<clipPath id="clipf"><rect x="453.65" y="618.0" width="279.0" height="185.1"/></clipPath>
<path d="M453.65,618.00V803.10 M546.65,618.00V803.10 M639.65,618.00V803.10 M732.65,618.00V803.10 M453.65,803.10H732.65 M453.65,772.25H732.65 M453.65,741.40H732.65 M453.65,710.55H732.65 M453.65,679.70H732.65 M453.65,648.85H732.65 M453.65,618.00H732.65" stroke="#b0b0b0" stroke-width="1.2" fill="none"/>
<g clip-path="url(#clipf)" fill="none">
<path d="M490.27,823.42 L490.85,817.41 L491.43,811.58 L492.01,805.92 L492.59,800.43 L493.17,795.09 L493.76,789.92 L494.34,784.89 L494.92,780.01 L495.50,775.28 L496.08,770.69 L496.66,766.23 L497.24,761.91 L497.82,757.71 L498.41,753.64 L498.99,749.69 L499.57,745.85 L500.15,742.13 L500.73,738.53 L501.31,735.02 L501.89,731.63 L502.47,728.33 L503.06,725.14 L503.64,722.04 L504.22,719.04 L504.80,716.12 L505.38,713.29 L505.96,710.55 L506.54,707.89 L507.12,705.32 L507.71,702.82 L508.29,700.40 L508.87,698.05 L509.45,695.77 L510.03,693.57 L510.61,691.43 L511.19,689.36 L511.77,687.35 L512.36,685.41 L512.94,683.52 L513.52,681.70 L514.10,679.93 L514.68,678.22 L515.26,676.56 L515.84,674.95 L516.42,673.40 L517.01,671.89 L517.59,670.44 L518.17,669.03 L518.75,667.66 L519.33,666.34 L519.91,665.06 L520.49,663.83 L521.08,662.63 L521.66,661.48 L522.24,660.36 L522.82,659.28 L523.40,658.23 L523.98,657.23 L524.56,656.25 L525.14,655.31 L525.73,654.40 L526.31,653.52 L526.89,652.67 L527.47,651.85 L528.05,651.06 L528.63,650.30 L529.21,649.57 L529.79,648.86 L530.38,648.17 L530.96,647.52 L531.54,646.88 L532.12,646.27 L532.70,645.68 L533.28,645.12 L533.86,644.57 L534.44,644.05 L535.02,643.55 L535.61,643.06 L536.19,642.60 L536.77,642.16 L537.35,641.73 L537.93,641.32 L538.51,640.93 L539.09,640.55 L539.67,640.19 L540.26,639.85 L540.84,639.52 L541.42,639.20 L542.00,638.90 L542.58,638.62 L543.16,638.35 L543.74,638.09 L544.32,637.84 L544.91,637.61 L545.49,637.39 L546.07,637.18 L546.65,636.98 L547.23,636.79 L547.81,636.61 L548.39,636.45 L548.98,636.29 L549.56,636.15 L550.14,636.01 L550.72,635.88 L551.30,635.76 L551.88,635.65 L552.46,635.55 L553.04,635.46 L553.62,635.38 L554.21,635.30 L554.79,635.23 L555.37,635.17 L555.95,635.12 L556.53,635.07 L557.11,635.03 L557.69,635.00 L558.27,634.97 L558.86,634.95 L559.44,634.93 L560.02,634.92 L560.60,634.92 L560.65,634.92 L561.18,634.92 L561.76,634.93 L562.34,634.94 L562.92,634.96 L563.51,634.99 L564.09,635.01 L564.67,635.05 L565.25,635.08 L565.83,635.12 L566.41,635.17 L566.99,635.22 L567.58,635.27 L568.16,635.33 L568.74,635.39 L569.32,635.46 L569.90,635.53 L570.48,635.60 L571.06,635.68 L571.64,635.76 L572.23,635.84 L572.81,635.92 L573.39,636.01 L573.97,636.10 L574.55,636.20 L575.13,636.30 L575.71,636.40 L576.29,636.50 L576.88,636.60 L577.46,636.71 L578.04,636.82 L578.62,636.93 L579.20,637.05 L579.78,637.17 L580.36,637.29 L580.94,637.41 L581.52,637.53 L582.11,637.66 L582.69,637.78 L583.27,637.91 L583.85,638.04 L584.43,638.17 L585.01,638.31 L585.59,638.45 L586.17,638.58 L586.76,638.72 L587.34,638.86 L587.92,639.00 L588.50,639.15 L589.08,639.29 L589.66,639.44 L590.24,639.59 L590.83,639.74 L591.41,639.89 L591.99,640.04 L592.57,640.19 L593.15,640.34 L593.73,640.50 L594.31,640.65 L594.89,640.81 L595.48,640.97 L596.06,641.13 L596.64,641.29 L597.22,641.45 L597.80,641.61 L598.38,641.77 L598.96,641.94 L599.54,642.10 L600.12,642.27 L600.71,642.43 L601.29,642.60 L601.87,642.77 L602.45,642.93 L603.03,643.10 L603.61,643.27 L604.19,643.44 L604.77,643.61 L605.36,643.78 L605.94,643.96 L606.52,644.13 L607.10,644.30 L607.68,644.48 L608.26,644.65 L608.84,644.83 L609.42,645.00 L610.01,645.18 L610.59,645.35 L611.17,645.53 L611.75,645.71 L612.33,645.88 L612.91,646.06 L613.49,646.24 L614.08,646.42 L614.66,646.60 L615.24,646.78 L615.82,646.96 L616.40,647.14 L616.98,647.32 L617.56,647.50 L618.14,647.68 L618.72,647.87 L619.31,648.05 L619.89,648.23 L620.47,648.41 L621.05,648.60 L621.63,648.78 L622.21,648.96 L622.79,649.15 L623.38,649.33 L623.96,649.51 L624.54,649.70 L625.12,649.88 L625.70,650.07 L626.28,650.25 L626.86,650.44 L627.44,650.62 L628.02,650.81 L628.61,651.00 L629.19,651.18 L629.77,651.37 L630.35,651.56 L630.93,651.74 L631.51,651.93 L632.09,652.12 L632.67,652.30 L633.26,652.49 L633.84,652.68 L634.42,652.87 L635.00,653.06 L635.58,653.24 L636.16,653.43 L636.74,653.62 L637.33,653.81 L637.91,654.00 L638.49,654.19 L639.07,654.37 L639.65,654.56 L640.23,654.75 L640.81,654.94 L641.39,655.13 L641.97,655.32 L642.56,655.51 L643.14,655.70 L643.72,655.89 L644.30,656.08 L644.88,656.27 L645.46,656.46 L646.04,656.65 L646.62,656.84 L647.21,657.03 L647.79,657.22 L648.37,657.41 L648.95,657.60 L649.53,657.79 L650.11,657.98 L650.69,658.17 L651.27,658.36 L651.86,658.55 L652.44,658.74 L653.02,658.93 L653.60,659.12 L654.18,659.31 L654.76,659.51 L655.34,659.70 L655.92,659.89 L656.51,660.08 L657.09,660.27 L657.67,660.46 L658.25,660.65 L658.83,660.84 L659.41,661.03 L659.99,661.23 L660.58,661.42 L661.16,661.61 L661.74,661.80 L662.32,661.99 L662.90,662.18 L663.48,662.38 L664.06,662.57 L664.64,662.76 L665.22,662.95 L665.81,663.14 L666.39,663.33 L666.97,663.53 L667.55,663.72 L668.13,663.91 L668.71,664.10 L669.29,664.29 L669.88,664.49 L670.46,664.68 L671.04,664.87 L671.62,665.06 L672.20,665.25 L672.78,665.45 L673.36,665.64 L673.94,665.83 L674.52,666.02 L675.11,666.21 L675.69,666.41 L676.27,666.60 L676.85,666.79 L677.43,666.98 L678.01,667.17 L678.59,667.37 L679.17,667.56 L679.76,667.75 L680.34,667.94 L680.92,668.14 L681.50,668.33 L682.08,668.52 L682.66,668.71 L683.24,668.91 L683.83,669.10 L684.41,669.29 L684.99,669.48 L685.57,669.67 L686.15,669.87 L686.73,670.06 L687.31,670.25 L687.89,670.44 L688.48,670.64 L689.06,670.83 L689.64,671.02 L690.22,671.21 L690.80,671.41 L691.38,671.60 L691.96,671.79 L692.54,671.98 L693.12,672.18 L693.71,672.37 L694.29,672.56 L694.87,672.75 L695.45,672.95 L696.03,673.14 L696.61,673.33 L697.19,673.53 L697.77,673.72 L698.36,673.91 L698.94,674.10 L699.52,674.30 L700.10,674.49 L700.68,674.68 L701.26,674.87 L701.84,675.07 L702.42,675.26 L703.01,675.45 L703.59,675.64 L704.17,675.84 L704.75,676.03 L705.33,676.22 L705.91,676.41 L706.49,676.61 L707.08,676.80 L707.66,676.99 L708.24,677.19 L708.82,677.38 L709.40,677.57 L709.98,677.76 L710.56,677.96 L711.14,678.15 L711.73,678.34 L712.31,678.53 L712.89,678.73 L713.47,678.92 L714.05,679.11 L714.63,679.30 L715.21,679.50 L715.79,679.69 L716.38,679.88 L716.96,680.08 L717.54,680.27 L718.12,680.46 L718.70,680.65 L719.28,680.85 L719.86,681.04 L720.44,681.23 L721.02,681.42 L721.61,681.62 L722.19,681.81 L722.77,682.00 L723.35,682.20 L723.93,682.39 L724.51,682.58 L725.09,682.77 L725.67,682.97 L726.26,683.16 L726.84,683.35 L727.42,683.55 L728.00,683.74 L728.58,683.93 L729.16,684.12 L729.74,684.32 L730.33,684.51 L730.91,684.70 L731.49,684.89 L732.07,685.09 L732.65,685.28" stroke="#0472b6" stroke-width="3.3" stroke-linejoin="round"/>
<path d="M453.65,637.59 L454.23,637.55 L454.81,637.51 L455.39,637.47 L455.97,637.43 L456.56,637.39 L457.14,637.35 L457.72,637.31 L458.30,637.27 L458.88,637.24 L459.46,637.20 L460.04,637.17 L460.62,637.13 L461.21,637.10 L461.79,637.07 L462.37,637.03 L462.95,637.00 L463.53,636.97 L464.11,636.94 L464.69,636.91 L465.27,636.88 L465.86,636.85 L466.44,636.83 L467.02,636.80 L467.60,636.77 L468.18,636.75 L468.76,636.73 L469.34,636.70 L469.92,636.68 L470.51,636.66 L471.09,636.64 L471.67,636.62 L472.25,636.59 L472.83,636.57 L473.41,636.55 L473.99,636.53 L474.57,636.51 L475.16,636.49 L475.74,636.47 L476.32,636.45 L476.90,636.43 L477.48,636.41 L478.06,636.40 L478.64,636.39 L479.22,636.38 L479.81,636.37 L480.39,636.36 L480.97,636.36 L481.55,636.36 L482.13,636.36 L482.71,636.36 L483.29,636.36 L483.88,636.37 L484.46,636.37 L485.04,636.38 L485.62,636.39 L486.20,636.40 L486.78,636.41 L487.36,636.42 L487.94,636.44 L488.52,636.45 L489.11,636.46 L489.69,636.48 L490.27,636.49 L490.85,636.51 L491.43,636.53 L492.01,636.56 L492.59,636.59 L493.17,636.62 L493.76,636.66 L494.34,636.71 L494.92,636.76 L495.50,636.81 L496.08,636.87 L496.66,636.92 L497.24,636.98 L497.82,637.04 L498.41,637.10 L498.99,637.16 L499.57,637.22 L500.15,637.28 L500.73,637.34 L501.31,637.40 L501.89,637.46 L502.47,637.52 L503.06,637.59 L503.64,637.65 L504.22,637.72 L504.80,637.78 L505.38,637.85 L505.96,637.92 L506.54,637.99 L507.12,638.06 L507.71,638.14 L508.29,638.21 L508.87,638.29 L509.45,638.36 L510.03,638.44 L510.61,638.52 L511.19,638.60 L511.77,638.68 L512.36,638.76 L512.94,638.84 L513.52,638.92 L514.10,639.01 L514.68,639.09 L515.26,639.18 L515.84,639.26 L516.42,639.35 L517.01,639.44 L517.59,639.52 L518.17,639.61 L518.75,639.70 L519.33,639.79 L519.91,639.88 L520.49,639.97 L521.08,640.07 L521.66,640.16 L522.24,640.25 L522.82,640.35 L523.40,640.45 L523.98,640.55 L524.56,640.65 L525.14,640.75 L525.73,640.86 L526.31,640.97 L526.89,641.08 L527.47,641.20 L528.05,641.31 L528.63,641.43 L529.21,641.56 L529.79,641.69 L530.38,641.82 L530.96,641.96 L531.54,642.10 L532.12,642.25 L532.70,642.40 L533.28,642.56 L533.86,642.72 L534.44,642.89 L535.02,643.06 L535.61,643.24 L536.19,643.42 L536.77,643.60 L537.35,643.79 L537.93,643.98 L538.51,644.17 L539.09,644.36 L539.67,644.56 L540.26,644.76 L540.84,644.96 L541.42,645.17 L542.00,645.39 L542.58,645.61 L543.16,645.84 L543.74,646.07 L544.32,646.31 L544.91,646.55 L545.49,646.80 L546.07,647.05 L546.65,647.31 L547.23,647.57 L547.81,647.83 L548.39,648.10 L548.98,648.37 L549.56,648.65 L550.14,648.93 L550.72,649.21 L551.30,649.50 L551.88,649.79 L552.46,650.09 L553.04,650.39 L553.62,650.70 L554.21,651.00 L554.79,651.32 L555.37,651.63 L555.95,651.95 L556.53,652.28 L557.11,652.61 L557.69,652.94 L558.27,653.28 L558.86,653.63 L559.44,653.97 L560.02,654.33 L560.60,654.68 L560.65,654.71 L561.18,654.82 L561.76,654.94 L562.34,655.06 L562.92,655.18 L563.51,655.30 L564.09,655.43 L564.67,655.56 L565.25,655.68 L565.83,655.81 L566.41,655.95 L566.99,656.08 L567.58,656.21 L568.16,656.35 L568.74,656.49 L569.32,656.63 L569.90,656.77 L570.48,656.91 L571.06,657.05 L571.64,657.20 L572.23,657.34 L572.81,657.49 L573.39,657.64 L573.97,657.78 L574.55,657.93 L575.13,658.09 L575.71,658.24 L576.29,658.39 L576.88,658.54 L577.46,658.70 L578.04,658.86 L578.62,659.01 L579.20,659.17 L579.78,659.33 L580.36,659.49 L580.94,659.65 L581.52,659.81 L582.11,659.97 L582.69,660.13 L583.27,660.30 L583.85,660.46 L584.43,660.63 L585.01,660.79 L585.59,660.96 L586.17,661.12 L586.76,661.29 L587.34,661.46 L587.92,661.63 L588.50,661.80 L589.08,661.97 L589.66,662.14 L590.24,662.31 L590.83,662.48 L591.41,662.65 L591.99,662.82 L592.57,663.00 L593.15,663.17 L593.73,663.34 L594.31,663.52 L594.89,663.69 L595.48,663.87 L596.06,664.04 L596.64,664.22 L597.22,664.40 L597.80,664.57 L598.38,664.75 L598.96,664.93 L599.54,665.11 L600.12,665.29 L600.71,665.47 L601.29,665.64 L601.87,665.82 L602.45,666.00 L603.03,666.18 L603.61,666.36 L604.19,666.55 L604.77,666.73 L605.36,666.91 L605.94,667.09 L606.52,667.27 L607.10,667.45 L607.68,667.64 L608.26,667.82 L608.84,668.00 L609.42,668.19 L610.01,668.37 L610.59,668.55 L611.17,668.74 L611.75,668.92 L612.33,669.11 L612.91,669.29 L613.49,669.47 L614.08,669.66 L614.66,669.84 L615.24,670.03 L615.82,670.22 L616.40,670.40 L616.98,670.59 L617.56,670.77 L618.14,670.96 L618.72,671.15 L619.31,671.33 L619.89,671.52 L620.47,671.71 L621.05,671.89 L621.63,672.08 L622.21,672.27 L622.79,672.45 L623.38,672.64 L623.96,672.83 L624.54,673.02 L625.12,673.21 L625.70,673.39 L626.28,673.58 L626.86,673.77 L627.44,673.96 L628.02,674.15 L628.61,674.34 L629.19,674.52 L629.77,674.71 L630.35,674.90 L630.93,675.09 L631.51,675.28 L632.09,675.47 L632.67,675.66 L633.26,675.85 L633.84,676.04 L634.42,676.23 L635.00,676.42 L635.58,676.61 L636.16,676.80 L636.74,676.99 L637.33,677.18 L637.91,677.37 L638.49,677.56 L639.07,677.75 L639.65,677.94 L640.23,678.13 L640.81,678.32 L641.39,678.51 L641.97,678.70 L642.56,678.89 L643.14,679.08 L643.72,679.27 L644.30,679.46 L644.88,679.65 L645.46,679.84 L646.04,680.03 L646.62,680.22 L647.21,680.41 L647.79,680.61 L648.37,680.80 L648.95,680.99 L649.53,681.18 L650.11,681.37 L650.69,681.56 L651.27,681.75 L651.86,681.94 L652.44,682.13 L653.02,682.33 L653.60,682.52 L654.18,682.71 L654.76,682.90 L655.34,683.09 L655.92,683.28 L656.51,683.47 L657.09,683.67 L657.67,683.86 L658.25,684.05 L658.83,684.24 L659.41,684.43 L659.99,684.62 L660.58,684.82 L661.16,685.01 L661.74,685.20 L662.32,685.39 L662.90,685.58 L663.48,685.78 L664.06,685.97 L664.64,686.16 L665.22,686.35 L665.81,686.54 L666.39,686.74 L666.97,686.93 L667.55,687.12 L668.13,687.31 L668.71,687.50 L669.29,687.70 L669.88,687.89 L670.46,688.08 L671.04,688.27 L671.62,688.46 L672.20,688.66 L672.78,688.85 L673.36,689.04 L673.94,689.23 L674.52,689.42 L675.11,689.62 L675.69,689.81 L676.27,690.00 L676.85,690.19 L677.43,690.39 L678.01,690.58 L678.59,690.77 L679.17,690.96 L679.76,691.16 L680.34,691.35 L680.92,691.54 L681.50,691.73 L682.08,691.93 L682.66,692.12 L683.24,692.31 L683.83,692.50 L684.41,692.69 L684.99,692.89 L685.57,693.08 L686.15,693.27 L686.73,693.46 L687.31,693.66 L687.89,693.85 L688.48,694.04 L689.06,694.23 L689.64,694.43 L690.22,694.62 L690.80,694.81 L691.38,695.00 L691.96,695.20 L692.54,695.39 L693.12,695.58 L693.71,695.77 L694.29,695.97 L694.87,696.16 L695.45,696.35 L696.03,696.55 L696.61,696.74 L697.19,696.93 L697.77,697.12 L698.36,697.32 L698.94,697.51 L699.52,697.70 L700.10,697.89 L700.68,698.09 L701.26,698.28 L701.84,698.47 L702.42,698.66 L703.01,698.86 L703.59,699.05 L704.17,699.24 L704.75,699.43 L705.33,699.63 L705.91,699.82 L706.49,700.01 L707.08,700.21 L707.66,700.40 L708.24,700.59 L708.82,700.78 L709.40,700.98 L709.98,701.17 L710.56,701.36 L711.14,701.55 L711.73,701.75 L712.31,701.94 L712.89,702.13 L713.47,702.32 L714.05,702.52 L714.63,702.71 L715.21,702.90 L715.79,703.10 L716.38,703.29 L716.96,703.48 L717.54,703.67 L718.12,703.87 L718.70,704.06 L719.28,704.25 L719.86,704.44 L720.44,704.64 L721.02,704.83 L721.61,705.02 L722.19,705.22 L722.77,705.41 L723.35,705.60 L723.93,705.79 L724.51,705.99 L725.09,706.18 L725.67,706.37 L726.26,706.56 L726.84,706.76 L727.42,706.95 L728.00,707.14 L728.58,707.34 L729.16,707.53 L729.74,707.72 L730.33,707.91 L730.91,708.11 L731.49,708.30 L732.07,708.49 L732.65,708.69" stroke="#00cbd6" stroke-width="3.3" stroke-linejoin="round"/>
<path d="M453.65,637.59 L454.23,637.55 L454.81,637.51 L455.39,637.47 L455.97,637.43 L456.56,637.39 L457.14,637.35 L457.72,637.31 L458.30,637.27 L458.88,637.24 L459.46,637.20 L460.04,637.17 L460.62,637.13 L461.21,637.10 L461.79,637.07 L462.37,637.03 L462.95,637.00 L463.53,636.97 L464.11,636.94 L464.69,636.91 L465.27,636.88 L465.86,636.85 L466.44,636.83 L467.02,636.80 L467.60,636.77 L468.18,636.75 L468.76,636.73 L469.34,636.70 L469.92,636.68 L470.51,636.66 L471.09,636.64 L471.67,636.62 L472.25,636.59 L472.83,636.57 L473.41,636.55 L473.99,636.53 L474.57,636.51 L475.16,636.49 L475.74,636.47 L476.32,636.45 L476.90,636.43 L477.48,636.41 L478.06,636.40 L478.64,636.39 L479.22,636.38 L479.81,636.37 L480.39,636.36 L480.97,636.36 L481.55,636.36 L482.13,636.36 L482.71,636.36 L483.29,636.36 L483.88,636.37 L484.46,636.37 L485.04,636.38 L485.62,636.39 L486.20,636.40 L486.78,636.41 L487.36,636.42 L487.94,636.44 L488.52,636.45 L489.11,636.46 L489.69,636.48 L490.27,636.49 L490.85,636.51 L491.43,636.53 L492.01,636.56 L492.59,636.59 L493.17,636.62 L493.76,636.66 L494.34,636.71 L494.92,636.76 L495.50,636.81 L496.08,636.87 L496.66,636.92 L497.24,636.98 L497.82,637.04 L498.41,637.10 L498.99,637.16 L499.57,637.22 L500.15,637.28 L500.73,637.34 L501.31,637.40 L501.89,637.46 L502.47,637.52 L503.06,637.59 L503.64,637.65 L504.22,637.72 L504.80,637.78 L505.38,637.85 L505.96,637.92 L506.54,637.99 L507.12,638.06 L507.71,638.14 L508.29,638.21 L508.87,638.29 L509.45,638.36 L510.03,638.44 L510.61,638.52 L511.19,638.59 L511.77,638.67 L512.36,638.75 L512.94,638.83 L513.52,638.91 L514.10,638.99 L514.68,639.07 L515.26,639.15 L515.84,639.23 L516.42,639.31 L517.01,639.38 L517.59,639.46 L518.17,639.53 L518.75,639.60 L519.33,639.67 L519.91,639.73 L520.49,639.79 L521.08,639.84 L521.66,639.89 L522.24,639.93 L522.82,639.96 L523.40,639.99 L523.98,640.01 L524.56,640.03 L525.14,640.03 L525.73,640.03 L526.31,640.01 L526.89,639.99 L527.47,639.95 L528.05,639.91 L528.63,639.85 L529.21,639.79 L529.79,639.71 L530.38,639.63 L530.96,639.53 L531.54,639.43 L532.12,639.32 L532.70,639.20 L533.28,639.07 L533.86,638.94 L534.44,638.80 L535.02,638.66 L535.61,638.51 L536.19,638.35 L536.77,638.20 L537.35,638.04 L537.93,637.87 L538.51,637.71 L539.09,637.55 L539.67,637.38 L540.26,637.22 L540.84,637.06 L541.42,636.90 L542.00,636.75 L542.58,636.60 L543.16,636.45 L543.74,636.31 L544.32,636.17 L544.91,636.04 L545.49,635.92 L546.07,635.79 L546.65,635.68 L547.23,635.57 L547.81,635.46 L548.39,635.36 L548.98,635.27 L549.56,635.18 L550.14,635.10 L550.72,635.02 L551.30,634.95 L551.88,634.89 L552.46,634.83 L553.04,634.78 L553.62,634.73 L554.21,634.69 L554.79,634.65 L555.37,634.62 L555.95,634.60 L556.53,634.58 L557.11,634.56 L557.69,634.55 L558.27,634.55 L558.86,634.55 L559.44,634.55 L560.02,634.56 L560.60,634.58 L560.65,634.58 L561.18,634.59 L561.76,634.60 L562.34,634.62 L562.92,634.64 L563.51,634.67 L564.09,634.70 L564.67,634.74 L565.25,634.78 L565.83,634.83 L566.41,634.88 L566.99,634.93 L567.58,634.99 L568.16,635.05 L568.74,635.11 L569.32,635.18 L569.90,635.25 L570.48,635.33 L571.06,635.41 L571.64,635.49 L572.23,635.57 L572.81,635.66 L573.39,635.75 L573.97,635.85 L574.55,635.94 L575.13,636.04 L575.71,636.14 L576.29,636.25 L576.88,636.36 L577.46,636.47 L578.04,636.58 L578.62,636.69 L579.20,636.81 L579.78,636.93 L580.36,637.05 L580.94,637.17 L581.52,637.29 L582.11,637.42 L582.69,637.55 L583.27,637.68 L583.85,637.81 L584.43,637.94 L585.01,638.08 L585.59,638.22 L586.17,638.35 L586.76,638.50 L587.34,638.64 L587.92,638.78 L588.50,638.92 L589.08,639.07 L589.66,639.22 L590.24,639.37 L590.83,639.51 L591.41,639.67 L591.99,639.82 L592.57,639.97 L593.15,640.13 L593.73,640.28 L594.31,640.44 L594.89,640.59 L595.48,640.75 L596.06,640.91 L596.64,641.07 L597.22,641.23 L597.80,641.40 L598.38,641.56 L598.96,641.72 L599.54,641.89 L600.12,642.05 L600.71,642.22 L601.29,642.39 L601.87,642.56 L602.45,642.72 L603.03,642.89 L603.61,643.06 L604.19,643.23 L604.77,643.40 L605.36,643.58 L605.94,643.75 L606.52,643.92 L607.10,644.09 L607.68,644.27 L608.26,644.44 L608.84,644.62 L609.42,644.79 L610.01,644.97 L610.59,645.15 L611.17,645.32 L611.75,645.50 L612.33,645.68 L612.91,645.86 L613.49,646.04 L614.08,646.21 L614.66,646.39 L615.24,646.57 L615.82,646.75 L616.40,646.94 L616.98,647.12 L617.56,647.30 L618.14,647.48 L618.72,647.66 L619.31,647.84 L619.89,648.03 L620.47,648.21 L621.05,648.39 L621.63,648.58 L622.21,648.76 L622.79,648.94 L623.38,649.13 L623.96,649.31 L624.54,649.50 L625.12,649.68 L625.70,649.87 L626.28,650.05 L626.86,650.24 L627.44,650.42 L628.02,650.61 L628.61,650.79 L629.19,650.98 L629.77,651.17 L630.35,651.35 L630.93,651.54 L631.51,651.73 L632.09,651.91 L632.67,652.10 L633.26,652.29 L633.84,652.48 L634.42,652.67 L635.00,652.85 L635.58,653.04 L636.16,653.23 L636.74,653.42 L637.33,653.61 L637.91,653.79 L638.49,653.98 L639.07,654.17 L639.65,654.36 L640.23,654.55 L640.81,654.74 L641.39,654.93 L641.97,655.12 L642.56,655.31 L643.14,655.50 L643.72,655.69 L644.30,655.88 L644.88,656.07 L645.46,656.26 L646.04,656.45 L646.62,656.64 L647.21,656.83 L647.79,657.02 L648.37,657.21 L648.95,657.40 L649.53,657.59 L650.11,657.78 L650.69,657.97 L651.27,658.16 L651.86,658.35 L652.44,658.54 L653.02,658.73 L653.60,658.92 L654.18,659.11 L654.76,659.30 L655.34,659.50 L655.92,659.69 L656.51,659.88 L657.09,660.07 L657.67,660.26 L658.25,660.45 L658.83,660.64 L659.41,660.83 L659.99,661.03 L660.58,661.22 L661.16,661.41 L661.74,661.60 L662.32,661.79 L662.90,661.98 L663.48,662.17 L664.06,662.37 L664.64,662.56 L665.22,662.75 L665.81,662.94 L666.39,663.13 L666.97,663.33 L667.55,663.52 L668.13,663.71 L668.71,663.90 L669.29,664.09 L669.88,664.28 L670.46,664.48 L671.04,664.67 L671.62,664.86 L672.20,665.05 L672.78,665.24 L673.36,665.44 L673.94,665.63 L674.52,665.82 L675.11,666.01 L675.69,666.21 L676.27,666.40 L676.85,666.59 L677.43,666.78 L678.01,666.97 L678.59,667.17 L679.17,667.36 L679.76,667.55 L680.34,667.74 L680.92,667.94 L681.50,668.13 L682.08,668.32 L682.66,668.51 L683.24,668.70 L683.83,668.90 L684.41,669.09 L684.99,669.28 L685.57,669.47 L686.15,669.67 L686.73,669.86 L687.31,670.05 L687.89,670.24 L688.48,670.44 L689.06,670.63 L689.64,670.82 L690.22,671.01 L690.80,671.21 L691.38,671.40 L691.96,671.59 L692.54,671.78 L693.12,671.98 L693.71,672.17 L694.29,672.36 L694.87,672.55 L695.45,672.75 L696.03,672.94 L696.61,673.13 L697.19,673.32 L697.77,673.52 L698.36,673.71 L698.94,673.90 L699.52,674.09 L700.10,674.29 L700.68,674.48 L701.26,674.67 L701.84,674.87 L702.42,675.06 L703.01,675.25 L703.59,675.44 L704.17,675.64 L704.75,675.83 L705.33,676.02 L705.91,676.21 L706.49,676.41 L707.08,676.60 L707.66,676.79 L708.24,676.98 L708.82,677.18 L709.40,677.37 L709.98,677.56 L710.56,677.76 L711.14,677.95 L711.73,678.14 L712.31,678.33 L712.89,678.53 L713.47,678.72 L714.05,678.91 L714.63,679.10 L715.21,679.30 L715.79,679.49 L716.38,679.68 L716.96,679.88 L717.54,680.07 L718.12,680.26 L718.70,680.45 L719.28,680.65 L719.86,680.84 L720.44,681.03 L721.02,681.22 L721.61,681.42 L722.19,681.61 L722.77,681.80 L723.35,682.00 L723.93,682.19 L724.51,682.38 L725.09,682.57 L725.67,682.77 L726.26,682.96 L726.84,683.15 L727.42,683.34 L728.00,683.54 L728.58,683.73 L729.16,683.92 L729.74,684.12 L730.33,684.31 L730.91,684.50 L731.49,684.69 L732.07,684.89 L732.65,685.08" stroke="#000" stroke-width="1.63" stroke-dasharray="6.03 2.61"/>
<path d="M560.65,618.00V803.10" stroke="#000" stroke-width="0.85" stroke-dasharray="5.4 1.36 0.85 1.36"/>
</g>
<rect x="556.00" y="739.50" width="171.1" height="57.3" rx="2.3" fill="#fff" fill-opacity="0.8" stroke="#cccccc" stroke-width="1.1"/>
<path d="M560.56,749.00H583.36" stroke="#0472b6" stroke-width="3.3" stroke-linecap="square"/>
<path d="M560.56,767.70H583.36" stroke="#00cbd6" stroke-width="3.3" stroke-linecap="square"/>
<path d="M560.56,786.00H583.36" stroke="#000" stroke-width="1.63" stroke-dasharray="6.03 2.61"/>
<g fill="#000" stroke="#000" stroke-width="0.12"><text transform="translate(592.77,753.40) scale(1.033,1.007)" font-size="11.40" font-style="italic">K</text><text transform="translate(600.72,755.18) scale(1.007,1.007)" font-size="7.98">1</text><text transform="translate(607.97,753.03) scale(1.082,1.097)" font-size="11.40">·</text><text transform="translate(614.48,753.40) scale(1.241,0.996)" font-size="11.40" font-style="italic">f</text><text transform="translate(618.54,755.18) scale(1.007,1.007)" font-size="7.98">1</text><text transform="translate(624.15,752.68) scale(0.845,0.908)" font-size="11.40">(</text><text transform="translate(628.78,753.40) scale(0.988,0.983)" font-size="11.40" font-style="italic">ν</text><text transform="translate(635.66,752.68) scale(0.845,0.908)" font-size="11.40">)</text><text transform="translate(592.77,772.10) scale(1.033,1.007)" font-size="11.40" font-style="italic">K</text><text transform="translate(600.63,773.88) scale(1.016,1.010)" font-size="7.98">2</text><text transform="translate(606.33,771.38) scale(0.845,0.908)" font-size="11.40">(</text><text transform="translate(610.96,772.10) scale(0.988,0.983)" font-size="11.40" font-style="italic">ν</text><text transform="translate(619.95,767.24) scale(1.232,1.234)" font-size="6.38">*</text><text transform="translate(625.92,771.38) scale(0.845,0.908)" font-size="11.40">)</text><text transform="translate(631.62,771.73) scale(1.082,1.097)" font-size="11.40">·</text><text transform="translate(638.12,772.10) scale(1.241,0.996)" font-size="11.40" font-style="italic">f</text><text transform="translate(642.10,773.88) scale(1.016,1.010)" font-size="7.98">2</text><text transform="translate(647.80,771.38) scale(0.845,0.908)" font-size="11.40">(</text><text transform="translate(652.43,772.10) scale(0.988,0.983)" font-size="11.40" font-style="italic">ν</text><text transform="translate(659.30,771.38) scale(0.845,0.908)" font-size="11.40">)</text><text transform="translate(592.77,790.40) scale(1.033,1.007)" font-size="11.40" font-style="italic">K</text><text transform="translate(600.72,792.18) scale(1.007,1.007)" font-size="7.98">1</text><text transform="translate(607.97,790.03) scale(1.082,1.097)" font-size="11.40">·</text><text transform="translate(614.48,790.40) scale(1.241,0.996)" font-size="11.40" font-style="italic">f</text><text transform="translate(618.54,792.18) scale(1.007,1.007)" font-size="7.98">1</text><text transform="translate(624.15,789.68) scale(0.845,0.908)" font-size="11.40">(</text><text transform="translate(628.78,790.40) scale(0.988,0.983)" font-size="11.40" font-style="italic">ν</text><text transform="translate(635.66,789.68) scale(0.845,0.908)" font-size="11.40">)</text><text transform="translate(642.09,791.62) scale(1.288,1.217)" font-size="11.40">+</text><text transform="translate(653.56,790.40) scale(1.033,1.007)" font-size="11.40" font-style="italic">K</text><text transform="translate(661.41,792.18) scale(1.016,1.010)" font-size="7.98">2</text><text transform="translate(667.12,789.68) scale(0.845,0.908)" font-size="11.40">(</text><text transform="translate(671.74,790.40) scale(0.988,0.983)" font-size="11.40" font-style="italic">ν</text><text transform="translate(680.73,785.54) scale(1.232,1.234)" font-size="6.38">*</text><text transform="translate(686.70,789.68) scale(0.845,0.908)" font-size="11.40">)</text><text transform="translate(692.40,790.03) scale(1.082,1.097)" font-size="11.40">·</text><text transform="translate(698.90,790.40) scale(1.241,0.996)" font-size="11.40" font-style="italic">f</text><text transform="translate(702.88,792.18) scale(1.016,1.010)" font-size="7.98">2</text><text transform="translate(708.58,789.68) scale(0.845,0.908)" font-size="11.40">(</text><text transform="translate(713.21,790.40) scale(0.988,0.983)" font-size="11.40" font-style="italic">ν</text><text transform="translate(720.09,789.68) scale(0.845,0.908)" font-size="11.40">)</text></g>
<rect x="453.65" y="618.0" width="279.0" height="185.1" fill="none" stroke="#000" stroke-width="1.3"/>
<path d="M453.65,803.10v5.8 M546.65,803.10v5.8 M639.65,803.10v5.8 M732.65,803.10v5.8 M453.65,803.10h-5.8 M453.65,772.25h-5.8 M453.65,741.40h-5.8 M453.65,710.55h-5.8 M453.65,679.70h-5.8 M453.65,648.85h-5.8 M453.65,618.00h-5.8" stroke="#000" stroke-width="1.3" fill="none"/>
<path d="M481.65,803.10v3.3 M498.02,803.10v3.3 M509.64,803.10v3.3 M518.65,803.10v3.3 M526.02,803.10v3.3 M532.24,803.10v3.3 M537.64,803.10v3.3 M542.39,803.10v3.3 M574.65,803.10v3.3 M591.02,803.10v3.3 M602.64,803.10v3.3 M611.65,803.10v3.3 M619.02,803.10v3.3 M625.24,803.10v3.3 M630.64,803.10v3.3 M635.39,803.10v3.3 M667.65,803.10v3.3 M684.02,803.10v3.3 M695.64,803.10v3.3 M704.65,803.10v3.3 M712.02,803.10v3.3 M718.24,803.10v3.3 M723.64,803.10v3.3 M728.39,803.10v3.3" stroke="#000" stroke-width="1.0" fill="none"/>
<g fill="#000" stroke="#000" stroke-width="0.15"><text transform="translate(405.09,809.10) scale(1.007,1.007)" font-size="16.60">1</text><text transform="translate(415.51,809.16) scale(1.054,1.015)" font-size="16.60">0</text><text transform="translate(426.31,803.81) scale(1.288,1.106)" font-size="11.62">−</text><text transform="translate(435.90,803.00) scale(1.031,1.007)" font-size="11.62">7</text><text transform="translate(405.09,778.25) scale(1.007,1.007)" font-size="16.60">1</text><text transform="translate(415.51,778.31) scale(1.054,1.015)" font-size="16.60">0</text><text transform="translate(426.31,772.96) scale(1.288,1.106)" font-size="11.62">−</text><text transform="translate(435.99,772.19) scale(0.995,1.012)" font-size="11.62">5</text><text transform="translate(405.09,747.40) scale(1.007,1.007)" font-size="16.60">1</text><text transform="translate(415.51,747.46) scale(1.054,1.015)" font-size="16.60">0</text><text transform="translate(426.31,742.11) scale(1.288,1.106)" font-size="11.62">−</text><text transform="translate(435.99,741.34) scale(1.012,1.015)" font-size="11.62">3</text><text transform="translate(405.09,716.55) scale(1.007,1.007)" font-size="16.60">1</text><text transform="translate(415.51,716.61) scale(1.054,1.015)" font-size="16.60">0</text><text transform="translate(426.31,711.26) scale(1.288,1.106)" font-size="11.62">−</text><text transform="translate(435.94,710.45) scale(1.007,1.007)" font-size="11.62">1</text><text transform="translate(414.83,685.70) scale(1.007,1.007)" font-size="16.60">1</text><text transform="translate(425.24,685.76) scale(1.054,1.015)" font-size="16.60">0</text><text transform="translate(435.94,679.60) scale(1.007,1.007)" font-size="11.62">1</text><text transform="translate(414.83,654.85) scale(1.007,1.007)" font-size="16.60">1</text><text transform="translate(425.24,654.91) scale(1.054,1.015)" font-size="16.60">0</text><text transform="translate(435.99,648.79) scale(1.012,1.015)" font-size="11.62">3</text><text transform="translate(414.83,624.00) scale(1.007,1.007)" font-size="16.60">1</text><text transform="translate(425.24,624.06) scale(1.054,1.015)" font-size="16.60">0</text><text transform="translate(435.99,617.94) scale(0.995,1.012)" font-size="11.62">5</text><text transform="translate(435.40,827.20) scale(1.007,1.007)" font-size="16.60">1</text><text transform="translate(445.81,827.26) scale(1.054,1.015)" font-size="16.60">0</text><text transform="translate(456.62,821.91) scale(1.288,1.106)" font-size="11.62">−</text><text transform="translate(466.25,821.10) scale(1.007,1.007)" font-size="11.62">1</text><text transform="translate(533.26,827.20) scale(1.007,1.007)" font-size="16.60">1</text><text transform="translate(543.68,827.26) scale(1.054,1.015)" font-size="16.60">0</text><text transform="translate(554.28,821.14) scale(1.054,1.015)" font-size="11.62">0</text><text transform="translate(626.26,827.20) scale(1.007,1.007)" font-size="16.60">1</text><text transform="translate(636.68,827.26) scale(1.054,1.015)" font-size="16.60">0</text><text transform="translate(647.38,821.10) scale(1.007,1.007)" font-size="11.62">1</text><text transform="translate(719.26,827.20) scale(1.007,1.007)" font-size="16.60">1</text><text transform="translate(729.68,827.26) scale(1.054,1.015)" font-size="16.60">0</text><text transform="translate(740.25,821.10) scale(1.016,1.010)" font-size="11.62">2</text><text transform="translate(500.85,609.23) scale(1.073,1.050)" font-size="19.50" font-style="italic">ε</text><text transform="translate(515.91,608.67) scale(1.288,0.876)" font-size="19.50">=</text><text transform="translate(535.60,609.22) scale(1.054,1.068)" font-size="19.50">0</text><text transform="translate(547.68,609.15) scale(1.082,1.160)" font-size="19.50">.</text><text transform="translate(554.20,609.22) scale(1.054,1.068)" font-size="19.50">0</text><text transform="translate(566.61,609.22) scale(1.054,1.068)" font-size="19.50">0</text><text transform="translate(579.26,609.22) scale(0.995,1.065)" font-size="19.50">5</text><text transform="translate(589.89,608.86) scale(1.458,1.023)" font-size="19.50">,</text><text transform="translate(604.92,609.23) scale(1.025,1.051)" font-size="19.50" font-style="italic">s</text><text transform="translate(619.64,608.67) scale(1.288,0.876)" font-size="19.50">=</text><text transform="translate(644.16,610.59) scale(1.288,1.164)" font-size="19.50">−</text><text transform="translate(665.09,609.22) scale(1.012,1.068)" font-size="19.50">3</text></g>
<g fill="#000"><text transform="translate(514.09,850.50) scale(1.091,1.038)" font-size="16.60">T</text><text transform="translate(524.79,850.50) scale(1.281,1.020)" font-size="16.60">r</text><text transform="translate(531.76,850.56) scale(1.078,1.046)" font-size="16.60">u</text><text transform="translate(542.35,850.50) scale(1.078,1.020)" font-size="16.60">n</text><text transform="translate(552.76,850.56) scale(1.003,1.027)" font-size="16.60">c</text><text transform="translate(562.05,850.56) scale(0.899,1.027)" font-size="16.60">a</text><text transform="translate(571.97,850.36) scale(1.337,1.052)" font-size="16.60">t</text><text transform="translate(578.79,850.50) scale(1.022,1.028)" font-size="16.60">i</text><text transform="translate(583.15,850.56) scale(1.063,1.027)" font-size="16.60">o</text><text transform="translate(593.45,850.50) scale(1.078,1.020)" font-size="16.60">n</text><text transform="translate(609.00,850.50) scale(1.313,1.029)" font-size="16.60">f</text><text transform="translate(615.14,850.56) scale(0.899,1.027)" font-size="16.60">a</text><text transform="translate(625.15,850.56) scale(1.003,1.027)" font-size="16.60">c</text><text transform="translate(634.18,850.36) scale(1.337,1.052)" font-size="16.60">t</text><text transform="translate(640.76,850.56) scale(1.063,1.027)" font-size="16.60">o</text><text transform="translate(650.83,850.50) scale(1.281,1.020)" font-size="16.60">r</text><text transform="translate(663.53,850.50) scale(0.988,1.014)" font-size="16.60" font-style="italic">ν</text></g>
<g fill="#1c1c1c" stroke="#1c1c1c" stroke-width="0.45"><text transform="translate(384.35,591.52) scale(0.827,0.94)" font-size="23.15" font-weight="bold">(</text><text transform="translate(391.92,591.88) scale(0.951,1.0)" font-size="23.15" font-weight="bold">f</text><text transform="translate(400.88,591.52) scale(0.827,0.94)" font-size="23.15" font-weight="bold">)</text></g>
</svg></body></html>
